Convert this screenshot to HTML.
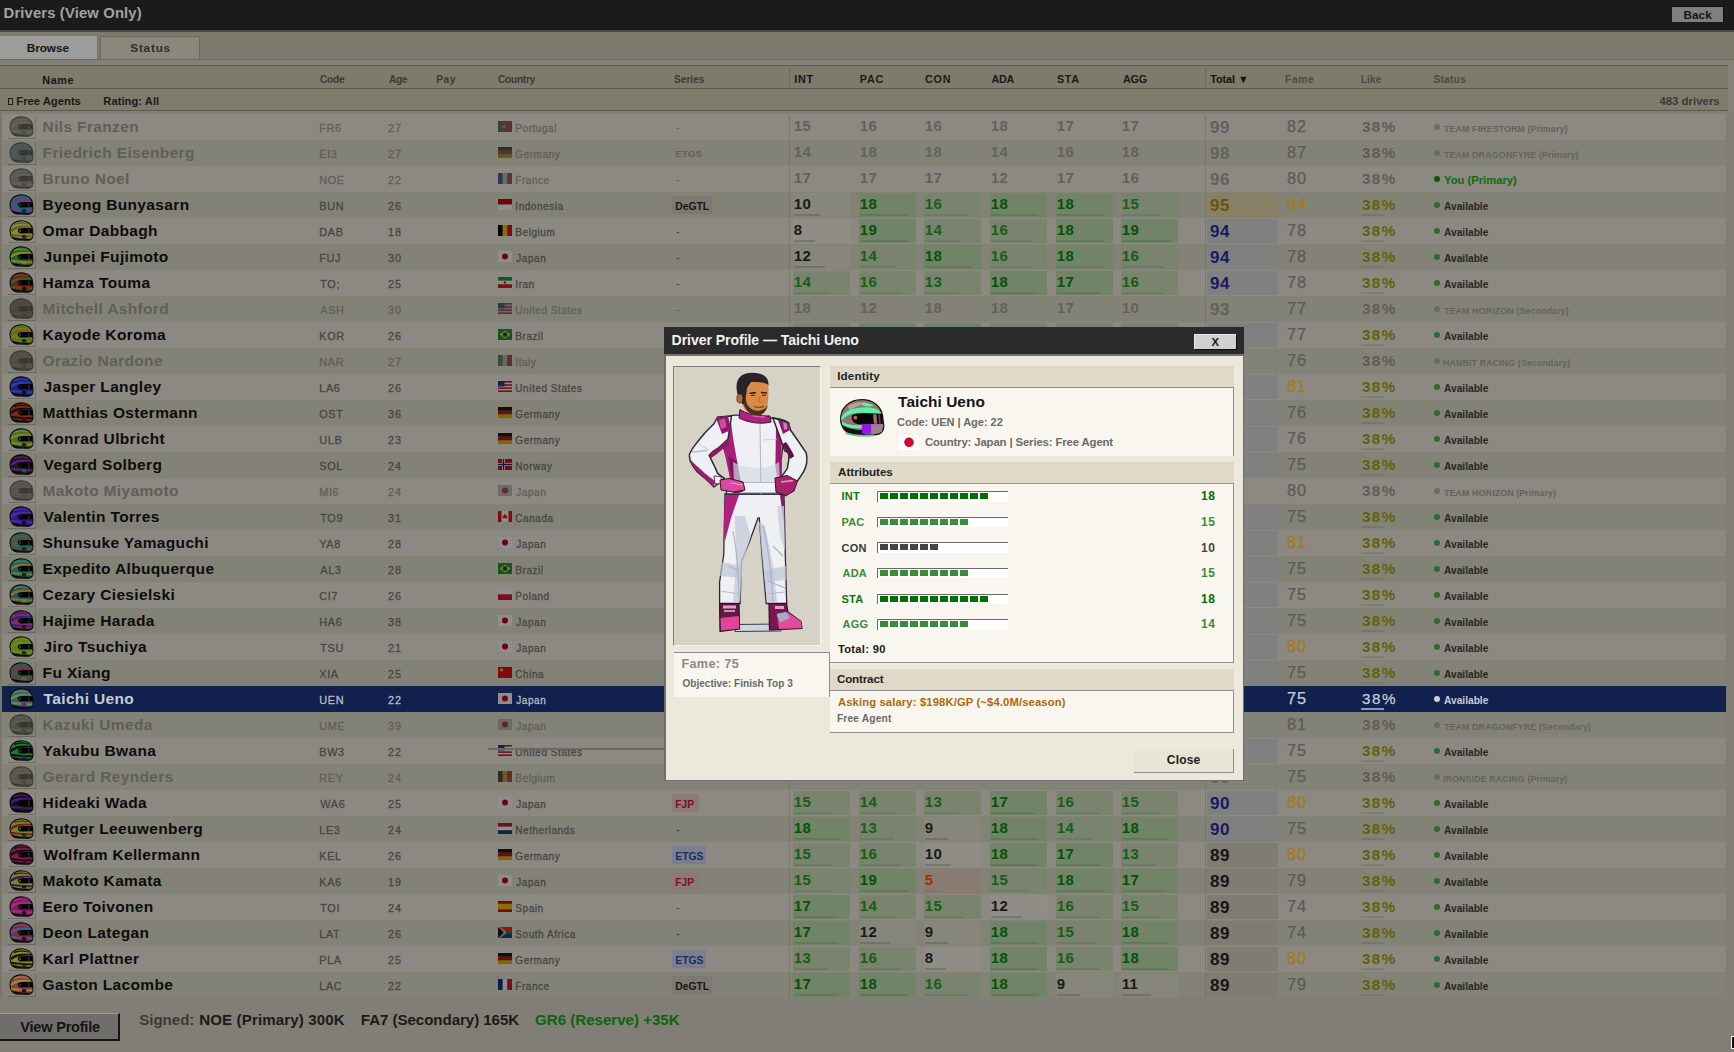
<!DOCTYPE html><html><head><meta charset="utf-8"><style>
html,body{margin:0;padding:0;}
body{width:1734px;height:1052px;overflow:hidden;position:relative;background:#817e75;font-family:"DejaVu Sans","Liberation Sans",sans-serif;}
.t{position:absolute;white-space:nowrap;}
.r{position:absolute;}

</style></head><body>
<div class="r" style="left:0px;top:0px;width:1734px;height:30px;background:#1b1b1b;"></div>
<div class="r" style="left:0px;top:30px;width:1734px;height:1.6px;background:#4b4b4a;"></div>
<div class="t" style="left:3.6px;top:4.22px;font-size:14.83px;line-height:19.28px;color:#a2a2a2;font-family:'Liberation Sans', 'DejaVu Sans', sans-serif;font-weight:bold;letter-spacing:0.13px;-webkit-text-stroke:0;">Drivers (View Only)</div>
<div class="r" style="left:1671.5px;top:6px;width:52px;height:16px;background:#7f7f7f;box-sizing:border-box;border-top:1px solid #0c0c0c;border-right:1px solid #0c0c0c;"></div>
<div class="t" style="left:1683.6px;top:6.70px;font-size:11.64px;line-height:15.13px;color:#141414;font-family:'Liberation Sans', 'DejaVu Sans', sans-serif;font-weight:bold;letter-spacing:0.07px;-webkit-text-stroke:0;">Back</div>
<div class="r" style="left:0px;top:31.6px;width:1734px;height:28px;background:#7e7b6e;"></div>
<div class="r" style="left:0px;top:35.8px;width:97px;height:23.4px;background:#9c9c9a;border-right:1px solid #77746a;"></div>
<div class="r" style="left:99.5px;top:35.8px;width:100px;height:23.4px;background:#8b877b;box-sizing:border-box;border:1px solid #6a675d;border-bottom:none;border-radius:2px 2px 0 0;"></div>
<div class="t" style="left:26.7px;top:40.27px;font-size:11.77px;line-height:15.3px;color:#161616;font-family:'Liberation Sans', 'DejaVu Sans', sans-serif;font-weight:bold;letter-spacing:-0.04px;-webkit-text-stroke:0;">Browse</div>
<div class="t" style="left:130.3px;top:40.27px;font-size:11.77px;line-height:15.3px;color:#2e2e2b;font-family:'Liberation Sans', 'DejaVu Sans', sans-serif;font-weight:bold;letter-spacing:0.78px;-webkit-text-stroke:0;">Status</div>
<div class="r" style="left:0px;top:59px;width:1734px;height:1px;background:#6c6a62;"></div>
<div class="r" style="left:0px;top:60px;width:1734px;height:5px;background:#84817a;"></div>
<div class="r" style="left:0px;top:65px;width:1728px;height:1px;background:#5f5d55;"></div>
<div class="r" style="left:0px;top:66px;width:1728px;height:22px;background:#7e7a6c;"></div>
<div class="r" style="left:0px;top:88px;width:1728px;height:1px;background:#5a584c;"></div>
<div class="t" style="left:42.3px;top:72.77px;font-size:10.87px;line-height:14.13px;color:#161616;font-family:'Liberation Sans', 'DejaVu Sans', sans-serif;font-weight:bold;letter-spacing:0.53px;-webkit-text-stroke:0;">Name</div>
<div class="t" style="left:319.9px;top:73.47px;font-size:10.17px;line-height:13.22px;color:#3a3a37;font-family:'Liberation Sans', 'DejaVu Sans', sans-serif;font-weight:bold;letter-spacing:-0.2px;-webkit-text-stroke:0;">Code</div>
<div class="t" style="left:389.1px;top:73.47px;font-size:10.17px;line-height:13.22px;color:#3a3a37;font-family:'Liberation Sans', 'DejaVu Sans', sans-serif;font-weight:bold;letter-spacing:-0.4px;-webkit-text-stroke:0;">Age</div>
<div class="t" style="left:436.3px;top:73.47px;font-size:10.17px;line-height:13.22px;color:#3a3a37;font-family:'Liberation Sans', 'DejaVu Sans', sans-serif;font-weight:bold;letter-spacing:0.55px;-webkit-text-stroke:0;">Pay</div>
<div class="t" style="left:498.0px;top:73.47px;font-size:10.17px;line-height:13.22px;color:#3a3a37;font-family:'Liberation Sans', 'DejaVu Sans', sans-serif;font-weight:bold;letter-spacing:-0.28px;-webkit-text-stroke:0;">Country</div>
<div class="t" style="left:674.1px;top:73.47px;font-size:10.17px;line-height:13.22px;color:#3a3a37;font-family:'Liberation Sans', 'DejaVu Sans', sans-serif;font-weight:bold;letter-spacing:-0.04px;-webkit-text-stroke:0;">Series</div>
<div class="t" style="left:794.3px;top:72.88px;font-size:10.76px;line-height:13.99px;color:#161616;font-family:'Liberation Sans', 'DejaVu Sans', sans-serif;font-weight:bold;letter-spacing:0.7px;-webkit-text-stroke:0;">INT</div>
<div class="t" style="left:859.8px;top:72.88px;font-size:10.76px;line-height:13.99px;color:#1a1a1a;font-family:'Liberation Sans', 'DejaVu Sans', sans-serif;font-weight:bold;letter-spacing:0.8px;-webkit-text-stroke:0;">PAC</div>
<div class="t" style="left:925.0px;top:72.88px;font-size:10.76px;line-height:13.99px;color:#1a1a1a;font-family:'Liberation Sans', 'DejaVu Sans', sans-serif;font-weight:bold;letter-spacing:0.8px;-webkit-text-stroke:0;">CON</div>
<div class="t" style="left:991.5px;top:72.88px;font-size:10.76px;line-height:13.99px;color:#1a1a1a;font-family:'Liberation Sans', 'DejaVu Sans', sans-serif;font-weight:bold;letter-spacing:-0.25px;-webkit-text-stroke:0;">ADA</div>
<div class="t" style="left:1056.9px;top:72.88px;font-size:10.76px;line-height:13.99px;color:#1a1a1a;font-family:'Liberation Sans', 'DejaVu Sans', sans-serif;font-weight:bold;letter-spacing:0.7px;-webkit-text-stroke:0;">STA</div>
<div class="t" style="left:1123.0px;top:72.88px;font-size:10.76px;line-height:13.99px;color:#1a1a1a;font-family:'Liberation Sans', 'DejaVu Sans', sans-serif;font-weight:bold;letter-spacing:-0.15px;-webkit-text-stroke:0;">AGG</div>
<div class="t" style="left:1210.2px;top:72.88px;font-size:10.76px;line-height:13.99px;color:#121212;font-family:'Liberation Sans', 'DejaVu Sans', sans-serif;font-weight:bold;letter-spacing:0.0px;-webkit-text-stroke:0;">Total ▼</div>
<div class="t" style="left:1285.1px;top:73.47px;font-size:10.17px;line-height:13.22px;color:#4a4a46;font-family:'Liberation Sans', 'DejaVu Sans', sans-serif;font-weight:bold;letter-spacing:0.67px;-webkit-text-stroke:0;">Fame</div>
<div class="t" style="left:1360.7px;top:73.47px;font-size:10.17px;line-height:13.22px;color:#4a4a46;font-family:'Liberation Sans', 'DejaVu Sans', sans-serif;font-weight:bold;letter-spacing:0.17px;-webkit-text-stroke:0;">Like</div>
<div class="t" style="left:1433.4px;top:73.47px;font-size:10.17px;line-height:13.22px;color:#4a4a46;font-family:'Liberation Sans', 'DejaVu Sans', sans-serif;font-weight:bold;letter-spacing:0.28px;-webkit-text-stroke:0;">Status</div>
<div class="r" style="left:789px;top:68px;width:1px;height:20px;background:#6c695e;"></div>
<div class="r" style="left:1205px;top:68px;width:1px;height:20px;background:#6c695e;"></div>
<div class="r" style="left:0px;top:89px;width:1728px;height:21px;background:#7f7b6d;"></div>
<div class="r" style="left:0px;top:110px;width:1728px;height:1.3px;background:#5f5a48;"></div>
<div class="r" style="left:8px;top:97.5px;width:4.5px;height:7.5px;border:1px solid #1e1e1e;box-sizing:border-box;"></div>
<div class="t" style="left:16.3px;top:93.58px;font-size:11.36px;line-height:14.77px;color:#1a1a1a;font-family:'Liberation Sans', 'DejaVu Sans', sans-serif;font-weight:bold;letter-spacing:-0.06px;-webkit-text-stroke:0;">Free Agents</div>
<div class="t" style="left:103.3px;top:93.83px;font-size:11.11px;line-height:14.44px;color:#1a1a1a;font-family:'Liberation Sans', 'DejaVu Sans', sans-serif;font-weight:bold;letter-spacing:0.07px;-webkit-text-stroke:0;">Rating: All</div>
<div class="t" style="left:1659.4px;top:93.51px;font-size:11.43px;line-height:14.86px;color:#3a3a37;font-family:'Liberation Sans', 'DejaVu Sans', sans-serif;font-weight:bold;letter-spacing:0.0px;-webkit-text-stroke:0;">483 drivers</div>
<div class="r" style="left:0px;top:111.3px;width:1734px;height:890px;background:#817e75;"></div>
<div class="r" style="left:1726px;top:111.3px;width:8px;height:887px;background:#807e76;"></div>
<div class="r" style="left:1728px;top:60px;width:6px;height:51.3px;background:#85827a;"></div>
<div class="r" style="left:0px;top:112px;width:2px;height:886px;background:#7b776a;"></div>
<div class="r" style="left:2px;top:114px;width:1724px;height:26px;background:#8b8981;"></div>
<div class="r" style="left:8px;top:138px;width:28px;height:1px;background:rgba(60,58,50,0.35);"></div>
<div class="r" style="left:35px;top:116px;width:1px;height:23px;background:rgba(60,58,50,0.25);"></div>
<svg class="r" style="left:8.5px;top:115.8px;filter:brightness(0.5) saturate(0.7)" width="25.0" height="21.0" viewBox="0 0 26 22"><g opacity="0.6">
<path d="M1,12 C0.5,5 6,0.8 13,0.8 C19.5,0.8 24,4.5 24.6,10 L25,16 C25,19.5 22.5,21.2 19,21.2 L8,20.8 C4,20.3 1.5,17 1,12 Z" fill="#6e7a3c" stroke="#0a0a0a" stroke-width="1.1"/>
<path d="M5,4.2 C9,2.4 15,2.2 20,3.6 L20.8,4.8 C15,3.6 9.5,3.8 5.6,5.6 Z" fill="#8a9a48"/>
<path d="M1.6,10.5 C5,6.5 12,5.4 22.5,6.4 L23.6,8 C15,7.2 8,8 2.2,12.6 Z" fill="#8a9a48"/>
<path d="M1.8,14.4 C7,14.8 13,16 24.6,16.2 L24.5,18 C14,18 7,17.4 2.8,17 Z" fill="#8a9a48"/>
<path d="M2.6,17.2 C7,18.6 13,19.6 23.5,19.6 C22.5,20.8 21,21.2 19,21.2 L8,20.8 C5,20.4 3.4,19 2.6,17.2 Z" fill="#141414"/>
<path d="M9.6,9.4 C11.5,8.4 16,8.2 24.6,8.6 L24.8,13.8 L12.6,14.2 C10.4,14 9.2,12.6 9.2,11.2 C9.2,10.4 9.3,9.8 9.6,9.4 Z" fill="#050508"/>
<circle cx="11.3" cy="11.2" r="1.3" fill="#6e7a3c" opacity="0.55"/>
<path d="M19.6,8.8 L21.2,8.8 L21.6,13.8 L20,13.9 Z" fill="#fff" opacity="0.22"/>
<path d="M13.5,15.6 L18,16 L18,19.4 L13.5,19.2 Z" fill="#5a4aa0"/>
</g></svg>
<div class="t" style="left:42.6px;top:116.55px;font-size:15.5px;line-height:20.15px;color:#5f5e5a;font-family:'Liberation Sans', 'DejaVu Sans', sans-serif;font-weight:bold;letter-spacing:0.35px;-webkit-text-stroke:0;">Nils Franzen</div>
<div class="t" style="left:319.3px;top:121.14px;font-size:10.9px;line-height:14.17px;color:#5f5e5a;font-family:'Liberation Sans', 'DejaVu Sans', sans-serif;font-weight:normal;letter-spacing:0.6px;-webkit-text-stroke:0.3px #5f5e5a;">FR6</div>
<div class="t" style="left:387.9px;top:121.24px;font-size:10.8px;line-height:14.04px;color:#5f5e5a;font-family:'Liberation Sans', 'DejaVu Sans', sans-serif;font-weight:normal;letter-spacing:1px;-webkit-text-stroke:0.3px #5f5e5a;">27</div>
<svg class="r" style="left:498px;top:121px" width="14" height="11" viewBox="0 0 14 11"><g opacity="0.45"><rect width="6" height="11" fill="#1f6a2a"/><rect x="6" width="8" height="11" fill="#b02020"/><circle cx="6" cy="5.5" r="2" fill="#d0b020"/></g><rect width="14" height="11" fill="rgba(0,0,0,0.42)"/></svg>
<div class="t" style="left:515.3px;top:122.03px;font-size:10px;line-height:13.0px;color:#5f5e5a;font-family:'Liberation Sans', 'DejaVu Sans', sans-serif;font-weight:normal;letter-spacing:0.55px;-webkit-text-stroke:0.3px #5f5e5a;">Portugal</div>
<div class="t" style="left:676.3px;top:122.43px;font-size:9.6px;line-height:12.48px;color:#5f5e5a;font-family:'Liberation Sans', 'DejaVu Sans', sans-serif;font-weight:bold;letter-spacing:0.2px;-webkit-text-stroke:0;">-</div>
<div class="r" style="left:789px;top:115px;width:1px;height:24px;background:rgba(90,88,78,0.35);"></div>
<div class="t" style="left:793.8px;top:116.45px;font-size:15px;line-height:19.5px;color:#62615d;font-family:'Liberation Sans', 'DejaVu Sans', sans-serif;font-weight:bold;-webkit-text-stroke:0px #62615d;letter-spacing:0.3px;">15</div>
<div class="t" style="left:859.8px;top:116.45px;font-size:15px;line-height:19.5px;color:#62615d;font-family:'Liberation Sans', 'DejaVu Sans', sans-serif;font-weight:bold;-webkit-text-stroke:0px #62615d;letter-spacing:0.3px;">16</div>
<div class="t" style="left:924.8px;top:116.45px;font-size:15px;line-height:19.5px;color:#62615d;font-family:'Liberation Sans', 'DejaVu Sans', sans-serif;font-weight:bold;-webkit-text-stroke:0px #62615d;letter-spacing:0.3px;">16</div>
<div class="t" style="left:990.8px;top:116.45px;font-size:15px;line-height:19.5px;color:#62615d;font-family:'Liberation Sans', 'DejaVu Sans', sans-serif;font-weight:bold;-webkit-text-stroke:0px #62615d;letter-spacing:0.3px;">18</div>
<div class="t" style="left:1056.8px;top:116.45px;font-size:15px;line-height:19.5px;color:#62615d;font-family:'Liberation Sans', 'DejaVu Sans', sans-serif;font-weight:bold;-webkit-text-stroke:0px #62615d;letter-spacing:0.3px;">17</div>
<div class="t" style="left:1121.8px;top:116.45px;font-size:15px;line-height:19.5px;color:#62615d;font-family:'Liberation Sans', 'DejaVu Sans', sans-serif;font-weight:bold;-webkit-text-stroke:0px #62615d;letter-spacing:0.3px;">17</div>
<div class="r" style="left:1205px;top:115px;width:1px;height:24px;background:rgba(90,88,78,0.35);"></div>
<div class="t" style="left:1210px;top:116.66px;font-size:17px;line-height:22.1px;color:#62615d;font-family:'Liberation Sans', 'DejaVu Sans', sans-serif;font-weight:bold;-webkit-text-stroke:0px #62615d;letter-spacing:0.5px;">99</div>
<div class="t" style="left:1287px;top:116.16px;font-size:16.3px;line-height:21.19px;color:#5c5b57;font-family:'Liberation Sans', 'DejaVu Sans', sans-serif;font-weight:normal;-webkit-text-stroke:0.25px #5c5b57;letter-spacing:1px;">82</div>
<div class="t" style="left:1362px;top:117.15px;font-size:15.2px;line-height:19.76px;color:#5e5d59;font-family:'Liberation Sans', 'DejaVu Sans', sans-serif;font-weight:bold;-webkit-text-stroke:0px #5e5d59;letter-spacing:1.4px;">38%</div>
<div class="r" style="left:1434px;top:124px;width:6px;height:6px;border-radius:50%;background:#6a6a66"></div>
<div class="t" style="left:1444.0px;top:123.83px;font-size:8.9px;line-height:11.57px;color:#63625e;font-family:'Liberation Sans', 'DejaVu Sans', sans-serif;font-weight:bold;letter-spacing:0.1px;-webkit-text-stroke:0;">TEAM FIRESTORM (Primary)</div>
<div class="r" style="left:2px;top:140px;width:1724px;height:26px;background:#838276;"></div>
<div class="r" style="left:8px;top:164px;width:28px;height:1px;background:rgba(60,58,50,0.35);"></div>
<div class="r" style="left:35px;top:142px;width:1px;height:23px;background:rgba(60,58,50,0.25);"></div>
<svg class="r" style="left:8.5px;top:141.8px;filter:brightness(0.5) saturate(0.7)" width="25.0" height="21.0" viewBox="0 0 26 22"><g opacity="0.6">
<path d="M1,12 C0.5,5 6,0.8 13,0.8 C19.5,0.8 24,4.5 24.6,10 L25,16 C25,19.5 22.5,21.2 19,21.2 L8,20.8 C4,20.3 1.5,17 1,12 Z" fill="#4d7a86" stroke="#0a0a0a" stroke-width="1.1"/>
<path d="M5,4.2 C9,2.4 15,2.2 20,3.6 L20.8,4.8 C15,3.6 9.5,3.8 5.6,5.6 Z" fill="#5c6aa0"/>
<path d="M1.6,10.5 C5,6.5 12,5.4 22.5,6.4 L23.6,8 C15,7.2 8,8 2.2,12.6 Z" fill="#5c6aa0"/>
<path d="M1.8,14.4 C7,14.8 13,16 24.6,16.2 L24.5,18 C14,18 7,17.4 2.8,17 Z" fill="#5c6aa0"/>
<path d="M2.6,17.2 C7,18.6 13,19.6 23.5,19.6 C22.5,20.8 21,21.2 19,21.2 L8,20.8 C5,20.4 3.4,19 2.6,17.2 Z" fill="#141414"/>
<path d="M9.6,9.4 C11.5,8.4 16,8.2 24.6,8.6 L24.8,13.8 L12.6,14.2 C10.4,14 9.2,12.6 9.2,11.2 C9.2,10.4 9.3,9.8 9.6,9.4 Z" fill="#050508"/>
<circle cx="11.3" cy="11.2" r="1.3" fill="#4d7a86" opacity="0.55"/>
<path d="M19.6,8.8 L21.2,8.8 L21.6,13.8 L20,13.9 Z" fill="#fff" opacity="0.22"/>
<path d="M13.5,15.6 L18,16 L18,19.4 L13.5,19.2 Z" fill="#3a3a5a"/>
</g></svg>
<div class="t" style="left:42.6px;top:142.55px;font-size:15.5px;line-height:20.15px;color:#5f5e5a;font-family:'Liberation Sans', 'DejaVu Sans', sans-serif;font-weight:bold;letter-spacing:0.35px;-webkit-text-stroke:0;">Friedrich Eisenberg</div>
<div class="t" style="left:319.3px;top:147.14px;font-size:10.9px;line-height:14.17px;color:#5f5e5a;font-family:'Liberation Sans', 'DejaVu Sans', sans-serif;font-weight:normal;letter-spacing:0.6px;-webkit-text-stroke:0.3px #5f5e5a;">EI3</div>
<div class="t" style="left:387.9px;top:147.24px;font-size:10.8px;line-height:14.04px;color:#5f5e5a;font-family:'Liberation Sans', 'DejaVu Sans', sans-serif;font-weight:normal;letter-spacing:1px;-webkit-text-stroke:0.3px #5f5e5a;">27</div>
<svg class="r" style="left:498px;top:147px" width="14" height="11" viewBox="0 0 14 11"><g opacity="0.45"><rect width="14" height="3.7" fill="#1a1a1a"/><rect y="3.7" width="14" height="3.7" fill="#c01818"/><rect y="7.4" width="14" height="3.6" fill="#e0b000"/></g><rect width="14" height="11" fill="rgba(0,0,0,0.42)"/></svg>
<div class="t" style="left:515.3px;top:148.03px;font-size:10px;line-height:13.0px;color:#5f5e5a;font-family:'Liberation Sans', 'DejaVu Sans', sans-serif;font-weight:normal;letter-spacing:0.55px;-webkit-text-stroke:0.3px #5f5e5a;">Germany</div>
<div class="t" style="left:675.3px;top:148.43px;font-size:9.6px;line-height:12.48px;color:#5f5e5a;font-family:'Liberation Sans', 'DejaVu Sans', sans-serif;font-weight:bold;letter-spacing:0.2px;-webkit-text-stroke:0;">ETGS</div>
<div class="r" style="left:789px;top:141px;width:1px;height:24px;background:rgba(90,88,78,0.35);"></div>
<div class="t" style="left:793.8px;top:142.45px;font-size:15px;line-height:19.5px;color:#62615d;font-family:'Liberation Sans', 'DejaVu Sans', sans-serif;font-weight:bold;-webkit-text-stroke:0px #62615d;letter-spacing:0.3px;">14</div>
<div class="t" style="left:859.8px;top:142.45px;font-size:15px;line-height:19.5px;color:#62615d;font-family:'Liberation Sans', 'DejaVu Sans', sans-serif;font-weight:bold;-webkit-text-stroke:0px #62615d;letter-spacing:0.3px;">18</div>
<div class="t" style="left:924.8px;top:142.45px;font-size:15px;line-height:19.5px;color:#62615d;font-family:'Liberation Sans', 'DejaVu Sans', sans-serif;font-weight:bold;-webkit-text-stroke:0px #62615d;letter-spacing:0.3px;">18</div>
<div class="t" style="left:990.8px;top:142.45px;font-size:15px;line-height:19.5px;color:#62615d;font-family:'Liberation Sans', 'DejaVu Sans', sans-serif;font-weight:bold;-webkit-text-stroke:0px #62615d;letter-spacing:0.3px;">14</div>
<div class="t" style="left:1056.8px;top:142.45px;font-size:15px;line-height:19.5px;color:#62615d;font-family:'Liberation Sans', 'DejaVu Sans', sans-serif;font-weight:bold;-webkit-text-stroke:0px #62615d;letter-spacing:0.3px;">16</div>
<div class="t" style="left:1121.8px;top:142.45px;font-size:15px;line-height:19.5px;color:#62615d;font-family:'Liberation Sans', 'DejaVu Sans', sans-serif;font-weight:bold;-webkit-text-stroke:0px #62615d;letter-spacing:0.3px;">18</div>
<div class="r" style="left:1205px;top:141px;width:1px;height:24px;background:rgba(90,88,78,0.35);"></div>
<div class="t" style="left:1210px;top:142.66px;font-size:17px;line-height:22.1px;color:#62615d;font-family:'Liberation Sans', 'DejaVu Sans', sans-serif;font-weight:bold;-webkit-text-stroke:0px #62615d;letter-spacing:0.5px;">98</div>
<div class="t" style="left:1287px;top:142.16px;font-size:16.3px;line-height:21.19px;color:#5c5b57;font-family:'Liberation Sans', 'DejaVu Sans', sans-serif;font-weight:normal;-webkit-text-stroke:0.25px #5c5b57;letter-spacing:1px;">87</div>
<div class="t" style="left:1362px;top:143.15px;font-size:15.2px;line-height:19.76px;color:#5e5d59;font-family:'Liberation Sans', 'DejaVu Sans', sans-serif;font-weight:bold;-webkit-text-stroke:0px #5e5d59;letter-spacing:1.4px;">38%</div>
<div class="r" style="left:1434px;top:150px;width:6px;height:6px;border-radius:50%;background:#6a6a66"></div>
<div class="t" style="left:1444.0px;top:149.83px;font-size:8.9px;line-height:11.57px;color:#63625e;font-family:'Liberation Sans', 'DejaVu Sans', sans-serif;font-weight:bold;letter-spacing:0.1px;-webkit-text-stroke:0;">TEAM DRAGONFYRE (Primary)</div>
<div class="r" style="left:2px;top:166px;width:1724px;height:26px;background:#8b8981;"></div>
<div class="r" style="left:8px;top:190px;width:28px;height:1px;background:rgba(60,58,50,0.35);"></div>
<div class="r" style="left:35px;top:168px;width:1px;height:23px;background:rgba(60,58,50,0.25);"></div>
<svg class="r" style="left:8.5px;top:167.8px;filter:brightness(0.5) saturate(0.7)" width="25.0" height="21.0" viewBox="0 0 26 22"><g opacity="0.6">
<path d="M1,12 C0.5,5 6,0.8 13,0.8 C19.5,0.8 24,4.5 24.6,10 L25,16 C25,19.5 22.5,21.2 19,21.2 L8,20.8 C4,20.3 1.5,17 1,12 Z" fill="#8a5a8a" stroke="#0a0a0a" stroke-width="1.1"/>
<path d="M5,4.2 C9,2.4 15,2.2 20,3.6 L20.8,4.8 C15,3.6 9.5,3.8 5.6,5.6 Z" fill="#6a9a5a"/>
<path d="M1.6,10.5 C5,6.5 12,5.4 22.5,6.4 L23.6,8 C15,7.2 8,8 2.2,12.6 Z" fill="#6a9a5a"/>
<path d="M1.8,14.4 C7,14.8 13,16 24.6,16.2 L24.5,18 C14,18 7,17.4 2.8,17 Z" fill="#6a9a5a"/>
<path d="M2.6,17.2 C7,18.6 13,19.6 23.5,19.6 C22.5,20.8 21,21.2 19,21.2 L8,20.8 C5,20.4 3.4,19 2.6,17.2 Z" fill="#141414"/>
<path d="M9.6,9.4 C11.5,8.4 16,8.2 24.6,8.6 L24.8,13.8 L12.6,14.2 C10.4,14 9.2,12.6 9.2,11.2 C9.2,10.4 9.3,9.8 9.6,9.4 Z" fill="#050508"/>
<circle cx="11.3" cy="11.2" r="1.3" fill="#8a5a8a" opacity="0.55"/>
<path d="M19.6,8.8 L21.2,8.8 L21.6,13.8 L20,13.9 Z" fill="#fff" opacity="0.22"/>
<path d="M13.5,15.6 L18,16 L18,19.4 L13.5,19.2 Z" fill="#5a3a5a"/>
</g></svg>
<div class="t" style="left:42.6px;top:168.55px;font-size:15.5px;line-height:20.15px;color:#5f5e5a;font-family:'Liberation Sans', 'DejaVu Sans', sans-serif;font-weight:bold;letter-spacing:0.35px;-webkit-text-stroke:0;">Bruno Noel</div>
<div class="t" style="left:319.3px;top:173.14px;font-size:10.9px;line-height:14.17px;color:#5f5e5a;font-family:'Liberation Sans', 'DejaVu Sans', sans-serif;font-weight:normal;letter-spacing:0.6px;-webkit-text-stroke:0.3px #5f5e5a;">NOE</div>
<div class="t" style="left:387.9px;top:173.24px;font-size:10.8px;line-height:14.04px;color:#5f5e5a;font-family:'Liberation Sans', 'DejaVu Sans', sans-serif;font-weight:normal;letter-spacing:1px;-webkit-text-stroke:0.3px #5f5e5a;">22</div>
<svg class="r" style="left:498px;top:173px" width="14" height="11" viewBox="0 0 14 11"><g opacity="0.45"><rect width="4.7" height="11" fill="#1a2a8a"/><rect x="4.7" width="4.6" height="11" fill="#f0f0f0"/><rect x="9.3" width="4.7" height="11" fill="#d01a2a"/></g><rect width="14" height="11" fill="rgba(0,0,0,0.42)"/></svg>
<div class="t" style="left:515.3px;top:174.03px;font-size:10px;line-height:13.0px;color:#5f5e5a;font-family:'Liberation Sans', 'DejaVu Sans', sans-serif;font-weight:normal;letter-spacing:0.55px;-webkit-text-stroke:0.3px #5f5e5a;">France</div>
<div class="t" style="left:676.3px;top:174.43px;font-size:9.6px;line-height:12.48px;color:#5f5e5a;font-family:'Liberation Sans', 'DejaVu Sans', sans-serif;font-weight:bold;letter-spacing:0.2px;-webkit-text-stroke:0;">-</div>
<div class="r" style="left:789px;top:167px;width:1px;height:24px;background:rgba(90,88,78,0.35);"></div>
<div class="t" style="left:793.8px;top:168.45px;font-size:15px;line-height:19.5px;color:#62615d;font-family:'Liberation Sans', 'DejaVu Sans', sans-serif;font-weight:bold;-webkit-text-stroke:0px #62615d;letter-spacing:0.3px;">17</div>
<div class="t" style="left:859.8px;top:168.45px;font-size:15px;line-height:19.5px;color:#62615d;font-family:'Liberation Sans', 'DejaVu Sans', sans-serif;font-weight:bold;-webkit-text-stroke:0px #62615d;letter-spacing:0.3px;">17</div>
<div class="t" style="left:924.8px;top:168.45px;font-size:15px;line-height:19.5px;color:#62615d;font-family:'Liberation Sans', 'DejaVu Sans', sans-serif;font-weight:bold;-webkit-text-stroke:0px #62615d;letter-spacing:0.3px;">17</div>
<div class="t" style="left:990.8px;top:168.45px;font-size:15px;line-height:19.5px;color:#62615d;font-family:'Liberation Sans', 'DejaVu Sans', sans-serif;font-weight:bold;-webkit-text-stroke:0px #62615d;letter-spacing:0.3px;">12</div>
<div class="t" style="left:1056.8px;top:168.45px;font-size:15px;line-height:19.5px;color:#62615d;font-family:'Liberation Sans', 'DejaVu Sans', sans-serif;font-weight:bold;-webkit-text-stroke:0px #62615d;letter-spacing:0.3px;">17</div>
<div class="t" style="left:1121.8px;top:168.45px;font-size:15px;line-height:19.5px;color:#62615d;font-family:'Liberation Sans', 'DejaVu Sans', sans-serif;font-weight:bold;-webkit-text-stroke:0px #62615d;letter-spacing:0.3px;">16</div>
<div class="r" style="left:1205px;top:167px;width:1px;height:24px;background:rgba(90,88,78,0.35);"></div>
<div class="t" style="left:1210px;top:168.66px;font-size:17px;line-height:22.1px;color:#62615d;font-family:'Liberation Sans', 'DejaVu Sans', sans-serif;font-weight:bold;-webkit-text-stroke:0px #62615d;letter-spacing:0.5px;">96</div>
<div class="t" style="left:1287px;top:168.16px;font-size:16.3px;line-height:21.19px;color:#5c5b57;font-family:'Liberation Sans', 'DejaVu Sans', sans-serif;font-weight:normal;-webkit-text-stroke:0.25px #5c5b57;letter-spacing:1px;">80</div>
<div class="t" style="left:1362px;top:169.15px;font-size:15.2px;line-height:19.76px;color:#5e5d59;font-family:'Liberation Sans', 'DejaVu Sans', sans-serif;font-weight:bold;-webkit-text-stroke:0px #5e5d59;letter-spacing:1.4px;">38%</div>
<div class="r" style="left:1434px;top:176px;width:6px;height:6px;border-radius:50%;background:#0a5a0a"></div>
<div class="t" style="left:1444.0px;top:172.82px;font-size:11.22px;line-height:14.59px;color:#0f6a0f;font-family:'Liberation Sans', 'DejaVu Sans', sans-serif;font-weight:bold;letter-spacing:0.0px;-webkit-text-stroke:0;">You (Primary)</div>
<div class="r" style="left:2px;top:192px;width:1724px;height:26px;background:#838276;"></div>
<div class="r" style="left:8px;top:216px;width:28px;height:1px;background:rgba(60,58,50,0.35);"></div>
<div class="r" style="left:35px;top:194px;width:1px;height:23px;background:rgba(60,58,50,0.25);"></div>
<svg class="r" style="left:8.5px;top:193.8px;filter:brightness(0.66)" width="25.0" height="21.0" viewBox="0 0 26 22"><g opacity="1.0">
<path d="M1,12 C0.5,5 6,0.8 13,0.8 C19.5,0.8 24,4.5 24.6,10 L25,16 C25,19.5 22.5,21.2 19,21.2 L8,20.8 C4,20.3 1.5,17 1,12 Z" fill="#1aa0b0" stroke="#0a0a0a" stroke-width="1.1"/>
<path d="M5,4.2 C9,2.4 15,2.2 20,3.6 L20.8,4.8 C15,3.6 9.5,3.8 5.6,5.6 Z" fill="#e040c0"/>
<path d="M1.6,10.5 C5,6.5 12,5.4 22.5,6.4 L23.6,8 C15,7.2 8,8 2.2,12.6 Z" fill="#e040c0"/>
<path d="M1.8,14.4 C7,14.8 13,16 24.6,16.2 L24.5,18 C14,18 7,17.4 2.8,17 Z" fill="#e040c0"/>
<path d="M2.6,17.2 C7,18.6 13,19.6 23.5,19.6 C22.5,20.8 21,21.2 19,21.2 L8,20.8 C5,20.4 3.4,19 2.6,17.2 Z" fill="#141414"/>
<path d="M9.6,9.4 C11.5,8.4 16,8.2 24.6,8.6 L24.8,13.8 L12.6,14.2 C10.4,14 9.2,12.6 9.2,11.2 C9.2,10.4 9.3,9.8 9.6,9.4 Z" fill="#050508"/>
<circle cx="11.3" cy="11.2" r="1.3" fill="#1aa0b0" opacity="0.55"/>
<path d="M19.6,8.8 L21.2,8.8 L21.6,13.8 L20,13.9 Z" fill="#fff" opacity="0.22"/>
<path d="M13.5,15.6 L18,16 L18,19.4 L13.5,19.2 Z" fill="#1a3a6a"/>
</g></svg>
<div class="t" style="left:42.6px;top:194.55px;font-size:15.5px;line-height:20.15px;color:#0c0c0c;font-family:'Liberation Sans', 'DejaVu Sans', sans-serif;font-weight:bold;letter-spacing:0.35px;-webkit-text-stroke:0;">Byeong Bunyasarn</div>
<div class="t" style="left:319.3px;top:199.14px;font-size:10.9px;line-height:14.17px;color:#464643;font-family:'Liberation Sans', 'DejaVu Sans', sans-serif;font-weight:normal;letter-spacing:0.6px;-webkit-text-stroke:0.3px #464643;">BUN</div>
<div class="t" style="left:387.9px;top:199.24px;font-size:10.8px;line-height:14.04px;color:#464643;font-family:'Liberation Sans', 'DejaVu Sans', sans-serif;font-weight:normal;letter-spacing:1px;-webkit-text-stroke:0.3px #464643;">26</div>
<svg class="r" style="left:498px;top:199px" width="14" height="11" viewBox="0 0 14 11"><g><rect width="14" height="5.5" fill="#d00000"/><rect y="5.5" width="14" height="5.5" fill="#f4f4f4"/></g><rect width="14" height="11" fill="rgba(0,0,0,0.42)"/></svg>
<div class="t" style="left:515.3px;top:200.03px;font-size:10px;line-height:13.0px;color:#464643;font-family:'Liberation Sans', 'DejaVu Sans', sans-serif;font-weight:normal;letter-spacing:0.55px;-webkit-text-stroke:0.3px #464643;">Indonesia</div>
<div class="r" style="left:672px;top:196px;width:40px;height:18px;background:#7d796e;"></div>
<div class="t" style="left:675.3px;top:199.74px;font-size:10.3px;line-height:13.39px;color:#161616;font-family:'Liberation Sans', 'DejaVu Sans', sans-serif;font-weight:bold;letter-spacing:0px;-webkit-text-stroke:0;">DeGTL</div>
<div class="r" style="left:789px;top:193px;width:1px;height:24px;background:rgba(90,88,78,0.35);"></div>
<div class="r" style="left:793px;top:193px;width:57px;height:24px;background:rgba(255,255,250,0.035);"></div>
<div class="r" style="left:794px;top:214px;width:26px;height:2px;background:rgba(70,68,58,0.3);"></div>
<div class="t" style="left:793.8px;top:194.45px;font-size:15px;line-height:19.5px;color:#1a1a18;font-family:'Liberation Sans', 'DejaVu Sans', sans-serif;font-weight:bold;-webkit-text-stroke:0px #1a1a18;letter-spacing:0.3px;">10</div>
<div class="r" style="left:859px;top:193px;width:57px;height:24px;background:#728467;"></div>
<div class="r" style="left:860px;top:214px;width:47px;height:2px;background:#62795a;"></div>
<div class="t" style="left:859.8px;top:194.45px;font-size:15px;line-height:19.5px;color:#065206;font-family:'Liberation Sans', 'DejaVu Sans', sans-serif;font-weight:bold;-webkit-text-stroke:0px #065206;letter-spacing:0.3px;">18</div>
<div class="r" style="left:924px;top:193px;width:57px;height:24px;background:#7a836e;"></div>
<div class="r" style="left:925px;top:214px;width:42px;height:2px;background:#6c7c64;"></div>
<div class="t" style="left:924.8px;top:194.45px;font-size:15px;line-height:19.5px;color:#175e17;font-family:'Liberation Sans', 'DejaVu Sans', sans-serif;font-weight:bold;-webkit-text-stroke:0px #175e17;letter-spacing:0.3px;">16</div>
<div class="r" style="left:990px;top:193px;width:57px;height:24px;background:#728467;"></div>
<div class="r" style="left:991px;top:214px;width:47px;height:2px;background:#62795a;"></div>
<div class="t" style="left:990.8px;top:194.45px;font-size:15px;line-height:19.5px;color:#065206;font-family:'Liberation Sans', 'DejaVu Sans', sans-serif;font-weight:bold;-webkit-text-stroke:0px #065206;letter-spacing:0.3px;">18</div>
<div class="r" style="left:1056px;top:193px;width:57px;height:24px;background:#728467;"></div>
<div class="r" style="left:1057px;top:214px;width:47px;height:2px;background:#62795a;"></div>
<div class="t" style="left:1056.8px;top:194.45px;font-size:15px;line-height:19.5px;color:#065206;font-family:'Liberation Sans', 'DejaVu Sans', sans-serif;font-weight:bold;-webkit-text-stroke:0px #065206;letter-spacing:0.3px;">18</div>
<div class="r" style="left:1121px;top:193px;width:57px;height:24px;background:#7a836e;"></div>
<div class="r" style="left:1122px;top:214px;width:39px;height:2px;background:#6c7c64;"></div>
<div class="t" style="left:1121.8px;top:194.45px;font-size:15px;line-height:19.5px;color:#175e17;font-family:'Liberation Sans', 'DejaVu Sans', sans-serif;font-weight:bold;-webkit-text-stroke:0px #175e17;letter-spacing:0.3px;">15</div>
<div class="r" style="left:1205px;top:193px;width:1px;height:24px;background:rgba(90,88,78,0.35);"></div>
<div class="r" style="left:1207px;top:193px;width:71px;height:24px;background:#878065;"></div>
<div class="t" style="left:1210px;top:194.66px;font-size:17px;line-height:22.1px;color:#6a5210;font-family:'Liberation Sans', 'DejaVu Sans', sans-serif;font-weight:bold;-webkit-text-stroke:0px #6a5210;letter-spacing:0.5px;">95</div>
<div class="t" style="left:1287px;top:194.16px;font-size:16.3px;line-height:21.19px;color:#a47a18;font-family:'Liberation Sans', 'DejaVu Sans', sans-serif;font-weight:normal;-webkit-text-stroke:0.25px #a47a18;letter-spacing:1px;">84</div>
<div class="t" style="left:1362px;top:195.15px;font-size:15.2px;line-height:19.76px;color:#626208;font-family:'Liberation Sans', 'DejaVu Sans', sans-serif;font-weight:bold;-webkit-text-stroke:0px #626208;letter-spacing:1.4px;">38%</div>
<div class="r" style="left:1361px;top:214px;width:23px;height:2px;background:rgba(100,96,70,0.32);"></div>
<div class="r" style="left:1434px;top:202px;width:6px;height:6px;border-radius:50%;background:#2e6a2e"></div>
<div class="t" style="left:1444.0px;top:199.84px;font-size:10.2px;line-height:13.26px;color:#262624;font-family:'Liberation Sans', 'DejaVu Sans', sans-serif;font-weight:bold;letter-spacing:0px;-webkit-text-stroke:0;">Available</div>
<div class="r" style="left:2px;top:218px;width:1724px;height:26px;background:#8b8981;"></div>
<div class="r" style="left:8px;top:242px;width:28px;height:1px;background:rgba(60,58,50,0.35);"></div>
<div class="r" style="left:35px;top:220px;width:1px;height:23px;background:rgba(60,58,50,0.25);"></div>
<svg class="r" style="left:8.5px;top:219.8px;filter:brightness(0.66)" width="25.0" height="21.0" viewBox="0 0 26 22"><g opacity="1.0">
<path d="M1,12 C0.5,5 6,0.8 13,0.8 C19.5,0.8 24,4.5 24.6,10 L25,16 C25,19.5 22.5,21.2 19,21.2 L8,20.8 C4,20.3 1.5,17 1,12 Z" fill="#c8d060" stroke="#0a0a0a" stroke-width="1.1"/>
<path d="M5,4.2 C9,2.4 15,2.2 20,3.6 L20.8,4.8 C15,3.6 9.5,3.8 5.6,5.6 Z" fill="#a08a30"/>
<path d="M1.6,10.5 C5,6.5 12,5.4 22.5,6.4 L23.6,8 C15,7.2 8,8 2.2,12.6 Z" fill="#a08a30"/>
<path d="M1.8,14.4 C7,14.8 13,16 24.6,16.2 L24.5,18 C14,18 7,17.4 2.8,17 Z" fill="#a08a30"/>
<path d="M2.6,17.2 C7,18.6 13,19.6 23.5,19.6 C22.5,20.8 21,21.2 19,21.2 L8,20.8 C5,20.4 3.4,19 2.6,17.2 Z" fill="#141414"/>
<path d="M9.6,9.4 C11.5,8.4 16,8.2 24.6,8.6 L24.8,13.8 L12.6,14.2 C10.4,14 9.2,12.6 9.2,11.2 C9.2,10.4 9.3,9.8 9.6,9.4 Z" fill="#050508"/>
<circle cx="11.3" cy="11.2" r="1.3" fill="#c8d060" opacity="0.55"/>
<path d="M19.6,8.8 L21.2,8.8 L21.6,13.8 L20,13.9 Z" fill="#fff" opacity="0.22"/>
<path d="M13.5,15.6 L18,16 L18,19.4 L13.5,19.2 Z" fill="#3a3a20"/>
</g></svg>
<div class="t" style="left:42.6px;top:220.55px;font-size:15.5px;line-height:20.15px;color:#0c0c0c;font-family:'Liberation Sans', 'DejaVu Sans', sans-serif;font-weight:bold;letter-spacing:0.35px;-webkit-text-stroke:0;">Omar Dabbagh</div>
<div class="t" style="left:319.3px;top:225.14px;font-size:10.9px;line-height:14.17px;color:#464643;font-family:'Liberation Sans', 'DejaVu Sans', sans-serif;font-weight:normal;letter-spacing:0.6px;-webkit-text-stroke:0.3px #464643;">DAB</div>
<div class="t" style="left:387.9px;top:225.24px;font-size:10.8px;line-height:14.04px;color:#464643;font-family:'Liberation Sans', 'DejaVu Sans', sans-serif;font-weight:normal;letter-spacing:1px;-webkit-text-stroke:0.3px #464643;">18</div>
<svg class="r" style="left:498px;top:225px" width="14" height="11" viewBox="0 0 14 11"><g><rect width="4.7" height="11" fill="#0a0a0a"/><rect x="4.7" width="4.6" height="11" fill="#f0c000"/><rect x="9.3" width="4.7" height="11" fill="#e01020"/></g><rect width="14" height="11" fill="rgba(0,0,0,0.42)"/></svg>
<div class="t" style="left:515.3px;top:226.03px;font-size:10px;line-height:13.0px;color:#464643;font-family:'Liberation Sans', 'DejaVu Sans', sans-serif;font-weight:normal;letter-spacing:0.55px;-webkit-text-stroke:0.3px #464643;">Belgium</div>
<div class="t" style="left:676.3px;top:226.43px;font-size:9.6px;line-height:12.48px;color:#464643;font-family:'Liberation Sans', 'DejaVu Sans', sans-serif;font-weight:bold;letter-spacing:0.2px;-webkit-text-stroke:0;">-</div>
<div class="r" style="left:789px;top:219px;width:1px;height:24px;background:rgba(90,88,78,0.35);"></div>
<div class="r" style="left:793px;top:219px;width:57px;height:24px;background:rgba(255,255,250,0.035);"></div>
<div class="r" style="left:794px;top:240px;width:21px;height:2px;background:rgba(70,68,58,0.3);"></div>
<div class="t" style="left:793.8px;top:220.45px;font-size:15px;line-height:19.5px;color:#1a1a18;font-family:'Liberation Sans', 'DejaVu Sans', sans-serif;font-weight:bold;-webkit-text-stroke:0px #1a1a18;letter-spacing:0.3px;">8</div>
<div class="r" style="left:859px;top:219px;width:57px;height:24px;background:#728467;"></div>
<div class="r" style="left:860px;top:240px;width:49px;height:2px;background:#62795a;"></div>
<div class="t" style="left:859.8px;top:220.45px;font-size:15px;line-height:19.5px;color:#065206;font-family:'Liberation Sans', 'DejaVu Sans', sans-serif;font-weight:bold;-webkit-text-stroke:0px #065206;letter-spacing:0.3px;">19</div>
<div class="r" style="left:924px;top:219px;width:57px;height:24px;background:#7a836e;"></div>
<div class="r" style="left:925px;top:240px;width:36px;height:2px;background:#6c7c64;"></div>
<div class="t" style="left:924.8px;top:220.45px;font-size:15px;line-height:19.5px;color:#175e17;font-family:'Liberation Sans', 'DejaVu Sans', sans-serif;font-weight:bold;-webkit-text-stroke:0px #175e17;letter-spacing:0.3px;">14</div>
<div class="r" style="left:990px;top:219px;width:57px;height:24px;background:#7a836e;"></div>
<div class="r" style="left:991px;top:240px;width:42px;height:2px;background:#6c7c64;"></div>
<div class="t" style="left:990.8px;top:220.45px;font-size:15px;line-height:19.5px;color:#175e17;font-family:'Liberation Sans', 'DejaVu Sans', sans-serif;font-weight:bold;-webkit-text-stroke:0px #175e17;letter-spacing:0.3px;">16</div>
<div class="r" style="left:1056px;top:219px;width:57px;height:24px;background:#728467;"></div>
<div class="r" style="left:1057px;top:240px;width:47px;height:2px;background:#62795a;"></div>
<div class="t" style="left:1056.8px;top:220.45px;font-size:15px;line-height:19.5px;color:#065206;font-family:'Liberation Sans', 'DejaVu Sans', sans-serif;font-weight:bold;-webkit-text-stroke:0px #065206;letter-spacing:0.3px;">18</div>
<div class="r" style="left:1121px;top:219px;width:57px;height:24px;background:#728467;"></div>
<div class="r" style="left:1122px;top:240px;width:49px;height:2px;background:#62795a;"></div>
<div class="t" style="left:1121.8px;top:220.45px;font-size:15px;line-height:19.5px;color:#065206;font-family:'Liberation Sans', 'DejaVu Sans', sans-serif;font-weight:bold;-webkit-text-stroke:0px #065206;letter-spacing:0.3px;">19</div>
<div class="r" style="left:1205px;top:219px;width:1px;height:24px;background:rgba(90,88,78,0.35);"></div>
<div class="r" style="left:1207px;top:219px;width:71px;height:24px;background:#808080;"></div>
<div class="t" style="left:1210px;top:220.66px;font-size:17px;line-height:22.1px;color:#1a1a60;font-family:'Liberation Sans', 'DejaVu Sans', sans-serif;font-weight:bold;-webkit-text-stroke:0px #1a1a60;letter-spacing:0.5px;">94</div>
<div class="t" style="left:1287px;top:220.16px;font-size:16.3px;line-height:21.19px;color:#5a5a58;font-family:'Liberation Sans', 'DejaVu Sans', sans-serif;font-weight:normal;-webkit-text-stroke:0.25px #5a5a58;letter-spacing:1px;">78</div>
<div class="t" style="left:1362px;top:221.15px;font-size:15.2px;line-height:19.76px;color:#626208;font-family:'Liberation Sans', 'DejaVu Sans', sans-serif;font-weight:bold;-webkit-text-stroke:0px #626208;letter-spacing:1.4px;">38%</div>
<div class="r" style="left:1361px;top:240px;width:23px;height:2px;background:rgba(100,96,70,0.32);"></div>
<div class="r" style="left:1434px;top:228px;width:6px;height:6px;border-radius:50%;background:#2e6a2e"></div>
<div class="t" style="left:1444.0px;top:225.84px;font-size:10.2px;line-height:13.26px;color:#262624;font-family:'Liberation Sans', 'DejaVu Sans', sans-serif;font-weight:bold;letter-spacing:0px;-webkit-text-stroke:0;">Available</div>
<div class="r" style="left:2px;top:244px;width:1724px;height:26px;background:#838276;"></div>
<div class="r" style="left:8px;top:268px;width:28px;height:1px;background:rgba(60,58,50,0.35);"></div>
<div class="r" style="left:35px;top:246px;width:1px;height:23px;background:rgba(60,58,50,0.25);"></div>
<svg class="r" style="left:8.5px;top:245.8px;filter:brightness(0.66)" width="25.0" height="21.0" viewBox="0 0 26 22"><g opacity="1.0">
<path d="M1,12 C0.5,5 6,0.8 13,0.8 C19.5,0.8 24,4.5 24.6,10 L25,16 C25,19.5 22.5,21.2 19,21.2 L8,20.8 C4,20.3 1.5,17 1,12 Z" fill="#2a9a3a" stroke="#0a0a0a" stroke-width="1.1"/>
<path d="M5,4.2 C9,2.4 15,2.2 20,3.6 L20.8,4.8 C15,3.6 9.5,3.8 5.6,5.6 Z" fill="#e0c040"/>
<path d="M1.6,10.5 C5,6.5 12,5.4 22.5,6.4 L23.6,8 C15,7.2 8,8 2.2,12.6 Z" fill="#e0c040"/>
<path d="M1.8,14.4 C7,14.8 13,16 24.6,16.2 L24.5,18 C14,18 7,17.4 2.8,17 Z" fill="#e0c040"/>
<path d="M2.6,17.2 C7,18.6 13,19.6 23.5,19.6 C22.5,20.8 21,21.2 19,21.2 L8,20.8 C5,20.4 3.4,19 2.6,17.2 Z" fill="#141414"/>
<path d="M9.6,9.4 C11.5,8.4 16,8.2 24.6,8.6 L24.8,13.8 L12.6,14.2 C10.4,14 9.2,12.6 9.2,11.2 C9.2,10.4 9.3,9.8 9.6,9.4 Z" fill="#050508"/>
<circle cx="11.3" cy="11.2" r="1.3" fill="#2a9a3a" opacity="0.55"/>
<path d="M19.6,8.8 L21.2,8.8 L21.6,13.8 L20,13.9 Z" fill="#fff" opacity="0.22"/>
<path d="M13.5,15.6 L18,16 L18,19.4 L13.5,19.2 Z" fill="#d0b090"/>
</g></svg>
<div class="t" style="left:43.6px;top:246.55px;font-size:15.5px;line-height:20.15px;color:#0c0c0c;font-family:'Liberation Sans', 'DejaVu Sans', sans-serif;font-weight:bold;letter-spacing:0.35px;-webkit-text-stroke:0;">Junpei Fujimoto</div>
<div class="t" style="left:319.3px;top:251.14px;font-size:10.9px;line-height:14.17px;color:#464643;font-family:'Liberation Sans', 'DejaVu Sans', sans-serif;font-weight:normal;letter-spacing:0.6px;-webkit-text-stroke:0.3px #464643;">FUJ</div>
<div class="t" style="left:387.9px;top:251.24px;font-size:10.8px;line-height:14.04px;color:#464643;font-family:'Liberation Sans', 'DejaVu Sans', sans-serif;font-weight:normal;letter-spacing:1px;-webkit-text-stroke:0.3px #464643;">30</div>
<svg class="r" style="left:498px;top:251px" width="14" height="11" viewBox="0 0 14 11"><g><rect width="14" height="11" fill="#f4f4f4"/><circle cx="7" cy="5.5" r="3" fill="#c00020"/></g><rect width="14" height="11" fill="rgba(0,0,0,0.42)"/></svg>
<div class="t" style="left:516.3px;top:252.03px;font-size:10px;line-height:13.0px;color:#464643;font-family:'Liberation Sans', 'DejaVu Sans', sans-serif;font-weight:normal;letter-spacing:0.55px;-webkit-text-stroke:0.3px #464643;">Japan</div>
<div class="t" style="left:676.3px;top:252.43px;font-size:9.6px;line-height:12.48px;color:#464643;font-family:'Liberation Sans', 'DejaVu Sans', sans-serif;font-weight:bold;letter-spacing:0.2px;-webkit-text-stroke:0;">-</div>
<div class="r" style="left:789px;top:245px;width:1px;height:24px;background:rgba(90,88,78,0.35);"></div>
<div class="r" style="left:793px;top:245px;width:57px;height:24px;background:rgba(255,255,250,0.035);"></div>
<div class="r" style="left:794px;top:266px;width:31px;height:2px;background:rgba(70,68,58,0.3);"></div>
<div class="t" style="left:793.8px;top:246.45px;font-size:15px;line-height:19.5px;color:#1a1a18;font-family:'Liberation Sans', 'DejaVu Sans', sans-serif;font-weight:bold;-webkit-text-stroke:0px #1a1a18;letter-spacing:0.3px;">12</div>
<div class="r" style="left:859px;top:245px;width:57px;height:24px;background:#7a836e;"></div>
<div class="r" style="left:860px;top:266px;width:36px;height:2px;background:#6c7c64;"></div>
<div class="t" style="left:859.8px;top:246.45px;font-size:15px;line-height:19.5px;color:#175e17;font-family:'Liberation Sans', 'DejaVu Sans', sans-serif;font-weight:bold;-webkit-text-stroke:0px #175e17;letter-spacing:0.3px;">14</div>
<div class="r" style="left:924px;top:245px;width:57px;height:24px;background:#728467;"></div>
<div class="r" style="left:925px;top:266px;width:47px;height:2px;background:#62795a;"></div>
<div class="t" style="left:924.8px;top:246.45px;font-size:15px;line-height:19.5px;color:#065206;font-family:'Liberation Sans', 'DejaVu Sans', sans-serif;font-weight:bold;-webkit-text-stroke:0px #065206;letter-spacing:0.3px;">18</div>
<div class="r" style="left:990px;top:245px;width:57px;height:24px;background:#7a836e;"></div>
<div class="r" style="left:991px;top:266px;width:42px;height:2px;background:#6c7c64;"></div>
<div class="t" style="left:990.8px;top:246.45px;font-size:15px;line-height:19.5px;color:#175e17;font-family:'Liberation Sans', 'DejaVu Sans', sans-serif;font-weight:bold;-webkit-text-stroke:0px #175e17;letter-spacing:0.3px;">16</div>
<div class="r" style="left:1056px;top:245px;width:57px;height:24px;background:#728467;"></div>
<div class="r" style="left:1057px;top:266px;width:47px;height:2px;background:#62795a;"></div>
<div class="t" style="left:1056.8px;top:246.45px;font-size:15px;line-height:19.5px;color:#065206;font-family:'Liberation Sans', 'DejaVu Sans', sans-serif;font-weight:bold;-webkit-text-stroke:0px #065206;letter-spacing:0.3px;">18</div>
<div class="r" style="left:1121px;top:245px;width:57px;height:24px;background:#7a836e;"></div>
<div class="r" style="left:1122px;top:266px;width:42px;height:2px;background:#6c7c64;"></div>
<div class="t" style="left:1121.8px;top:246.45px;font-size:15px;line-height:19.5px;color:#175e17;font-family:'Liberation Sans', 'DejaVu Sans', sans-serif;font-weight:bold;-webkit-text-stroke:0px #175e17;letter-spacing:0.3px;">16</div>
<div class="r" style="left:1205px;top:245px;width:1px;height:24px;background:rgba(90,88,78,0.35);"></div>
<div class="r" style="left:1207px;top:245px;width:71px;height:24px;background:#808080;"></div>
<div class="t" style="left:1210px;top:246.66px;font-size:17px;line-height:22.1px;color:#1a1a60;font-family:'Liberation Sans', 'DejaVu Sans', sans-serif;font-weight:bold;-webkit-text-stroke:0px #1a1a60;letter-spacing:0.5px;">94</div>
<div class="t" style="left:1287px;top:246.16px;font-size:16.3px;line-height:21.19px;color:#5a5a58;font-family:'Liberation Sans', 'DejaVu Sans', sans-serif;font-weight:normal;-webkit-text-stroke:0.25px #5a5a58;letter-spacing:1px;">78</div>
<div class="t" style="left:1362px;top:247.15px;font-size:15.2px;line-height:19.76px;color:#626208;font-family:'Liberation Sans', 'DejaVu Sans', sans-serif;font-weight:bold;-webkit-text-stroke:0px #626208;letter-spacing:1.4px;">38%</div>
<div class="r" style="left:1361px;top:266px;width:23px;height:2px;background:rgba(100,96,70,0.32);"></div>
<div class="r" style="left:1434px;top:254px;width:6px;height:6px;border-radius:50%;background:#2e6a2e"></div>
<div class="t" style="left:1444.0px;top:251.84px;font-size:10.2px;line-height:13.26px;color:#262624;font-family:'Liberation Sans', 'DejaVu Sans', sans-serif;font-weight:bold;letter-spacing:0px;-webkit-text-stroke:0;">Available</div>
<div class="r" style="left:2px;top:270px;width:1724px;height:26px;background:#8b8981;"></div>
<div class="r" style="left:8px;top:294px;width:28px;height:1px;background:rgba(60,58,50,0.35);"></div>
<div class="r" style="left:35px;top:272px;width:1px;height:23px;background:rgba(60,58,50,0.25);"></div>
<svg class="r" style="left:8.5px;top:271.8px;filter:brightness(0.66)" width="25.0" height="21.0" viewBox="0 0 26 22"><g opacity="1.0">
<path d="M1,12 C0.5,5 6,0.8 13,0.8 C19.5,0.8 24,4.5 24.6,10 L25,16 C25,19.5 22.5,21.2 19,21.2 L8,20.8 C4,20.3 1.5,17 1,12 Z" fill="#d02020" stroke="#0a0a0a" stroke-width="1.1"/>
<path d="M5,4.2 C9,2.4 15,2.2 20,3.6 L20.8,4.8 C15,3.6 9.5,3.8 5.6,5.6 Z" fill="#30a040"/>
<path d="M1.6,10.5 C5,6.5 12,5.4 22.5,6.4 L23.6,8 C15,7.2 8,8 2.2,12.6 Z" fill="#30a040"/>
<path d="M1.8,14.4 C7,14.8 13,16 24.6,16.2 L24.5,18 C14,18 7,17.4 2.8,17 Z" fill="#30a040"/>
<path d="M2.6,17.2 C7,18.6 13,19.6 23.5,19.6 C22.5,20.8 21,21.2 19,21.2 L8,20.8 C5,20.4 3.4,19 2.6,17.2 Z" fill="#141414"/>
<path d="M9.6,9.4 C11.5,8.4 16,8.2 24.6,8.6 L24.8,13.8 L12.6,14.2 C10.4,14 9.2,12.6 9.2,11.2 C9.2,10.4 9.3,9.8 9.6,9.4 Z" fill="#050508"/>
<circle cx="11.3" cy="11.2" r="1.3" fill="#d02020" opacity="0.55"/>
<path d="M19.6,8.8 L21.2,8.8 L21.6,13.8 L20,13.9 Z" fill="#fff" opacity="0.22"/>
<path d="M13.5,15.6 L18,16 L18,19.4 L13.5,19.2 Z" fill="#400a0a"/>
</g></svg>
<div class="t" style="left:42.6px;top:272.55px;font-size:15.5px;line-height:20.15px;color:#0c0c0c;font-family:'Liberation Sans', 'DejaVu Sans', sans-serif;font-weight:bold;letter-spacing:0.35px;-webkit-text-stroke:0;">Hamza Touma</div>
<div class="t" style="left:320.3px;top:277.14px;font-size:10.9px;line-height:14.17px;color:#464643;font-family:'Liberation Sans', 'DejaVu Sans', sans-serif;font-weight:normal;letter-spacing:0.6px;-webkit-text-stroke:0.3px #464643;">TO;</div>
<div class="t" style="left:387.9px;top:277.24px;font-size:10.8px;line-height:14.04px;color:#464643;font-family:'Liberation Sans', 'DejaVu Sans', sans-serif;font-weight:normal;letter-spacing:1px;-webkit-text-stroke:0.3px #464643;">25</div>
<svg class="r" style="left:498px;top:277px" width="14" height="11" viewBox="0 0 14 11"><g><rect width="14" height="3.7" fill="#1a9a3a"/><rect y="3.7" width="14" height="3.7" fill="#f4f4f4"/><rect y="7.4" width="14" height="3.6" fill="#e01a1a"/><circle cx="7" cy="5.5" r="1.2" fill="#d02020"/></g><rect width="14" height="11" fill="rgba(0,0,0,0.42)"/></svg>
<div class="t" style="left:515.3px;top:278.03px;font-size:10px;line-height:13.0px;color:#464643;font-family:'Liberation Sans', 'DejaVu Sans', sans-serif;font-weight:normal;letter-spacing:0.55px;-webkit-text-stroke:0.3px #464643;">Iran</div>
<div class="t" style="left:676.3px;top:278.43px;font-size:9.6px;line-height:12.48px;color:#464643;font-family:'Liberation Sans', 'DejaVu Sans', sans-serif;font-weight:bold;letter-spacing:0.2px;-webkit-text-stroke:0;">-</div>
<div class="r" style="left:789px;top:271px;width:1px;height:24px;background:rgba(90,88,78,0.35);"></div>
<div class="r" style="left:793px;top:271px;width:57px;height:24px;background:#7a836e;"></div>
<div class="r" style="left:794px;top:292px;width:36px;height:2px;background:#6c7c64;"></div>
<div class="t" style="left:793.8px;top:272.45px;font-size:15px;line-height:19.5px;color:#175e17;font-family:'Liberation Sans', 'DejaVu Sans', sans-serif;font-weight:bold;-webkit-text-stroke:0px #175e17;letter-spacing:0.3px;">14</div>
<div class="r" style="left:859px;top:271px;width:57px;height:24px;background:#7a836e;"></div>
<div class="r" style="left:860px;top:292px;width:42px;height:2px;background:#6c7c64;"></div>
<div class="t" style="left:859.8px;top:272.45px;font-size:15px;line-height:19.5px;color:#175e17;font-family:'Liberation Sans', 'DejaVu Sans', sans-serif;font-weight:bold;-webkit-text-stroke:0px #175e17;letter-spacing:0.3px;">16</div>
<div class="r" style="left:924px;top:271px;width:57px;height:24px;background:#7a836e;"></div>
<div class="r" style="left:925px;top:292px;width:34px;height:2px;background:#6c7c64;"></div>
<div class="t" style="left:924.8px;top:272.45px;font-size:15px;line-height:19.5px;color:#175e17;font-family:'Liberation Sans', 'DejaVu Sans', sans-serif;font-weight:bold;-webkit-text-stroke:0px #175e17;letter-spacing:0.3px;">13</div>
<div class="r" style="left:990px;top:271px;width:57px;height:24px;background:#728467;"></div>
<div class="r" style="left:991px;top:292px;width:47px;height:2px;background:#62795a;"></div>
<div class="t" style="left:990.8px;top:272.45px;font-size:15px;line-height:19.5px;color:#065206;font-family:'Liberation Sans', 'DejaVu Sans', sans-serif;font-weight:bold;-webkit-text-stroke:0px #065206;letter-spacing:0.3px;">18</div>
<div class="r" style="left:1056px;top:271px;width:57px;height:24px;background:#728467;"></div>
<div class="r" style="left:1057px;top:292px;width:44px;height:2px;background:#62795a;"></div>
<div class="t" style="left:1056.8px;top:272.45px;font-size:15px;line-height:19.5px;color:#065206;font-family:'Liberation Sans', 'DejaVu Sans', sans-serif;font-weight:bold;-webkit-text-stroke:0px #065206;letter-spacing:0.3px;">17</div>
<div class="r" style="left:1121px;top:271px;width:57px;height:24px;background:#7a836e;"></div>
<div class="r" style="left:1122px;top:292px;width:42px;height:2px;background:#6c7c64;"></div>
<div class="t" style="left:1121.8px;top:272.45px;font-size:15px;line-height:19.5px;color:#175e17;font-family:'Liberation Sans', 'DejaVu Sans', sans-serif;font-weight:bold;-webkit-text-stroke:0px #175e17;letter-spacing:0.3px;">16</div>
<div class="r" style="left:1205px;top:271px;width:1px;height:24px;background:rgba(90,88,78,0.35);"></div>
<div class="r" style="left:1207px;top:271px;width:71px;height:24px;background:#808080;"></div>
<div class="t" style="left:1210px;top:272.66px;font-size:17px;line-height:22.1px;color:#1a1a60;font-family:'Liberation Sans', 'DejaVu Sans', sans-serif;font-weight:bold;-webkit-text-stroke:0px #1a1a60;letter-spacing:0.5px;">94</div>
<div class="t" style="left:1287px;top:272.16px;font-size:16.3px;line-height:21.19px;color:#5a5a58;font-family:'Liberation Sans', 'DejaVu Sans', sans-serif;font-weight:normal;-webkit-text-stroke:0.25px #5a5a58;letter-spacing:1px;">78</div>
<div class="t" style="left:1362px;top:273.15px;font-size:15.2px;line-height:19.76px;color:#626208;font-family:'Liberation Sans', 'DejaVu Sans', sans-serif;font-weight:bold;-webkit-text-stroke:0px #626208;letter-spacing:1.4px;">38%</div>
<div class="r" style="left:1361px;top:292px;width:23px;height:2px;background:rgba(100,96,70,0.32);"></div>
<div class="r" style="left:1434px;top:280px;width:6px;height:6px;border-radius:50%;background:#2e6a2e"></div>
<div class="t" style="left:1444.0px;top:277.84px;font-size:10.2px;line-height:13.26px;color:#262624;font-family:'Liberation Sans', 'DejaVu Sans', sans-serif;font-weight:bold;letter-spacing:0px;-webkit-text-stroke:0;">Available</div>
<div class="r" style="left:2px;top:296px;width:1724px;height:26px;background:#838276;"></div>
<div class="r" style="left:8px;top:320px;width:28px;height:1px;background:rgba(60,58,50,0.35);"></div>
<div class="r" style="left:35px;top:298px;width:1px;height:23px;background:rgba(60,58,50,0.25);"></div>
<svg class="r" style="left:8.5px;top:297.8px;filter:brightness(0.5) saturate(0.7)" width="25.0" height="21.0" viewBox="0 0 26 22"><g opacity="0.6">
<path d="M1,12 C0.5,5 6,0.8 13,0.8 C19.5,0.8 24,4.5 24.6,10 L25,16 C25,19.5 22.5,21.2 19,21.2 L8,20.8 C4,20.3 1.5,17 1,12 Z" fill="#6a3a3a" stroke="#0a0a0a" stroke-width="1.1"/>
<path d="M5,4.2 C9,2.4 15,2.2 20,3.6 L20.8,4.8 C15,3.6 9.5,3.8 5.6,5.6 Z" fill="#8a3a4a"/>
<path d="M1.6,10.5 C5,6.5 12,5.4 22.5,6.4 L23.6,8 C15,7.2 8,8 2.2,12.6 Z" fill="#8a3a4a"/>
<path d="M1.8,14.4 C7,14.8 13,16 24.6,16.2 L24.5,18 C14,18 7,17.4 2.8,17 Z" fill="#8a3a4a"/>
<path d="M2.6,17.2 C7,18.6 13,19.6 23.5,19.6 C22.5,20.8 21,21.2 19,21.2 L8,20.8 C5,20.4 3.4,19 2.6,17.2 Z" fill="#141414"/>
<path d="M9.6,9.4 C11.5,8.4 16,8.2 24.6,8.6 L24.8,13.8 L12.6,14.2 C10.4,14 9.2,12.6 9.2,11.2 C9.2,10.4 9.3,9.8 9.6,9.4 Z" fill="#050508"/>
<circle cx="11.3" cy="11.2" r="1.3" fill="#6a3a3a" opacity="0.55"/>
<path d="M19.6,8.8 L21.2,8.8 L21.6,13.8 L20,13.9 Z" fill="#fff" opacity="0.22"/>
<path d="M13.5,15.6 L18,16 L18,19.4 L13.5,19.2 Z" fill="#3a2a2a"/>
</g></svg>
<div class="t" style="left:42.6px;top:298.55px;font-size:15.5px;line-height:20.15px;color:#5f5e5a;font-family:'Liberation Sans', 'DejaVu Sans', sans-serif;font-weight:bold;letter-spacing:0.35px;-webkit-text-stroke:0;">Mitchell Ashford</div>
<div class="t" style="left:320.3px;top:303.14px;font-size:10.9px;line-height:14.17px;color:#5f5e5a;font-family:'Liberation Sans', 'DejaVu Sans', sans-serif;font-weight:normal;letter-spacing:0.6px;-webkit-text-stroke:0.3px #5f5e5a;">ASH</div>
<div class="t" style="left:387.9px;top:303.24px;font-size:10.8px;line-height:14.04px;color:#5f5e5a;font-family:'Liberation Sans', 'DejaVu Sans', sans-serif;font-weight:normal;letter-spacing:1px;-webkit-text-stroke:0.3px #5f5e5a;">30</div>
<svg class="r" style="left:498px;top:303px" width="14" height="11" viewBox="0 0 14 11"><g opacity="0.45"><rect width="14" height="11" fill="#f0f0f0"/><rect y="0" width="14" height="1.6" fill="#c02030"/><rect y="3.2" width="14" height="1.6" fill="#c02030"/><rect y="6.3" width="14" height="1.6" fill="#c02030"/><rect y="9.4" width="14" height="1.6" fill="#c02030"/><rect width="6.5" height="5.5" fill="#2a3a7a"/></g><rect width="14" height="11" fill="rgba(0,0,0,0.42)"/></svg>
<div class="t" style="left:515.3px;top:304.03px;font-size:10px;line-height:13.0px;color:#5f5e5a;font-family:'Liberation Sans', 'DejaVu Sans', sans-serif;font-weight:normal;letter-spacing:0.55px;-webkit-text-stroke:0.3px #5f5e5a;">United States</div>
<div class="t" style="left:676.3px;top:304.43px;font-size:9.6px;line-height:12.48px;color:#5f5e5a;font-family:'Liberation Sans', 'DejaVu Sans', sans-serif;font-weight:bold;letter-spacing:0.2px;-webkit-text-stroke:0;">-</div>
<div class="r" style="left:789px;top:297px;width:1px;height:24px;background:rgba(90,88,78,0.35);"></div>
<div class="t" style="left:793.8px;top:298.45px;font-size:15px;line-height:19.5px;color:#62615d;font-family:'Liberation Sans', 'DejaVu Sans', sans-serif;font-weight:bold;-webkit-text-stroke:0px #62615d;letter-spacing:0.3px;">18</div>
<div class="t" style="left:859.8px;top:298.45px;font-size:15px;line-height:19.5px;color:#62615d;font-family:'Liberation Sans', 'DejaVu Sans', sans-serif;font-weight:bold;-webkit-text-stroke:0px #62615d;letter-spacing:0.3px;">12</div>
<div class="t" style="left:924.8px;top:298.45px;font-size:15px;line-height:19.5px;color:#62615d;font-family:'Liberation Sans', 'DejaVu Sans', sans-serif;font-weight:bold;-webkit-text-stroke:0px #62615d;letter-spacing:0.3px;">18</div>
<div class="t" style="left:990.8px;top:298.45px;font-size:15px;line-height:19.5px;color:#62615d;font-family:'Liberation Sans', 'DejaVu Sans', sans-serif;font-weight:bold;-webkit-text-stroke:0px #62615d;letter-spacing:0.3px;">18</div>
<div class="t" style="left:1056.8px;top:298.45px;font-size:15px;line-height:19.5px;color:#62615d;font-family:'Liberation Sans', 'DejaVu Sans', sans-serif;font-weight:bold;-webkit-text-stroke:0px #62615d;letter-spacing:0.3px;">17</div>
<div class="t" style="left:1121.8px;top:298.45px;font-size:15px;line-height:19.5px;color:#62615d;font-family:'Liberation Sans', 'DejaVu Sans', sans-serif;font-weight:bold;-webkit-text-stroke:0px #62615d;letter-spacing:0.3px;">10</div>
<div class="r" style="left:1205px;top:297px;width:1px;height:24px;background:rgba(90,88,78,0.35);"></div>
<div class="t" style="left:1210px;top:298.66px;font-size:17px;line-height:22.1px;color:#62615d;font-family:'Liberation Sans', 'DejaVu Sans', sans-serif;font-weight:bold;-webkit-text-stroke:0px #62615d;letter-spacing:0.5px;">93</div>
<div class="t" style="left:1287px;top:298.16px;font-size:16.3px;line-height:21.19px;color:#5c5b57;font-family:'Liberation Sans', 'DejaVu Sans', sans-serif;font-weight:normal;-webkit-text-stroke:0.25px #5c5b57;letter-spacing:1px;">77</div>
<div class="t" style="left:1362px;top:299.15px;font-size:15.2px;line-height:19.76px;color:#5e5d59;font-family:'Liberation Sans', 'DejaVu Sans', sans-serif;font-weight:bold;-webkit-text-stroke:0px #5e5d59;letter-spacing:1.4px;">38%</div>
<div class="r" style="left:1434px;top:306px;width:6px;height:6px;border-radius:50%;background:#6a6a66"></div>
<div class="t" style="left:1444.0px;top:305.83px;font-size:8.9px;line-height:11.57px;color:#63625e;font-family:'Liberation Sans', 'DejaVu Sans', sans-serif;font-weight:bold;letter-spacing:0.1px;-webkit-text-stroke:0;">TEAM HORIZON (Secondary)</div>
<div class="r" style="left:2px;top:322px;width:1724px;height:26px;background:#8b8981;"></div>
<div class="r" style="left:8px;top:346px;width:28px;height:1px;background:rgba(60,58,50,0.35);"></div>
<div class="r" style="left:35px;top:324px;width:1px;height:23px;background:rgba(60,58,50,0.25);"></div>
<svg class="r" style="left:8.5px;top:323.8px;filter:brightness(0.66)" width="25.0" height="21.0" viewBox="0 0 26 22"><g opacity="1.0">
<path d="M1,12 C0.5,5 6,0.8 13,0.8 C19.5,0.8 24,4.5 24.6,10 L25,16 C25,19.5 22.5,21.2 19,21.2 L8,20.8 C4,20.3 1.5,17 1,12 Z" fill="#80d040" stroke="#0a0a0a" stroke-width="1.1"/>
<path d="M5,4.2 C9,2.4 15,2.2 20,3.6 L20.8,4.8 C15,3.6 9.5,3.8 5.6,5.6 Z" fill="#e07a20"/>
<path d="M1.6,10.5 C5,6.5 12,5.4 22.5,6.4 L23.6,8 C15,7.2 8,8 2.2,12.6 Z" fill="#e07a20"/>
<path d="M1.8,14.4 C7,14.8 13,16 24.6,16.2 L24.5,18 C14,18 7,17.4 2.8,17 Z" fill="#e07a20"/>
<path d="M2.6,17.2 C7,18.6 13,19.6 23.5,19.6 C22.5,20.8 21,21.2 19,21.2 L8,20.8 C5,20.4 3.4,19 2.6,17.2 Z" fill="#141414"/>
<path d="M9.6,9.4 C11.5,8.4 16,8.2 24.6,8.6 L24.8,13.8 L12.6,14.2 C10.4,14 9.2,12.6 9.2,11.2 C9.2,10.4 9.3,9.8 9.6,9.4 Z" fill="#050508"/>
<circle cx="11.3" cy="11.2" r="1.3" fill="#80d040" opacity="0.55"/>
<path d="M19.6,8.8 L21.2,8.8 L21.6,13.8 L20,13.9 Z" fill="#fff" opacity="0.22"/>
<path d="M13.5,15.6 L18,16 L18,19.4 L13.5,19.2 Z" fill="#2a4a1a"/>
</g></svg>
<div class="t" style="left:42.6px;top:324.55px;font-size:15.5px;line-height:20.15px;color:#0c0c0c;font-family:'Liberation Sans', 'DejaVu Sans', sans-serif;font-weight:bold;letter-spacing:0.35px;-webkit-text-stroke:0;">Kayode Koroma</div>
<div class="t" style="left:319.3px;top:329.14px;font-size:10.9px;line-height:14.17px;color:#464643;font-family:'Liberation Sans', 'DejaVu Sans', sans-serif;font-weight:normal;letter-spacing:0.6px;-webkit-text-stroke:0.3px #464643;">KOR</div>
<div class="t" style="left:387.9px;top:329.24px;font-size:10.8px;line-height:14.04px;color:#464643;font-family:'Liberation Sans', 'DejaVu Sans', sans-serif;font-weight:normal;letter-spacing:1px;-webkit-text-stroke:0.3px #464643;">26</div>
<svg class="r" style="left:498px;top:329px" width="14" height="11" viewBox="0 0 14 11"><g><rect width="14" height="11" fill="#1a9a3a"/><polygon points="7,1.5 12.5,5.5 7,9.5 1.5,5.5" fill="#f0d000"/><circle cx="7" cy="5.5" r="2.2" fill="#1a3a8a"/></g><rect width="14" height="11" fill="rgba(0,0,0,0.42)"/></svg>
<div class="t" style="left:515.3px;top:330.03px;font-size:10px;line-height:13.0px;color:#464643;font-family:'Liberation Sans', 'DejaVu Sans', sans-serif;font-weight:normal;letter-spacing:0.55px;-webkit-text-stroke:0.3px #464643;">Brazil</div>
<div class="t" style="left:676.3px;top:330.43px;font-size:9.6px;line-height:12.48px;color:#464643;font-family:'Liberation Sans', 'DejaVu Sans', sans-serif;font-weight:bold;letter-spacing:0.2px;-webkit-text-stroke:0;">-</div>
<div class="r" style="left:789px;top:323px;width:1px;height:24px;background:rgba(90,88,78,0.35);"></div>
<div class="r" style="left:793px;top:323px;width:57px;height:24px;background:#7a836e;"></div>
<div class="r" style="left:794px;top:344px;width:36px;height:2px;background:#6c7c64;"></div>
<div class="t" style="left:793.8px;top:324.45px;font-size:15px;line-height:19.5px;color:#175e17;font-family:'Liberation Sans', 'DejaVu Sans', sans-serif;font-weight:bold;-webkit-text-stroke:0px #175e17;letter-spacing:0.3px;">14</div>
<div class="r" style="left:859px;top:323px;width:57px;height:24px;background:#728467;"></div>
<div class="r" style="left:860px;top:344px;width:44px;height:2px;background:#62795a;"></div>
<div class="t" style="left:859.8px;top:324.45px;font-size:15px;line-height:19.5px;color:#065206;font-family:'Liberation Sans', 'DejaVu Sans', sans-serif;font-weight:bold;-webkit-text-stroke:0px #065206;letter-spacing:0.3px;">17</div>
<div class="r" style="left:924px;top:323px;width:57px;height:24px;background:#728467;"></div>
<div class="r" style="left:925px;top:344px;width:47px;height:2px;background:#62795a;"></div>
<div class="t" style="left:924.8px;top:324.45px;font-size:15px;line-height:19.5px;color:#065206;font-family:'Liberation Sans', 'DejaVu Sans', sans-serif;font-weight:bold;-webkit-text-stroke:0px #065206;letter-spacing:0.3px;">18</div>
<div class="r" style="left:990px;top:323px;width:57px;height:24px;background:#7a836e;"></div>
<div class="r" style="left:991px;top:344px;width:39px;height:2px;background:#6c7c64;"></div>
<div class="t" style="left:990.8px;top:324.45px;font-size:15px;line-height:19.5px;color:#175e17;font-family:'Liberation Sans', 'DejaVu Sans', sans-serif;font-weight:bold;-webkit-text-stroke:0px #175e17;letter-spacing:0.3px;">15</div>
<div class="r" style="left:1056px;top:323px;width:57px;height:24px;background:#7a836e;"></div>
<div class="r" style="left:1057px;top:344px;width:39px;height:2px;background:#6c7c64;"></div>
<div class="t" style="left:1056.8px;top:324.45px;font-size:15px;line-height:19.5px;color:#175e17;font-family:'Liberation Sans', 'DejaVu Sans', sans-serif;font-weight:bold;-webkit-text-stroke:0px #175e17;letter-spacing:0.3px;">15</div>
<div class="r" style="left:1121px;top:323px;width:57px;height:24px;background:#7a836e;"></div>
<div class="r" style="left:1122px;top:344px;width:36px;height:2px;background:#6c7c64;"></div>
<div class="t" style="left:1121.8px;top:324.45px;font-size:15px;line-height:19.5px;color:#175e17;font-family:'Liberation Sans', 'DejaVu Sans', sans-serif;font-weight:bold;-webkit-text-stroke:0px #175e17;letter-spacing:0.3px;">14</div>
<div class="r" style="left:1205px;top:323px;width:1px;height:24px;background:rgba(90,88,78,0.35);"></div>
<div class="r" style="left:1207px;top:323px;width:71px;height:24px;background:#808080;"></div>
<div class="t" style="left:1210px;top:324.66px;font-size:17px;line-height:22.1px;color:#1a1a60;font-family:'Liberation Sans', 'DejaVu Sans', sans-serif;font-weight:bold;-webkit-text-stroke:0px #1a1a60;letter-spacing:0.5px;">93</div>
<div class="t" style="left:1287px;top:324.16px;font-size:16.3px;line-height:21.19px;color:#5a5a58;font-family:'Liberation Sans', 'DejaVu Sans', sans-serif;font-weight:normal;-webkit-text-stroke:0.25px #5a5a58;letter-spacing:1px;">77</div>
<div class="t" style="left:1362px;top:325.15px;font-size:15.2px;line-height:19.76px;color:#626208;font-family:'Liberation Sans', 'DejaVu Sans', sans-serif;font-weight:bold;-webkit-text-stroke:0px #626208;letter-spacing:1.4px;">38%</div>
<div class="r" style="left:1361px;top:344px;width:23px;height:2px;background:rgba(100,96,70,0.32);"></div>
<div class="r" style="left:1434px;top:332px;width:6px;height:6px;border-radius:50%;background:#2e6a2e"></div>
<div class="t" style="left:1444.0px;top:329.84px;font-size:10.2px;line-height:13.26px;color:#262624;font-family:'Liberation Sans', 'DejaVu Sans', sans-serif;font-weight:bold;letter-spacing:0px;-webkit-text-stroke:0;">Available</div>
<div class="r" style="left:2px;top:348px;width:1724px;height:26px;background:#838276;"></div>
<div class="r" style="left:8px;top:372px;width:28px;height:1px;background:rgba(60,58,50,0.35);"></div>
<div class="r" style="left:35px;top:350px;width:1px;height:23px;background:rgba(60,58,50,0.25);"></div>
<svg class="r" style="left:8.5px;top:349.8px;filter:brightness(0.5) saturate(0.7)" width="25.0" height="21.0" viewBox="0 0 26 22"><g opacity="0.6">
<path d="M1,12 C0.5,5 6,0.8 13,0.8 C19.5,0.8 24,4.5 24.6,10 L25,16 C25,19.5 22.5,21.2 19,21.2 L8,20.8 C4,20.3 1.5,17 1,12 Z" fill="#7a4a3a" stroke="#0a0a0a" stroke-width="1.1"/>
<path d="M5,4.2 C9,2.4 15,2.2 20,3.6 L20.8,4.8 C15,3.6 9.5,3.8 5.6,5.6 Z" fill="#8a5a4a"/>
<path d="M1.6,10.5 C5,6.5 12,5.4 22.5,6.4 L23.6,8 C15,7.2 8,8 2.2,12.6 Z" fill="#8a5a4a"/>
<path d="M1.8,14.4 C7,14.8 13,16 24.6,16.2 L24.5,18 C14,18 7,17.4 2.8,17 Z" fill="#8a5a4a"/>
<path d="M2.6,17.2 C7,18.6 13,19.6 23.5,19.6 C22.5,20.8 21,21.2 19,21.2 L8,20.8 C5,20.4 3.4,19 2.6,17.2 Z" fill="#141414"/>
<path d="M9.6,9.4 C11.5,8.4 16,8.2 24.6,8.6 L24.8,13.8 L12.6,14.2 C10.4,14 9.2,12.6 9.2,11.2 C9.2,10.4 9.3,9.8 9.6,9.4 Z" fill="#050508"/>
<circle cx="11.3" cy="11.2" r="1.3" fill="#7a4a3a" opacity="0.55"/>
<path d="M19.6,8.8 L21.2,8.8 L21.6,13.8 L20,13.9 Z" fill="#fff" opacity="0.22"/>
<path d="M13.5,15.6 L18,16 L18,19.4 L13.5,19.2 Z" fill="#3a2a2a"/>
</g></svg>
<div class="t" style="left:42.6px;top:350.55px;font-size:15.5px;line-height:20.15px;color:#5f5e5a;font-family:'Liberation Sans', 'DejaVu Sans', sans-serif;font-weight:bold;letter-spacing:0.35px;-webkit-text-stroke:0;">Orazio Nardone</div>
<div class="t" style="left:319.3px;top:355.14px;font-size:10.9px;line-height:14.17px;color:#5f5e5a;font-family:'Liberation Sans', 'DejaVu Sans', sans-serif;font-weight:normal;letter-spacing:0.6px;-webkit-text-stroke:0.3px #5f5e5a;">NAR</div>
<div class="t" style="left:387.9px;top:355.24px;font-size:10.8px;line-height:14.04px;color:#5f5e5a;font-family:'Liberation Sans', 'DejaVu Sans', sans-serif;font-weight:normal;letter-spacing:1px;-webkit-text-stroke:0.3px #5f5e5a;">27</div>
<svg class="r" style="left:498px;top:355px" width="14" height="11" viewBox="0 0 14 11"><g opacity="0.45"><rect width="4.7" height="11" fill="#1a9a3a"/><rect x="4.7" width="4.6" height="11" fill="#f0f0f0"/><rect x="9.3" width="4.7" height="11" fill="#d01a2a"/></g><rect width="14" height="11" fill="rgba(0,0,0,0.42)"/></svg>
<div class="t" style="left:515.3px;top:356.03px;font-size:10px;line-height:13.0px;color:#5f5e5a;font-family:'Liberation Sans', 'DejaVu Sans', sans-serif;font-weight:normal;letter-spacing:0.55px;-webkit-text-stroke:0.3px #5f5e5a;">Italy</div>
<div class="t" style="left:676.3px;top:356.43px;font-size:9.6px;line-height:12.48px;color:#5f5e5a;font-family:'Liberation Sans', 'DejaVu Sans', sans-serif;font-weight:bold;letter-spacing:0.2px;-webkit-text-stroke:0;">-</div>
<div class="r" style="left:789px;top:349px;width:1px;height:24px;background:rgba(90,88,78,0.35);"></div>
<div class="r" style="left:1205px;top:349px;width:1px;height:24px;background:rgba(90,88,78,0.35);"></div>
<div class="t" style="left:1210px;top:350.66px;font-size:17px;line-height:22.1px;color:#62615d;font-family:'Liberation Sans', 'DejaVu Sans', sans-serif;font-weight:bold;-webkit-text-stroke:0px #62615d;letter-spacing:0.5px;">92</div>
<div class="t" style="left:1287px;top:350.16px;font-size:16.3px;line-height:21.19px;color:#5c5b57;font-family:'Liberation Sans', 'DejaVu Sans', sans-serif;font-weight:normal;-webkit-text-stroke:0.25px #5c5b57;letter-spacing:1px;">76</div>
<div class="t" style="left:1362px;top:351.15px;font-size:15.2px;line-height:19.76px;color:#5e5d59;font-family:'Liberation Sans', 'DejaVu Sans', sans-serif;font-weight:bold;-webkit-text-stroke:0px #5e5d59;letter-spacing:1.4px;">38%</div>
<div class="r" style="left:1434px;top:358px;width:6px;height:6px;border-radius:50%;background:#6a6a66"></div>
<div class="t" style="left:1443.0px;top:357.83px;font-size:8.9px;line-height:11.57px;color:#63625e;font-family:'Liberation Sans', 'DejaVu Sans', sans-serif;font-weight:bold;letter-spacing:0.1px;-webkit-text-stroke:0;">HANBIT RACING (Secondary)</div>
<div class="r" style="left:2px;top:374px;width:1724px;height:26px;background:#8b8981;"></div>
<div class="r" style="left:8px;top:398px;width:28px;height:1px;background:rgba(60,58,50,0.35);"></div>
<div class="r" style="left:35px;top:376px;width:1px;height:23px;background:rgba(60,58,50,0.25);"></div>
<svg class="r" style="left:8.5px;top:375.8px;filter:brightness(0.66)" width="25.0" height="21.0" viewBox="0 0 26 22"><g opacity="1.0">
<path d="M1,12 C0.5,5 6,0.8 13,0.8 C19.5,0.8 24,4.5 24.6,10 L25,16 C25,19.5 22.5,21.2 19,21.2 L8,20.8 C4,20.3 1.5,17 1,12 Z" fill="#2a30c0" stroke="#0a0a0a" stroke-width="1.1"/>
<path d="M5,4.2 C9,2.4 15,2.2 20,3.6 L20.8,4.8 C15,3.6 9.5,3.8 5.6,5.6 Z" fill="#4a60e0"/>
<path d="M1.6,10.5 C5,6.5 12,5.4 22.5,6.4 L23.6,8 C15,7.2 8,8 2.2,12.6 Z" fill="#4a60e0"/>
<path d="M1.8,14.4 C7,14.8 13,16 24.6,16.2 L24.5,18 C14,18 7,17.4 2.8,17 Z" fill="#4a60e0"/>
<path d="M2.6,17.2 C7,18.6 13,19.6 23.5,19.6 C22.5,20.8 21,21.2 19,21.2 L8,20.8 C5,20.4 3.4,19 2.6,17.2 Z" fill="#141414"/>
<path d="M9.6,9.4 C11.5,8.4 16,8.2 24.6,8.6 L24.8,13.8 L12.6,14.2 C10.4,14 9.2,12.6 9.2,11.2 C9.2,10.4 9.3,9.8 9.6,9.4 Z" fill="#050508"/>
<circle cx="11.3" cy="11.2" r="1.3" fill="#2a30c0" opacity="0.55"/>
<path d="M19.6,8.8 L21.2,8.8 L21.6,13.8 L20,13.9 Z" fill="#fff" opacity="0.22"/>
<path d="M13.5,15.6 L18,16 L18,19.4 L13.5,19.2 Z" fill="#101040"/>
</g></svg>
<div class="t" style="left:43.6px;top:376.55px;font-size:15.5px;line-height:20.15px;color:#0c0c0c;font-family:'Liberation Sans', 'DejaVu Sans', sans-serif;font-weight:bold;letter-spacing:0.35px;-webkit-text-stroke:0;">Jasper Langley</div>
<div class="t" style="left:319.3px;top:381.14px;font-size:10.9px;line-height:14.17px;color:#464643;font-family:'Liberation Sans', 'DejaVu Sans', sans-serif;font-weight:normal;letter-spacing:0.6px;-webkit-text-stroke:0.3px #464643;">LA6</div>
<div class="t" style="left:387.9px;top:381.24px;font-size:10.8px;line-height:14.04px;color:#464643;font-family:'Liberation Sans', 'DejaVu Sans', sans-serif;font-weight:normal;letter-spacing:1px;-webkit-text-stroke:0.3px #464643;">26</div>
<svg class="r" style="left:498px;top:381px" width="14" height="11" viewBox="0 0 14 11"><g><rect width="14" height="11" fill="#f0f0f0"/><rect y="0" width="14" height="1.6" fill="#c02030"/><rect y="3.2" width="14" height="1.6" fill="#c02030"/><rect y="6.3" width="14" height="1.6" fill="#c02030"/><rect y="9.4" width="14" height="1.6" fill="#c02030"/><rect width="6.5" height="5.5" fill="#2a3a7a"/></g><rect width="14" height="11" fill="rgba(0,0,0,0.42)"/></svg>
<div class="t" style="left:515.3px;top:382.03px;font-size:10px;line-height:13.0px;color:#464643;font-family:'Liberation Sans', 'DejaVu Sans', sans-serif;font-weight:normal;letter-spacing:0.55px;-webkit-text-stroke:0.3px #464643;">United States</div>
<div class="t" style="left:676.3px;top:382.43px;font-size:9.6px;line-height:12.48px;color:#464643;font-family:'Liberation Sans', 'DejaVu Sans', sans-serif;font-weight:bold;letter-spacing:0.2px;-webkit-text-stroke:0;">-</div>
<div class="r" style="left:789px;top:375px;width:1px;height:24px;background:rgba(90,88,78,0.35);"></div>
<div class="r" style="left:1205px;top:375px;width:1px;height:24px;background:rgba(90,88,78,0.35);"></div>
<div class="r" style="left:1207px;top:375px;width:71px;height:24px;background:#808080;"></div>
<div class="t" style="left:1210px;top:376.66px;font-size:17px;line-height:22.1px;color:#1a1a60;font-family:'Liberation Sans', 'DejaVu Sans', sans-serif;font-weight:bold;-webkit-text-stroke:0px #1a1a60;letter-spacing:0.5px;">92</div>
<div class="t" style="left:1287px;top:376.16px;font-size:16.3px;line-height:21.19px;color:#a47a18;font-family:'Liberation Sans', 'DejaVu Sans', sans-serif;font-weight:normal;-webkit-text-stroke:0.25px #a47a18;letter-spacing:1px;">81</div>
<div class="t" style="left:1362px;top:377.15px;font-size:15.2px;line-height:19.76px;color:#626208;font-family:'Liberation Sans', 'DejaVu Sans', sans-serif;font-weight:bold;-webkit-text-stroke:0px #626208;letter-spacing:1.4px;">38%</div>
<div class="r" style="left:1361px;top:396px;width:23px;height:2px;background:rgba(100,96,70,0.32);"></div>
<div class="r" style="left:1434px;top:384px;width:6px;height:6px;border-radius:50%;background:#2e6a2e"></div>
<div class="t" style="left:1444.0px;top:381.84px;font-size:10.2px;line-height:13.26px;color:#262624;font-family:'Liberation Sans', 'DejaVu Sans', sans-serif;font-weight:bold;letter-spacing:0px;-webkit-text-stroke:0;">Available</div>
<div class="r" style="left:2px;top:400px;width:1724px;height:26px;background:#838276;"></div>
<div class="r" style="left:8px;top:424px;width:28px;height:1px;background:rgba(60,58,50,0.35);"></div>
<div class="r" style="left:35px;top:402px;width:1px;height:23px;background:rgba(60,58,50,0.25);"></div>
<svg class="r" style="left:8.5px;top:401.8px;filter:brightness(0.66)" width="25.0" height="21.0" viewBox="0 0 26 22"><g opacity="1.0">
<path d="M1,12 C0.5,5 6,0.8 13,0.8 C19.5,0.8 24,4.5 24.6,10 L25,16 C25,19.5 22.5,21.2 19,21.2 L8,20.8 C4,20.3 1.5,17 1,12 Z" fill="#d03a1a" stroke="#0a0a0a" stroke-width="1.1"/>
<path d="M5,4.2 C9,2.4 15,2.2 20,3.6 L20.8,4.8 C15,3.6 9.5,3.8 5.6,5.6 Z" fill="#1a1a1a"/>
<path d="M1.6,10.5 C5,6.5 12,5.4 22.5,6.4 L23.6,8 C15,7.2 8,8 2.2,12.6 Z" fill="#1a1a1a"/>
<path d="M1.8,14.4 C7,14.8 13,16 24.6,16.2 L24.5,18 C14,18 7,17.4 2.8,17 Z" fill="#1a1a1a"/>
<path d="M2.6,17.2 C7,18.6 13,19.6 23.5,19.6 C22.5,20.8 21,21.2 19,21.2 L8,20.8 C5,20.4 3.4,19 2.6,17.2 Z" fill="#141414"/>
<path d="M9.6,9.4 C11.5,8.4 16,8.2 24.6,8.6 L24.8,13.8 L12.6,14.2 C10.4,14 9.2,12.6 9.2,11.2 C9.2,10.4 9.3,9.8 9.6,9.4 Z" fill="#050508"/>
<circle cx="11.3" cy="11.2" r="1.3" fill="#d03a1a" opacity="0.55"/>
<path d="M19.6,8.8 L21.2,8.8 L21.6,13.8 L20,13.9 Z" fill="#fff" opacity="0.22"/>
<path d="M13.5,15.6 L18,16 L18,19.4 L13.5,19.2 Z" fill="#601010"/>
</g></svg>
<div class="t" style="left:42.6px;top:402.55px;font-size:15.5px;line-height:20.15px;color:#0c0c0c;font-family:'Liberation Sans', 'DejaVu Sans', sans-serif;font-weight:bold;letter-spacing:0.35px;-webkit-text-stroke:0;">Matthias Ostermann</div>
<div class="t" style="left:319.3px;top:407.14px;font-size:10.9px;line-height:14.17px;color:#464643;font-family:'Liberation Sans', 'DejaVu Sans', sans-serif;font-weight:normal;letter-spacing:0.6px;-webkit-text-stroke:0.3px #464643;">OST</div>
<div class="t" style="left:387.9px;top:407.24px;font-size:10.8px;line-height:14.04px;color:#464643;font-family:'Liberation Sans', 'DejaVu Sans', sans-serif;font-weight:normal;letter-spacing:1px;-webkit-text-stroke:0.3px #464643;">36</div>
<svg class="r" style="left:498px;top:407px" width="14" height="11" viewBox="0 0 14 11"><g><rect width="14" height="3.7" fill="#1a1a1a"/><rect y="3.7" width="14" height="3.7" fill="#c01818"/><rect y="7.4" width="14" height="3.6" fill="#e0b000"/></g><rect width="14" height="11" fill="rgba(0,0,0,0.42)"/></svg>
<div class="t" style="left:515.3px;top:408.03px;font-size:10px;line-height:13.0px;color:#464643;font-family:'Liberation Sans', 'DejaVu Sans', sans-serif;font-weight:normal;letter-spacing:0.55px;-webkit-text-stroke:0.3px #464643;">Germany</div>
<div class="t" style="left:676.3px;top:408.43px;font-size:9.6px;line-height:12.48px;color:#464643;font-family:'Liberation Sans', 'DejaVu Sans', sans-serif;font-weight:bold;letter-spacing:0.2px;-webkit-text-stroke:0;">-</div>
<div class="r" style="left:789px;top:401px;width:1px;height:24px;background:rgba(90,88,78,0.35);"></div>
<div class="r" style="left:1205px;top:401px;width:1px;height:24px;background:rgba(90,88,78,0.35);"></div>
<div class="r" style="left:1207px;top:401px;width:71px;height:24px;background:#808080;"></div>
<div class="t" style="left:1210px;top:402.66px;font-size:17px;line-height:22.1px;color:#1a1a60;font-family:'Liberation Sans', 'DejaVu Sans', sans-serif;font-weight:bold;-webkit-text-stroke:0px #1a1a60;letter-spacing:0.5px;">92</div>
<div class="t" style="left:1287px;top:402.16px;font-size:16.3px;line-height:21.19px;color:#5a5a58;font-family:'Liberation Sans', 'DejaVu Sans', sans-serif;font-weight:normal;-webkit-text-stroke:0.25px #5a5a58;letter-spacing:1px;">76</div>
<div class="t" style="left:1362px;top:403.15px;font-size:15.2px;line-height:19.76px;color:#626208;font-family:'Liberation Sans', 'DejaVu Sans', sans-serif;font-weight:bold;-webkit-text-stroke:0px #626208;letter-spacing:1.4px;">38%</div>
<div class="r" style="left:1361px;top:422px;width:23px;height:2px;background:rgba(100,96,70,0.32);"></div>
<div class="r" style="left:1434px;top:410px;width:6px;height:6px;border-radius:50%;background:#2e6a2e"></div>
<div class="t" style="left:1444.0px;top:407.84px;font-size:10.2px;line-height:13.26px;color:#262624;font-family:'Liberation Sans', 'DejaVu Sans', sans-serif;font-weight:bold;letter-spacing:0px;-webkit-text-stroke:0;">Available</div>
<div class="r" style="left:2px;top:426px;width:1724px;height:26px;background:#8b8981;"></div>
<div class="r" style="left:8px;top:450px;width:28px;height:1px;background:rgba(60,58,50,0.35);"></div>
<div class="r" style="left:35px;top:428px;width:1px;height:23px;background:rgba(60,58,50,0.25);"></div>
<svg class="r" style="left:8.5px;top:427.8px;filter:brightness(0.66)" width="25.0" height="21.0" viewBox="0 0 26 22"><g opacity="1.0">
<path d="M1,12 C0.5,5 6,0.8 13,0.8 C19.5,0.8 24,4.5 24.6,10 L25,16 C25,19.5 22.5,21.2 19,21.2 L8,20.8 C4,20.3 1.5,17 1,12 Z" fill="#60b040" stroke="#0a0a0a" stroke-width="1.1"/>
<path d="M5,4.2 C9,2.4 15,2.2 20,3.6 L20.8,4.8 C15,3.6 9.5,3.8 5.6,5.6 Z" fill="#d0c040"/>
<path d="M1.6,10.5 C5,6.5 12,5.4 22.5,6.4 L23.6,8 C15,7.2 8,8 2.2,12.6 Z" fill="#d0c040"/>
<path d="M1.8,14.4 C7,14.8 13,16 24.6,16.2 L24.5,18 C14,18 7,17.4 2.8,17 Z" fill="#d0c040"/>
<path d="M2.6,17.2 C7,18.6 13,19.6 23.5,19.6 C22.5,20.8 21,21.2 19,21.2 L8,20.8 C5,20.4 3.4,19 2.6,17.2 Z" fill="#141414"/>
<path d="M9.6,9.4 C11.5,8.4 16,8.2 24.6,8.6 L24.8,13.8 L12.6,14.2 C10.4,14 9.2,12.6 9.2,11.2 C9.2,10.4 9.3,9.8 9.6,9.4 Z" fill="#050508"/>
<circle cx="11.3" cy="11.2" r="1.3" fill="#60b040" opacity="0.55"/>
<path d="M19.6,8.8 L21.2,8.8 L21.6,13.8 L20,13.9 Z" fill="#fff" opacity="0.22"/>
<path d="M13.5,15.6 L18,16 L18,19.4 L13.5,19.2 Z" fill="#1a3a1a"/>
</g></svg>
<div class="t" style="left:42.6px;top:428.55px;font-size:15.5px;line-height:20.15px;color:#0c0c0c;font-family:'Liberation Sans', 'DejaVu Sans', sans-serif;font-weight:bold;letter-spacing:0.35px;-webkit-text-stroke:0;">Konrad Ulbricht</div>
<div class="t" style="left:319.3px;top:433.14px;font-size:10.9px;line-height:14.17px;color:#464643;font-family:'Liberation Sans', 'DejaVu Sans', sans-serif;font-weight:normal;letter-spacing:0.6px;-webkit-text-stroke:0.3px #464643;">ULB</div>
<div class="t" style="left:387.9px;top:433.24px;font-size:10.8px;line-height:14.04px;color:#464643;font-family:'Liberation Sans', 'DejaVu Sans', sans-serif;font-weight:normal;letter-spacing:1px;-webkit-text-stroke:0.3px #464643;">23</div>
<svg class="r" style="left:498px;top:433px" width="14" height="11" viewBox="0 0 14 11"><g><rect width="14" height="3.7" fill="#1a1a1a"/><rect y="3.7" width="14" height="3.7" fill="#c01818"/><rect y="7.4" width="14" height="3.6" fill="#e0b000"/></g><rect width="14" height="11" fill="rgba(0,0,0,0.42)"/></svg>
<div class="t" style="left:515.3px;top:434.03px;font-size:10px;line-height:13.0px;color:#464643;font-family:'Liberation Sans', 'DejaVu Sans', sans-serif;font-weight:normal;letter-spacing:0.55px;-webkit-text-stroke:0.3px #464643;">Germany</div>
<div class="t" style="left:676.3px;top:434.43px;font-size:9.6px;line-height:12.48px;color:#464643;font-family:'Liberation Sans', 'DejaVu Sans', sans-serif;font-weight:bold;letter-spacing:0.2px;-webkit-text-stroke:0;">-</div>
<div class="r" style="left:789px;top:427px;width:1px;height:24px;background:rgba(90,88,78,0.35);"></div>
<div class="r" style="left:1205px;top:427px;width:1px;height:24px;background:rgba(90,88,78,0.35);"></div>
<div class="r" style="left:1207px;top:427px;width:71px;height:24px;background:#808080;"></div>
<div class="t" style="left:1210px;top:428.66px;font-size:17px;line-height:22.1px;color:#1a1a60;font-family:'Liberation Sans', 'DejaVu Sans', sans-serif;font-weight:bold;-webkit-text-stroke:0px #1a1a60;letter-spacing:0.5px;">91</div>
<div class="t" style="left:1287px;top:428.16px;font-size:16.3px;line-height:21.19px;color:#5a5a58;font-family:'Liberation Sans', 'DejaVu Sans', sans-serif;font-weight:normal;-webkit-text-stroke:0.25px #5a5a58;letter-spacing:1px;">76</div>
<div class="t" style="left:1362px;top:429.15px;font-size:15.2px;line-height:19.76px;color:#626208;font-family:'Liberation Sans', 'DejaVu Sans', sans-serif;font-weight:bold;-webkit-text-stroke:0px #626208;letter-spacing:1.4px;">38%</div>
<div class="r" style="left:1361px;top:448px;width:23px;height:2px;background:rgba(100,96,70,0.32);"></div>
<div class="r" style="left:1434px;top:436px;width:6px;height:6px;border-radius:50%;background:#2e6a2e"></div>
<div class="t" style="left:1444.0px;top:433.84px;font-size:10.2px;line-height:13.26px;color:#262624;font-family:'Liberation Sans', 'DejaVu Sans', sans-serif;font-weight:bold;letter-spacing:0px;-webkit-text-stroke:0;">Available</div>
<div class="r" style="left:2px;top:452px;width:1724px;height:26px;background:#838276;"></div>
<div class="r" style="left:8px;top:476px;width:28px;height:1px;background:rgba(60,58,50,0.35);"></div>
<div class="r" style="left:35px;top:454px;width:1px;height:23px;background:rgba(60,58,50,0.25);"></div>
<svg class="r" style="left:8.5px;top:453.8px;filter:brightness(0.66)" width="25.0" height="21.0" viewBox="0 0 26 22"><g opacity="1.0">
<path d="M1,12 C0.5,5 6,0.8 13,0.8 C19.5,0.8 24,4.5 24.6,10 L25,16 C25,19.5 22.5,21.2 19,21.2 L8,20.8 C4,20.3 1.5,17 1,12 Z" fill="#1e2a2a" stroke="#0a0a0a" stroke-width="1.1"/>
<path d="M5,4.2 C9,2.4 15,2.2 20,3.6 L20.8,4.8 C15,3.6 9.5,3.8 5.6,5.6 Z" fill="#a020d0"/>
<path d="M1.6,10.5 C5,6.5 12,5.4 22.5,6.4 L23.6,8 C15,7.2 8,8 2.2,12.6 Z" fill="#a020d0"/>
<path d="M1.8,14.4 C7,14.8 13,16 24.6,16.2 L24.5,18 C14,18 7,17.4 2.8,17 Z" fill="#a020d0"/>
<path d="M2.6,17.2 C7,18.6 13,19.6 23.5,19.6 C22.5,20.8 21,21.2 19,21.2 L8,20.8 C5,20.4 3.4,19 2.6,17.2 Z" fill="#141414"/>
<path d="M9.6,9.4 C11.5,8.4 16,8.2 24.6,8.6 L24.8,13.8 L12.6,14.2 C10.4,14 9.2,12.6 9.2,11.2 C9.2,10.4 9.3,9.8 9.6,9.4 Z" fill="#050508"/>
<circle cx="11.3" cy="11.2" r="1.3" fill="#1e2a2a" opacity="0.55"/>
<path d="M19.6,8.8 L21.2,8.8 L21.6,13.8 L20,13.9 Z" fill="#fff" opacity="0.22"/>
<path d="M13.5,15.6 L18,16 L18,19.4 L13.5,19.2 Z" fill="#2a8a7a"/>
</g></svg>
<div class="t" style="left:43.6px;top:454.55px;font-size:15.5px;line-height:20.15px;color:#0c0c0c;font-family:'Liberation Sans', 'DejaVu Sans', sans-serif;font-weight:bold;letter-spacing:0.35px;-webkit-text-stroke:0;">Vegard Solberg</div>
<div class="t" style="left:319.3px;top:459.14px;font-size:10.9px;line-height:14.17px;color:#464643;font-family:'Liberation Sans', 'DejaVu Sans', sans-serif;font-weight:normal;letter-spacing:0.6px;-webkit-text-stroke:0.3px #464643;">SOL</div>
<div class="t" style="left:387.9px;top:459.24px;font-size:10.8px;line-height:14.04px;color:#464643;font-family:'Liberation Sans', 'DejaVu Sans', sans-serif;font-weight:normal;letter-spacing:1px;-webkit-text-stroke:0.3px #464643;">24</div>
<svg class="r" style="left:498px;top:459px" width="14" height="11" viewBox="0 0 14 11"><g><rect width="14" height="11" fill="#c8102e"/><rect x="4" width="3" height="11" fill="#fff"/><rect y="4" width="14" height="3" fill="#fff"/><rect x="4.75" width="1.5" height="11" fill="#1a2a6a"/><rect y="4.75" width="14" height="1.5" fill="#1a2a6a"/></g><rect width="14" height="11" fill="rgba(0,0,0,0.42)"/></svg>
<div class="t" style="left:515.3px;top:460.03px;font-size:10px;line-height:13.0px;color:#464643;font-family:'Liberation Sans', 'DejaVu Sans', sans-serif;font-weight:normal;letter-spacing:0.55px;-webkit-text-stroke:0.3px #464643;">Norway</div>
<div class="t" style="left:676.3px;top:460.43px;font-size:9.6px;line-height:12.48px;color:#464643;font-family:'Liberation Sans', 'DejaVu Sans', sans-serif;font-weight:bold;letter-spacing:0.2px;-webkit-text-stroke:0;">-</div>
<div class="r" style="left:789px;top:453px;width:1px;height:24px;background:rgba(90,88,78,0.35);"></div>
<div class="r" style="left:1205px;top:453px;width:1px;height:24px;background:rgba(90,88,78,0.35);"></div>
<div class="r" style="left:1207px;top:453px;width:71px;height:24px;background:#808080;"></div>
<div class="t" style="left:1210px;top:454.66px;font-size:17px;line-height:22.1px;color:#1a1a60;font-family:'Liberation Sans', 'DejaVu Sans', sans-serif;font-weight:bold;-webkit-text-stroke:0px #1a1a60;letter-spacing:0.5px;">91</div>
<div class="t" style="left:1287px;top:454.16px;font-size:16.3px;line-height:21.19px;color:#5a5a58;font-family:'Liberation Sans', 'DejaVu Sans', sans-serif;font-weight:normal;-webkit-text-stroke:0.25px #5a5a58;letter-spacing:1px;">75</div>
<div class="t" style="left:1362px;top:455.15px;font-size:15.2px;line-height:19.76px;color:#626208;font-family:'Liberation Sans', 'DejaVu Sans', sans-serif;font-weight:bold;-webkit-text-stroke:0px #626208;letter-spacing:1.4px;">38%</div>
<div class="r" style="left:1361px;top:474px;width:23px;height:2px;background:rgba(100,96,70,0.32);"></div>
<div class="r" style="left:1434px;top:462px;width:6px;height:6px;border-radius:50%;background:#2e6a2e"></div>
<div class="t" style="left:1444.0px;top:459.84px;font-size:10.2px;line-height:13.26px;color:#262624;font-family:'Liberation Sans', 'DejaVu Sans', sans-serif;font-weight:bold;letter-spacing:0px;-webkit-text-stroke:0;">Available</div>
<div class="r" style="left:2px;top:478px;width:1724px;height:26px;background:#8b8981;"></div>
<div class="r" style="left:8px;top:502px;width:28px;height:1px;background:rgba(60,58,50,0.35);"></div>
<div class="r" style="left:35px;top:480px;width:1px;height:23px;background:rgba(60,58,50,0.25);"></div>
<svg class="r" style="left:8.5px;top:479.8px;filter:brightness(0.5) saturate(0.7)" width="25.0" height="21.0" viewBox="0 0 26 22"><g opacity="0.6">
<path d="M1,12 C0.5,5 6,0.8 13,0.8 C19.5,0.8 24,4.5 24.6,10 L25,16 C25,19.5 22.5,21.2 19,21.2 L8,20.8 C4,20.3 1.5,17 1,12 Z" fill="#6a6a7a" stroke="#0a0a0a" stroke-width="1.1"/>
<path d="M5,4.2 C9,2.4 15,2.2 20,3.6 L20.8,4.8 C15,3.6 9.5,3.8 5.6,5.6 Z" fill="#7a5a4a"/>
<path d="M1.6,10.5 C5,6.5 12,5.4 22.5,6.4 L23.6,8 C15,7.2 8,8 2.2,12.6 Z" fill="#7a5a4a"/>
<path d="M1.8,14.4 C7,14.8 13,16 24.6,16.2 L24.5,18 C14,18 7,17.4 2.8,17 Z" fill="#7a5a4a"/>
<path d="M2.6,17.2 C7,18.6 13,19.6 23.5,19.6 C22.5,20.8 21,21.2 19,21.2 L8,20.8 C5,20.4 3.4,19 2.6,17.2 Z" fill="#141414"/>
<path d="M9.6,9.4 C11.5,8.4 16,8.2 24.6,8.6 L24.8,13.8 L12.6,14.2 C10.4,14 9.2,12.6 9.2,11.2 C9.2,10.4 9.3,9.8 9.6,9.4 Z" fill="#050508"/>
<circle cx="11.3" cy="11.2" r="1.3" fill="#6a6a7a" opacity="0.55"/>
<path d="M19.6,8.8 L21.2,8.8 L21.6,13.8 L20,13.9 Z" fill="#fff" opacity="0.22"/>
<path d="M13.5,15.6 L18,16 L18,19.4 L13.5,19.2 Z" fill="#4a4a5a"/>
</g></svg>
<div class="t" style="left:42.6px;top:480.55px;font-size:15.5px;line-height:20.15px;color:#5f5e5a;font-family:'Liberation Sans', 'DejaVu Sans', sans-serif;font-weight:bold;letter-spacing:0.35px;-webkit-text-stroke:0;">Makoto Miyamoto</div>
<div class="t" style="left:319.3px;top:485.14px;font-size:10.9px;line-height:14.17px;color:#5f5e5a;font-family:'Liberation Sans', 'DejaVu Sans', sans-serif;font-weight:normal;letter-spacing:0.6px;-webkit-text-stroke:0.3px #5f5e5a;">MI6</div>
<div class="t" style="left:387.9px;top:485.24px;font-size:10.8px;line-height:14.04px;color:#5f5e5a;font-family:'Liberation Sans', 'DejaVu Sans', sans-serif;font-weight:normal;letter-spacing:1px;-webkit-text-stroke:0.3px #5f5e5a;">24</div>
<svg class="r" style="left:498px;top:485px" width="14" height="11" viewBox="0 0 14 11"><g opacity="0.45"><rect width="14" height="11" fill="#f4f4f4"/><circle cx="7" cy="5.5" r="3" fill="#c00020"/></g><rect width="14" height="11" fill="rgba(0,0,0,0.42)"/></svg>
<div class="t" style="left:516.3px;top:486.03px;font-size:10px;line-height:13.0px;color:#5f5e5a;font-family:'Liberation Sans', 'DejaVu Sans', sans-serif;font-weight:normal;letter-spacing:0.55px;-webkit-text-stroke:0.3px #5f5e5a;">Japan</div>
<div class="t" style="left:676.3px;top:486.43px;font-size:9.6px;line-height:12.48px;color:#5f5e5a;font-family:'Liberation Sans', 'DejaVu Sans', sans-serif;font-weight:bold;letter-spacing:0.2px;-webkit-text-stroke:0;">-</div>
<div class="r" style="left:789px;top:479px;width:1px;height:24px;background:rgba(90,88,78,0.35);"></div>
<div class="r" style="left:1205px;top:479px;width:1px;height:24px;background:rgba(90,88,78,0.35);"></div>
<div class="t" style="left:1210px;top:480.66px;font-size:17px;line-height:22.1px;color:#62615d;font-family:'Liberation Sans', 'DejaVu Sans', sans-serif;font-weight:bold;-webkit-text-stroke:0px #62615d;letter-spacing:0.5px;">91</div>
<div class="t" style="left:1287px;top:480.16px;font-size:16.3px;line-height:21.19px;color:#5c5b57;font-family:'Liberation Sans', 'DejaVu Sans', sans-serif;font-weight:normal;-webkit-text-stroke:0.25px #5c5b57;letter-spacing:1px;">80</div>
<div class="t" style="left:1362px;top:481.15px;font-size:15.2px;line-height:19.76px;color:#5e5d59;font-family:'Liberation Sans', 'DejaVu Sans', sans-serif;font-weight:bold;-webkit-text-stroke:0px #5e5d59;letter-spacing:1.4px;">38%</div>
<div class="r" style="left:1434px;top:488px;width:6px;height:6px;border-radius:50%;background:#6a6a66"></div>
<div class="t" style="left:1444.0px;top:487.83px;font-size:8.9px;line-height:11.57px;color:#63625e;font-family:'Liberation Sans', 'DejaVu Sans', sans-serif;font-weight:bold;letter-spacing:0.1px;-webkit-text-stroke:0;">TEAM HORIZON (Primary)</div>
<div class="r" style="left:2px;top:504px;width:1724px;height:26px;background:#838276;"></div>
<div class="r" style="left:8px;top:528px;width:28px;height:1px;background:rgba(60,58,50,0.35);"></div>
<div class="r" style="left:35px;top:506px;width:1px;height:23px;background:rgba(60,58,50,0.25);"></div>
<svg class="r" style="left:8.5px;top:505.8px;filter:brightness(0.66)" width="25.0" height="21.0" viewBox="0 0 26 22"><g opacity="1.0">
<path d="M1,12 C0.5,5 6,0.8 13,0.8 C19.5,0.8 24,4.5 24.6,10 L25,16 C25,19.5 22.5,21.2 19,21.2 L8,20.8 C4,20.3 1.5,17 1,12 Z" fill="#5020d0" stroke="#0a0a0a" stroke-width="1.1"/>
<path d="M5,4.2 C9,2.4 15,2.2 20,3.6 L20.8,4.8 C15,3.6 9.5,3.8 5.6,5.6 Z" fill="#7040f0"/>
<path d="M1.6,10.5 C5,6.5 12,5.4 22.5,6.4 L23.6,8 C15,7.2 8,8 2.2,12.6 Z" fill="#7040f0"/>
<path d="M1.8,14.4 C7,14.8 13,16 24.6,16.2 L24.5,18 C14,18 7,17.4 2.8,17 Z" fill="#7040f0"/>
<path d="M2.6,17.2 C7,18.6 13,19.6 23.5,19.6 C22.5,20.8 21,21.2 19,21.2 L8,20.8 C5,20.4 3.4,19 2.6,17.2 Z" fill="#141414"/>
<path d="M9.6,9.4 C11.5,8.4 16,8.2 24.6,8.6 L24.8,13.8 L12.6,14.2 C10.4,14 9.2,12.6 9.2,11.2 C9.2,10.4 9.3,9.8 9.6,9.4 Z" fill="#050508"/>
<circle cx="11.3" cy="11.2" r="1.3" fill="#5020d0" opacity="0.55"/>
<path d="M19.6,8.8 L21.2,8.8 L21.6,13.8 L20,13.9 Z" fill="#fff" opacity="0.22"/>
<path d="M13.5,15.6 L18,16 L18,19.4 L13.5,19.2 Z" fill="#1a0a4a"/>
</g></svg>
<div class="t" style="left:43.6px;top:506.55px;font-size:15.5px;line-height:20.15px;color:#0c0c0c;font-family:'Liberation Sans', 'DejaVu Sans', sans-serif;font-weight:bold;letter-spacing:0.35px;-webkit-text-stroke:0;">Valentin Torres</div>
<div class="t" style="left:320.3px;top:511.14px;font-size:10.9px;line-height:14.17px;color:#464643;font-family:'Liberation Sans', 'DejaVu Sans', sans-serif;font-weight:normal;letter-spacing:0.6px;-webkit-text-stroke:0.3px #464643;">TO9</div>
<div class="t" style="left:387.9px;top:511.24px;font-size:10.8px;line-height:14.04px;color:#464643;font-family:'Liberation Sans', 'DejaVu Sans', sans-serif;font-weight:normal;letter-spacing:1px;-webkit-text-stroke:0.3px #464643;">31</div>
<svg class="r" style="left:498px;top:511px" width="14" height="11" viewBox="0 0 14 11"><g><rect width="14" height="11" fill="#f4f4f4"/><rect width="3.5" height="11" fill="#e01020"/><rect x="10.5" width="3.5" height="11" fill="#e01020"/><polygon points="7,2.5 8.3,5 9.5,4.5 8.8,7.5 7,7 5.2,7.5 4.5,4.5 5.7,5" fill="#e01020"/></g><rect width="14" height="11" fill="rgba(0,0,0,0.42)"/></svg>
<div class="t" style="left:515.3px;top:512.04px;font-size:10px;line-height:13.0px;color:#464643;font-family:'Liberation Sans', 'DejaVu Sans', sans-serif;font-weight:normal;letter-spacing:0.55px;-webkit-text-stroke:0.3px #464643;">Canada</div>
<div class="t" style="left:676.3px;top:512.43px;font-size:9.6px;line-height:12.48px;color:#464643;font-family:'Liberation Sans', 'DejaVu Sans', sans-serif;font-weight:bold;letter-spacing:0.2px;-webkit-text-stroke:0;">-</div>
<div class="r" style="left:789px;top:505px;width:1px;height:24px;background:rgba(90,88,78,0.35);"></div>
<div class="r" style="left:1205px;top:505px;width:1px;height:24px;background:rgba(90,88,78,0.35);"></div>
<div class="r" style="left:1207px;top:505px;width:71px;height:24px;background:#808080;"></div>
<div class="t" style="left:1210px;top:506.66px;font-size:17px;line-height:22.1px;color:#1a1a60;font-family:'Liberation Sans', 'DejaVu Sans', sans-serif;font-weight:bold;-webkit-text-stroke:0px #1a1a60;letter-spacing:0.5px;">91</div>
<div class="t" style="left:1287px;top:506.16px;font-size:16.3px;line-height:21.19px;color:#5a5a58;font-family:'Liberation Sans', 'DejaVu Sans', sans-serif;font-weight:normal;-webkit-text-stroke:0.25px #5a5a58;letter-spacing:1px;">75</div>
<div class="t" style="left:1362px;top:507.15px;font-size:15.2px;line-height:19.76px;color:#626208;font-family:'Liberation Sans', 'DejaVu Sans', sans-serif;font-weight:bold;-webkit-text-stroke:0px #626208;letter-spacing:1.4px;">38%</div>
<div class="r" style="left:1361px;top:526px;width:23px;height:2px;background:rgba(100,96,70,0.32);"></div>
<div class="r" style="left:1434px;top:514px;width:6px;height:6px;border-radius:50%;background:#2e6a2e"></div>
<div class="t" style="left:1444.0px;top:511.84px;font-size:10.2px;line-height:13.26px;color:#262624;font-family:'Liberation Sans', 'DejaVu Sans', sans-serif;font-weight:bold;letter-spacing:0px;-webkit-text-stroke:0;">Available</div>
<div class="r" style="left:2px;top:530px;width:1724px;height:26px;background:#8b8981;"></div>
<div class="r" style="left:8px;top:554px;width:28px;height:1px;background:rgba(60,58,50,0.35);"></div>
<div class="r" style="left:35px;top:532px;width:1px;height:23px;background:rgba(60,58,50,0.25);"></div>
<svg class="r" style="left:8.5px;top:531.8px;filter:brightness(0.66)" width="25.0" height="21.0" viewBox="0 0 26 22"><g opacity="1.0">
<path d="M1,12 C0.5,5 6,0.8 13,0.8 C19.5,0.8 24,4.5 24.6,10 L25,16 C25,19.5 22.5,21.2 19,21.2 L8,20.8 C4,20.3 1.5,17 1,12 Z" fill="#20b090" stroke="#0a0a0a" stroke-width="1.1"/>
<path d="M5,4.2 C9,2.4 15,2.2 20,3.6 L20.8,4.8 C15,3.6 9.5,3.8 5.6,5.6 Z" fill="#c05a3a"/>
<path d="M1.6,10.5 C5,6.5 12,5.4 22.5,6.4 L23.6,8 C15,7.2 8,8 2.2,12.6 Z" fill="#c05a3a"/>
<path d="M1.8,14.4 C7,14.8 13,16 24.6,16.2 L24.5,18 C14,18 7,17.4 2.8,17 Z" fill="#c05a3a"/>
<path d="M2.6,17.2 C7,18.6 13,19.6 23.5,19.6 C22.5,20.8 21,21.2 19,21.2 L8,20.8 C5,20.4 3.4,19 2.6,17.2 Z" fill="#141414"/>
<path d="M9.6,9.4 C11.5,8.4 16,8.2 24.6,8.6 L24.8,13.8 L12.6,14.2 C10.4,14 9.2,12.6 9.2,11.2 C9.2,10.4 9.3,9.8 9.6,9.4 Z" fill="#050508"/>
<circle cx="11.3" cy="11.2" r="1.3" fill="#20b090" opacity="0.55"/>
<path d="M19.6,8.8 L21.2,8.8 L21.6,13.8 L20,13.9 Z" fill="#fff" opacity="0.22"/>
<path d="M13.5,15.6 L18,16 L18,19.4 L13.5,19.2 Z" fill="#1a3a3a"/>
</g></svg>
<div class="t" style="left:42.6px;top:532.55px;font-size:15.5px;line-height:20.15px;color:#0c0c0c;font-family:'Liberation Sans', 'DejaVu Sans', sans-serif;font-weight:bold;letter-spacing:0.35px;-webkit-text-stroke:0;">Shunsuke Yamaguchi</div>
<div class="t" style="left:319.3px;top:537.14px;font-size:10.9px;line-height:14.17px;color:#464643;font-family:'Liberation Sans', 'DejaVu Sans', sans-serif;font-weight:normal;letter-spacing:0.6px;-webkit-text-stroke:0.3px #464643;">YA8</div>
<div class="t" style="left:387.9px;top:537.24px;font-size:10.8px;line-height:14.04px;color:#464643;font-family:'Liberation Sans', 'DejaVu Sans', sans-serif;font-weight:normal;letter-spacing:1px;-webkit-text-stroke:0.3px #464643;">28</div>
<svg class="r" style="left:498px;top:537px" width="14" height="11" viewBox="0 0 14 11"><g><rect width="14" height="11" fill="#f4f4f4"/><circle cx="7" cy="5.5" r="3" fill="#c00020"/></g><rect width="14" height="11" fill="rgba(0,0,0,0.42)"/></svg>
<div class="t" style="left:516.3px;top:538.04px;font-size:10px;line-height:13.0px;color:#464643;font-family:'Liberation Sans', 'DejaVu Sans', sans-serif;font-weight:normal;letter-spacing:0.55px;-webkit-text-stroke:0.3px #464643;">Japan</div>
<div class="t" style="left:676.3px;top:538.43px;font-size:9.6px;line-height:12.48px;color:#464643;font-family:'Liberation Sans', 'DejaVu Sans', sans-serif;font-weight:bold;letter-spacing:0.2px;-webkit-text-stroke:0;">-</div>
<div class="r" style="left:789px;top:531px;width:1px;height:24px;background:rgba(90,88,78,0.35);"></div>
<div class="r" style="left:1205px;top:531px;width:1px;height:24px;background:rgba(90,88,78,0.35);"></div>
<div class="r" style="left:1207px;top:531px;width:71px;height:24px;background:#808080;"></div>
<div class="t" style="left:1210px;top:532.66px;font-size:17px;line-height:22.1px;color:#1a1a60;font-family:'Liberation Sans', 'DejaVu Sans', sans-serif;font-weight:bold;-webkit-text-stroke:0px #1a1a60;letter-spacing:0.5px;">91</div>
<div class="t" style="left:1287px;top:532.16px;font-size:16.3px;line-height:21.19px;color:#a47a18;font-family:'Liberation Sans', 'DejaVu Sans', sans-serif;font-weight:normal;-webkit-text-stroke:0.25px #a47a18;letter-spacing:1px;">81</div>
<div class="t" style="left:1362px;top:533.15px;font-size:15.2px;line-height:19.76px;color:#626208;font-family:'Liberation Sans', 'DejaVu Sans', sans-serif;font-weight:bold;-webkit-text-stroke:0px #626208;letter-spacing:1.4px;">38%</div>
<div class="r" style="left:1361px;top:552px;width:23px;height:2px;background:rgba(100,96,70,0.32);"></div>
<div class="r" style="left:1434px;top:540px;width:6px;height:6px;border-radius:50%;background:#2e6a2e"></div>
<div class="t" style="left:1444.0px;top:537.84px;font-size:10.2px;line-height:13.26px;color:#262624;font-family:'Liberation Sans', 'DejaVu Sans', sans-serif;font-weight:bold;letter-spacing:0px;-webkit-text-stroke:0;">Available</div>
<div class="r" style="left:2px;top:556px;width:1724px;height:26px;background:#838276;"></div>
<div class="r" style="left:8px;top:580px;width:28px;height:1px;background:rgba(60,58,50,0.35);"></div>
<div class="r" style="left:35px;top:558px;width:1px;height:23px;background:rgba(60,58,50,0.25);"></div>
<svg class="r" style="left:8.5px;top:557.8px;filter:brightness(0.66)" width="25.0" height="21.0" viewBox="0 0 26 22"><g opacity="1.0">
<path d="M1,12 C0.5,5 6,0.8 13,0.8 C19.5,0.8 24,4.5 24.6,10 L25,16 C25,19.5 22.5,21.2 19,21.2 L8,20.8 C4,20.3 1.5,17 1,12 Z" fill="#20a080" stroke="#0a0a0a" stroke-width="1.1"/>
<path d="M5,4.2 C9,2.4 15,2.2 20,3.6 L20.8,4.8 C15,3.6 9.5,3.8 5.6,5.6 Z" fill="#d0a060"/>
<path d="M1.6,10.5 C5,6.5 12,5.4 22.5,6.4 L23.6,8 C15,7.2 8,8 2.2,12.6 Z" fill="#d0a060"/>
<path d="M1.8,14.4 C7,14.8 13,16 24.6,16.2 L24.5,18 C14,18 7,17.4 2.8,17 Z" fill="#d0a060"/>
<path d="M2.6,17.2 C7,18.6 13,19.6 23.5,19.6 C22.5,20.8 21,21.2 19,21.2 L8,20.8 C5,20.4 3.4,19 2.6,17.2 Z" fill="#141414"/>
<path d="M9.6,9.4 C11.5,8.4 16,8.2 24.6,8.6 L24.8,13.8 L12.6,14.2 C10.4,14 9.2,12.6 9.2,11.2 C9.2,10.4 9.3,9.8 9.6,9.4 Z" fill="#050508"/>
<circle cx="11.3" cy="11.2" r="1.3" fill="#20a080" opacity="0.55"/>
<path d="M19.6,8.8 L21.2,8.8 L21.6,13.8 L20,13.9 Z" fill="#fff" opacity="0.22"/>
<path d="M13.5,15.6 L18,16 L18,19.4 L13.5,19.2 Z" fill="#1a3a2a"/>
</g></svg>
<div class="t" style="left:42.6px;top:558.55px;font-size:15.5px;line-height:20.15px;color:#0c0c0c;font-family:'Liberation Sans', 'DejaVu Sans', sans-serif;font-weight:bold;letter-spacing:0.35px;-webkit-text-stroke:0;">Expedito Albuquerque</div>
<div class="t" style="left:320.3px;top:563.14px;font-size:10.9px;line-height:14.17px;color:#464643;font-family:'Liberation Sans', 'DejaVu Sans', sans-serif;font-weight:normal;letter-spacing:0.6px;-webkit-text-stroke:0.3px #464643;">AL3</div>
<div class="t" style="left:387.9px;top:563.24px;font-size:10.8px;line-height:14.04px;color:#464643;font-family:'Liberation Sans', 'DejaVu Sans', sans-serif;font-weight:normal;letter-spacing:1px;-webkit-text-stroke:0.3px #464643;">28</div>
<svg class="r" style="left:498px;top:563px" width="14" height="11" viewBox="0 0 14 11"><g><rect width="14" height="11" fill="#1a9a3a"/><polygon points="7,1.5 12.5,5.5 7,9.5 1.5,5.5" fill="#f0d000"/><circle cx="7" cy="5.5" r="2.2" fill="#1a3a8a"/></g><rect width="14" height="11" fill="rgba(0,0,0,0.42)"/></svg>
<div class="t" style="left:515.3px;top:564.04px;font-size:10px;line-height:13.0px;color:#464643;font-family:'Liberation Sans', 'DejaVu Sans', sans-serif;font-weight:normal;letter-spacing:0.55px;-webkit-text-stroke:0.3px #464643;">Brazil</div>
<div class="t" style="left:676.3px;top:564.43px;font-size:9.6px;line-height:12.48px;color:#464643;font-family:'Liberation Sans', 'DejaVu Sans', sans-serif;font-weight:bold;letter-spacing:0.2px;-webkit-text-stroke:0;">-</div>
<div class="r" style="left:789px;top:557px;width:1px;height:24px;background:rgba(90,88,78,0.35);"></div>
<div class="r" style="left:1205px;top:557px;width:1px;height:24px;background:rgba(90,88,78,0.35);"></div>
<div class="r" style="left:1207px;top:557px;width:71px;height:24px;background:#808080;"></div>
<div class="t" style="left:1210px;top:558.66px;font-size:17px;line-height:22.1px;color:#1a1a60;font-family:'Liberation Sans', 'DejaVu Sans', sans-serif;font-weight:bold;-webkit-text-stroke:0px #1a1a60;letter-spacing:0.5px;">91</div>
<div class="t" style="left:1287px;top:558.16px;font-size:16.3px;line-height:21.19px;color:#5a5a58;font-family:'Liberation Sans', 'DejaVu Sans', sans-serif;font-weight:normal;-webkit-text-stroke:0.25px #5a5a58;letter-spacing:1px;">75</div>
<div class="t" style="left:1362px;top:559.15px;font-size:15.2px;line-height:19.76px;color:#626208;font-family:'Liberation Sans', 'DejaVu Sans', sans-serif;font-weight:bold;-webkit-text-stroke:0px #626208;letter-spacing:1.4px;">38%</div>
<div class="r" style="left:1361px;top:578px;width:23px;height:2px;background:rgba(100,96,70,0.32);"></div>
<div class="r" style="left:1434px;top:566px;width:6px;height:6px;border-radius:50%;background:#2e6a2e"></div>
<div class="t" style="left:1444.0px;top:563.84px;font-size:10.2px;line-height:13.26px;color:#262624;font-family:'Liberation Sans', 'DejaVu Sans', sans-serif;font-weight:bold;letter-spacing:0px;-webkit-text-stroke:0;">Available</div>
<div class="r" style="left:2px;top:582px;width:1724px;height:26px;background:#8b8981;"></div>
<div class="r" style="left:8px;top:606px;width:28px;height:1px;background:rgba(60,58,50,0.35);"></div>
<div class="r" style="left:35px;top:584px;width:1px;height:23px;background:rgba(60,58,50,0.25);"></div>
<svg class="r" style="left:8.5px;top:583.8px;filter:brightness(0.66)" width="25.0" height="21.0" viewBox="0 0 26 22"><g opacity="1.0">
<path d="M1,12 C0.5,5 6,0.8 13,0.8 C19.5,0.8 24,4.5 24.6,10 L25,16 C25,19.5 22.5,21.2 19,21.2 L8,20.8 C4,20.3 1.5,17 1,12 Z" fill="#2a8a8a" stroke="#0a0a0a" stroke-width="1.1"/>
<path d="M5,4.2 C9,2.4 15,2.2 20,3.6 L20.8,4.8 C15,3.6 9.5,3.8 5.6,5.6 Z" fill="#e0a040"/>
<path d="M1.6,10.5 C5,6.5 12,5.4 22.5,6.4 L23.6,8 C15,7.2 8,8 2.2,12.6 Z" fill="#e0a040"/>
<path d="M1.8,14.4 C7,14.8 13,16 24.6,16.2 L24.5,18 C14,18 7,17.4 2.8,17 Z" fill="#e0a040"/>
<path d="M2.6,17.2 C7,18.6 13,19.6 23.5,19.6 C22.5,20.8 21,21.2 19,21.2 L8,20.8 C5,20.4 3.4,19 2.6,17.2 Z" fill="#141414"/>
<path d="M9.6,9.4 C11.5,8.4 16,8.2 24.6,8.6 L24.8,13.8 L12.6,14.2 C10.4,14 9.2,12.6 9.2,11.2 C9.2,10.4 9.3,9.8 9.6,9.4 Z" fill="#050508"/>
<circle cx="11.3" cy="11.2" r="1.3" fill="#2a8a8a" opacity="0.55"/>
<path d="M19.6,8.8 L21.2,8.8 L21.6,13.8 L20,13.9 Z" fill="#fff" opacity="0.22"/>
<path d="M13.5,15.6 L18,16 L18,19.4 L13.5,19.2 Z" fill="#c0c030"/>
</g></svg>
<div class="t" style="left:42.6px;top:584.55px;font-size:15.5px;line-height:20.15px;color:#0c0c0c;font-family:'Liberation Sans', 'DejaVu Sans', sans-serif;font-weight:bold;letter-spacing:0.35px;-webkit-text-stroke:0;">Cezary Ciesielski</div>
<div class="t" style="left:319.3px;top:589.14px;font-size:10.9px;line-height:14.17px;color:#464643;font-family:'Liberation Sans', 'DejaVu Sans', sans-serif;font-weight:normal;letter-spacing:0.6px;-webkit-text-stroke:0.3px #464643;">CI7</div>
<div class="t" style="left:387.9px;top:589.24px;font-size:10.8px;line-height:14.04px;color:#464643;font-family:'Liberation Sans', 'DejaVu Sans', sans-serif;font-weight:normal;letter-spacing:1px;-webkit-text-stroke:0.3px #464643;">26</div>
<svg class="r" style="left:498px;top:589px" width="14" height="11" viewBox="0 0 14 11"><g><rect width="14" height="5.5" fill="#f4f4f4"/><rect y="5.5" width="14" height="5.5" fill="#e01030"/></g><rect width="14" height="11" fill="rgba(0,0,0,0.42)"/></svg>
<div class="t" style="left:515.3px;top:590.04px;font-size:10px;line-height:13.0px;color:#464643;font-family:'Liberation Sans', 'DejaVu Sans', sans-serif;font-weight:normal;letter-spacing:0.55px;-webkit-text-stroke:0.3px #464643;">Poland</div>
<div class="t" style="left:676.3px;top:590.43px;font-size:9.6px;line-height:12.48px;color:#464643;font-family:'Liberation Sans', 'DejaVu Sans', sans-serif;font-weight:bold;letter-spacing:0.2px;-webkit-text-stroke:0;">-</div>
<div class="r" style="left:789px;top:583px;width:1px;height:24px;background:rgba(90,88,78,0.35);"></div>
<div class="r" style="left:1205px;top:583px;width:1px;height:24px;background:rgba(90,88,78,0.35);"></div>
<div class="r" style="left:1207px;top:583px;width:71px;height:24px;background:#808080;"></div>
<div class="t" style="left:1210px;top:584.66px;font-size:17px;line-height:22.1px;color:#1a1a60;font-family:'Liberation Sans', 'DejaVu Sans', sans-serif;font-weight:bold;-webkit-text-stroke:0px #1a1a60;letter-spacing:0.5px;">90</div>
<div class="t" style="left:1287px;top:584.16px;font-size:16.3px;line-height:21.19px;color:#5a5a58;font-family:'Liberation Sans', 'DejaVu Sans', sans-serif;font-weight:normal;-webkit-text-stroke:0.25px #5a5a58;letter-spacing:1px;">75</div>
<div class="t" style="left:1362px;top:585.15px;font-size:15.2px;line-height:19.76px;color:#626208;font-family:'Liberation Sans', 'DejaVu Sans', sans-serif;font-weight:bold;-webkit-text-stroke:0px #626208;letter-spacing:1.4px;">38%</div>
<div class="r" style="left:1361px;top:604px;width:23px;height:2px;background:rgba(100,96,70,0.32);"></div>
<div class="r" style="left:1434px;top:592px;width:6px;height:6px;border-radius:50%;background:#2e6a2e"></div>
<div class="t" style="left:1444.0px;top:589.84px;font-size:10.2px;line-height:13.26px;color:#262624;font-family:'Liberation Sans', 'DejaVu Sans', sans-serif;font-weight:bold;letter-spacing:0px;-webkit-text-stroke:0;">Available</div>
<div class="r" style="left:2px;top:608px;width:1724px;height:26px;background:#838276;"></div>
<div class="r" style="left:8px;top:632px;width:28px;height:1px;background:rgba(60,58,50,0.35);"></div>
<div class="r" style="left:35px;top:610px;width:1px;height:23px;background:rgba(60,58,50,0.25);"></div>
<svg class="r" style="left:8.5px;top:609.8px;filter:brightness(0.66)" width="25.0" height="21.0" viewBox="0 0 26 22"><g opacity="1.0">
<path d="M1,12 C0.5,5 6,0.8 13,0.8 C19.5,0.8 24,4.5 24.6,10 L25,16 C25,19.5 22.5,21.2 19,21.2 L8,20.8 C4,20.3 1.5,17 1,12 Z" fill="#d040a0" stroke="#0a0a0a" stroke-width="1.1"/>
<path d="M5,4.2 C9,2.4 15,2.2 20,3.6 L20.8,4.8 C15,3.6 9.5,3.8 5.6,5.6 Z" fill="#3040c0"/>
<path d="M1.6,10.5 C5,6.5 12,5.4 22.5,6.4 L23.6,8 C15,7.2 8,8 2.2,12.6 Z" fill="#3040c0"/>
<path d="M1.8,14.4 C7,14.8 13,16 24.6,16.2 L24.5,18 C14,18 7,17.4 2.8,17 Z" fill="#3040c0"/>
<path d="M2.6,17.2 C7,18.6 13,19.6 23.5,19.6 C22.5,20.8 21,21.2 19,21.2 L8,20.8 C5,20.4 3.4,19 2.6,17.2 Z" fill="#141414"/>
<path d="M9.6,9.4 C11.5,8.4 16,8.2 24.6,8.6 L24.8,13.8 L12.6,14.2 C10.4,14 9.2,12.6 9.2,11.2 C9.2,10.4 9.3,9.8 9.6,9.4 Z" fill="#050508"/>
<circle cx="11.3" cy="11.2" r="1.3" fill="#d040a0" opacity="0.55"/>
<path d="M19.6,8.8 L21.2,8.8 L21.6,13.8 L20,13.9 Z" fill="#fff" opacity="0.22"/>
<path d="M13.5,15.6 L18,16 L18,19.4 L13.5,19.2 Z" fill="#4a1a3a"/>
</g></svg>
<div class="t" style="left:42.6px;top:610.55px;font-size:15.5px;line-height:20.15px;color:#0c0c0c;font-family:'Liberation Sans', 'DejaVu Sans', sans-serif;font-weight:bold;letter-spacing:0.35px;-webkit-text-stroke:0;">Hajime Harada</div>
<div class="t" style="left:319.3px;top:615.14px;font-size:10.9px;line-height:14.17px;color:#464643;font-family:'Liberation Sans', 'DejaVu Sans', sans-serif;font-weight:normal;letter-spacing:0.6px;-webkit-text-stroke:0.3px #464643;">HA6</div>
<div class="t" style="left:387.9px;top:615.24px;font-size:10.8px;line-height:14.04px;color:#464643;font-family:'Liberation Sans', 'DejaVu Sans', sans-serif;font-weight:normal;letter-spacing:1px;-webkit-text-stroke:0.3px #464643;">38</div>
<svg class="r" style="left:498px;top:615px" width="14" height="11" viewBox="0 0 14 11"><g><rect width="14" height="11" fill="#f4f4f4"/><circle cx="7" cy="5.5" r="3" fill="#c00020"/></g><rect width="14" height="11" fill="rgba(0,0,0,0.42)"/></svg>
<div class="t" style="left:516.3px;top:616.04px;font-size:10px;line-height:13.0px;color:#464643;font-family:'Liberation Sans', 'DejaVu Sans', sans-serif;font-weight:normal;letter-spacing:0.55px;-webkit-text-stroke:0.3px #464643;">Japan</div>
<div class="t" style="left:676.3px;top:616.43px;font-size:9.6px;line-height:12.48px;color:#464643;font-family:'Liberation Sans', 'DejaVu Sans', sans-serif;font-weight:bold;letter-spacing:0.2px;-webkit-text-stroke:0;">-</div>
<div class="r" style="left:789px;top:609px;width:1px;height:24px;background:rgba(90,88,78,0.35);"></div>
<div class="r" style="left:1205px;top:609px;width:1px;height:24px;background:rgba(90,88,78,0.35);"></div>
<div class="r" style="left:1207px;top:609px;width:71px;height:24px;background:#808080;"></div>
<div class="t" style="left:1210px;top:610.66px;font-size:17px;line-height:22.1px;color:#1a1a60;font-family:'Liberation Sans', 'DejaVu Sans', sans-serif;font-weight:bold;-webkit-text-stroke:0px #1a1a60;letter-spacing:0.5px;">90</div>
<div class="t" style="left:1287px;top:610.16px;font-size:16.3px;line-height:21.19px;color:#5a5a58;font-family:'Liberation Sans', 'DejaVu Sans', sans-serif;font-weight:normal;-webkit-text-stroke:0.25px #5a5a58;letter-spacing:1px;">75</div>
<div class="t" style="left:1362px;top:611.15px;font-size:15.2px;line-height:19.76px;color:#626208;font-family:'Liberation Sans', 'DejaVu Sans', sans-serif;font-weight:bold;-webkit-text-stroke:0px #626208;letter-spacing:1.4px;">38%</div>
<div class="r" style="left:1361px;top:630px;width:23px;height:2px;background:rgba(100,96,70,0.32);"></div>
<div class="r" style="left:1434px;top:618px;width:6px;height:6px;border-radius:50%;background:#2e6a2e"></div>
<div class="t" style="left:1444.0px;top:615.84px;font-size:10.2px;line-height:13.26px;color:#262624;font-family:'Liberation Sans', 'DejaVu Sans', sans-serif;font-weight:bold;letter-spacing:0px;-webkit-text-stroke:0;">Available</div>
<div class="r" style="left:2px;top:634px;width:1724px;height:26px;background:#8b8981;"></div>
<div class="r" style="left:8px;top:658px;width:28px;height:1px;background:rgba(60,58,50,0.35);"></div>
<div class="r" style="left:35px;top:636px;width:1px;height:23px;background:rgba(60,58,50,0.25);"></div>
<svg class="r" style="left:8.5px;top:635.8px;filter:brightness(0.66)" width="25.0" height="21.0" viewBox="0 0 26 22"><g opacity="1.0">
<path d="M1,12 C0.5,5 6,0.8 13,0.8 C19.5,0.8 24,4.5 24.6,10 L25,16 C25,19.5 22.5,21.2 19,21.2 L8,20.8 C4,20.3 1.5,17 1,12 Z" fill="#90c020" stroke="#0a0a0a" stroke-width="1.1"/>
<path d="M5,4.2 C9,2.4 15,2.2 20,3.6 L20.8,4.8 C15,3.6 9.5,3.8 5.6,5.6 Z" fill="#a0d030"/>
<path d="M1.6,10.5 C5,6.5 12,5.4 22.5,6.4 L23.6,8 C15,7.2 8,8 2.2,12.6 Z" fill="#a0d030"/>
<path d="M1.8,14.4 C7,14.8 13,16 24.6,16.2 L24.5,18 C14,18 7,17.4 2.8,17 Z" fill="#a0d030"/>
<path d="M2.6,17.2 C7,18.6 13,19.6 23.5,19.6 C22.5,20.8 21,21.2 19,21.2 L8,20.8 C5,20.4 3.4,19 2.6,17.2 Z" fill="#141414"/>
<path d="M9.6,9.4 C11.5,8.4 16,8.2 24.6,8.6 L24.8,13.8 L12.6,14.2 C10.4,14 9.2,12.6 9.2,11.2 C9.2,10.4 9.3,9.8 9.6,9.4 Z" fill="#050508"/>
<circle cx="11.3" cy="11.2" r="1.3" fill="#90c020" opacity="0.55"/>
<path d="M19.6,8.8 L21.2,8.8 L21.6,13.8 L20,13.9 Z" fill="#fff" opacity="0.22"/>
<path d="M13.5,15.6 L18,16 L18,19.4 L13.5,19.2 Z" fill="#2a3a0a"/>
</g></svg>
<div class="t" style="left:43.6px;top:636.55px;font-size:15.5px;line-height:20.15px;color:#0c0c0c;font-family:'Liberation Sans', 'DejaVu Sans', sans-serif;font-weight:bold;letter-spacing:0.35px;-webkit-text-stroke:0;">Jiro Tsuchiya</div>
<div class="t" style="left:320.3px;top:641.14px;font-size:10.9px;line-height:14.17px;color:#464643;font-family:'Liberation Sans', 'DejaVu Sans', sans-serif;font-weight:normal;letter-spacing:0.6px;-webkit-text-stroke:0.3px #464643;">TSU</div>
<div class="t" style="left:387.9px;top:641.24px;font-size:10.8px;line-height:14.04px;color:#464643;font-family:'Liberation Sans', 'DejaVu Sans', sans-serif;font-weight:normal;letter-spacing:1px;-webkit-text-stroke:0.3px #464643;">21</div>
<svg class="r" style="left:498px;top:641px" width="14" height="11" viewBox="0 0 14 11"><g><rect width="14" height="11" fill="#f4f4f4"/><circle cx="7" cy="5.5" r="3" fill="#c00020"/></g><rect width="14" height="11" fill="rgba(0,0,0,0.42)"/></svg>
<div class="t" style="left:516.3px;top:642.04px;font-size:10px;line-height:13.0px;color:#464643;font-family:'Liberation Sans', 'DejaVu Sans', sans-serif;font-weight:normal;letter-spacing:0.55px;-webkit-text-stroke:0.3px #464643;">Japan</div>
<div class="t" style="left:676.3px;top:642.43px;font-size:9.6px;line-height:12.48px;color:#464643;font-family:'Liberation Sans', 'DejaVu Sans', sans-serif;font-weight:bold;letter-spacing:0.2px;-webkit-text-stroke:0;">-</div>
<div class="r" style="left:789px;top:635px;width:1px;height:24px;background:rgba(90,88,78,0.35);"></div>
<div class="r" style="left:1205px;top:635px;width:1px;height:24px;background:rgba(90,88,78,0.35);"></div>
<div class="r" style="left:1207px;top:635px;width:71px;height:24px;background:#808080;"></div>
<div class="t" style="left:1210px;top:636.66px;font-size:17px;line-height:22.1px;color:#1a1a60;font-family:'Liberation Sans', 'DejaVu Sans', sans-serif;font-weight:bold;-webkit-text-stroke:0px #1a1a60;letter-spacing:0.5px;">90</div>
<div class="t" style="left:1287px;top:636.16px;font-size:16.3px;line-height:21.19px;color:#a47a18;font-family:'Liberation Sans', 'DejaVu Sans', sans-serif;font-weight:normal;-webkit-text-stroke:0.25px #a47a18;letter-spacing:1px;">80</div>
<div class="t" style="left:1362px;top:637.15px;font-size:15.2px;line-height:19.76px;color:#626208;font-family:'Liberation Sans', 'DejaVu Sans', sans-serif;font-weight:bold;-webkit-text-stroke:0px #626208;letter-spacing:1.4px;">38%</div>
<div class="r" style="left:1361px;top:656px;width:23px;height:2px;background:rgba(100,96,70,0.32);"></div>
<div class="r" style="left:1434px;top:644px;width:6px;height:6px;border-radius:50%;background:#2e6a2e"></div>
<div class="t" style="left:1444.0px;top:641.84px;font-size:10.2px;line-height:13.26px;color:#262624;font-family:'Liberation Sans', 'DejaVu Sans', sans-serif;font-weight:bold;letter-spacing:0px;-webkit-text-stroke:0;">Available</div>
<div class="r" style="left:2px;top:660px;width:1724px;height:26px;background:#838276;"></div>
<div class="r" style="left:8px;top:684px;width:28px;height:1px;background:rgba(60,58,50,0.35);"></div>
<div class="r" style="left:35px;top:662px;width:1px;height:23px;background:rgba(60,58,50,0.25);"></div>
<svg class="r" style="left:8.5px;top:661.8px;filter:brightness(0.66)" width="25.0" height="21.0" viewBox="0 0 26 22"><g opacity="1.0">
<path d="M1,12 C0.5,5 6,0.8 13,0.8 C19.5,0.8 24,4.5 24.6,10 L25,16 C25,19.5 22.5,21.2 19,21.2 L8,20.8 C4,20.3 1.5,17 1,12 Z" fill="#30a060" stroke="#0a0a0a" stroke-width="1.1"/>
<path d="M5,4.2 C9,2.4 15,2.2 20,3.6 L20.8,4.8 C15,3.6 9.5,3.8 5.6,5.6 Z" fill="#e03080"/>
<path d="M1.6,10.5 C5,6.5 12,5.4 22.5,6.4 L23.6,8 C15,7.2 8,8 2.2,12.6 Z" fill="#e03080"/>
<path d="M1.8,14.4 C7,14.8 13,16 24.6,16.2 L24.5,18 C14,18 7,17.4 2.8,17 Z" fill="#e03080"/>
<path d="M2.6,17.2 C7,18.6 13,19.6 23.5,19.6 C22.5,20.8 21,21.2 19,21.2 L8,20.8 C5,20.4 3.4,19 2.6,17.2 Z" fill="#141414"/>
<path d="M9.6,9.4 C11.5,8.4 16,8.2 24.6,8.6 L24.8,13.8 L12.6,14.2 C10.4,14 9.2,12.6 9.2,11.2 C9.2,10.4 9.3,9.8 9.6,9.4 Z" fill="#050508"/>
<circle cx="11.3" cy="11.2" r="1.3" fill="#30a060" opacity="0.55"/>
<path d="M19.6,8.8 L21.2,8.8 L21.6,13.8 L20,13.9 Z" fill="#fff" opacity="0.22"/>
<path d="M13.5,15.6 L18,16 L18,19.4 L13.5,19.2 Z" fill="#d08040"/>
</g></svg>
<div class="t" style="left:42.6px;top:662.55px;font-size:15.5px;line-height:20.15px;color:#0c0c0c;font-family:'Liberation Sans', 'DejaVu Sans', sans-serif;font-weight:bold;letter-spacing:0.35px;-webkit-text-stroke:0;">Fu Xiang</div>
<div class="t" style="left:319.3px;top:667.14px;font-size:10.9px;line-height:14.17px;color:#464643;font-family:'Liberation Sans', 'DejaVu Sans', sans-serif;font-weight:normal;letter-spacing:0.6px;-webkit-text-stroke:0.3px #464643;">XIA</div>
<div class="t" style="left:387.9px;top:667.24px;font-size:10.8px;line-height:14.04px;color:#464643;font-family:'Liberation Sans', 'DejaVu Sans', sans-serif;font-weight:normal;letter-spacing:1px;-webkit-text-stroke:0.3px #464643;">25</div>
<svg class="r" style="left:498px;top:667px" width="14" height="11" viewBox="0 0 14 11"><g><rect width="14" height="11" fill="#e01010"/><circle cx="3.5" cy="3" r="1.4" fill="#f0e000"/></g><rect width="14" height="11" fill="rgba(0,0,0,0.42)"/></svg>
<div class="t" style="left:515.3px;top:668.04px;font-size:10px;line-height:13.0px;color:#464643;font-family:'Liberation Sans', 'DejaVu Sans', sans-serif;font-weight:normal;letter-spacing:0.55px;-webkit-text-stroke:0.3px #464643;">China</div>
<div class="t" style="left:676.3px;top:668.43px;font-size:9.6px;line-height:12.48px;color:#464643;font-family:'Liberation Sans', 'DejaVu Sans', sans-serif;font-weight:bold;letter-spacing:0.2px;-webkit-text-stroke:0;">-</div>
<div class="r" style="left:789px;top:661px;width:1px;height:24px;background:rgba(90,88,78,0.35);"></div>
<div class="r" style="left:1205px;top:661px;width:1px;height:24px;background:rgba(90,88,78,0.35);"></div>
<div class="r" style="left:1207px;top:661px;width:71px;height:24px;background:#808080;"></div>
<div class="t" style="left:1210px;top:662.66px;font-size:17px;line-height:22.1px;color:#1a1a60;font-family:'Liberation Sans', 'DejaVu Sans', sans-serif;font-weight:bold;-webkit-text-stroke:0px #1a1a60;letter-spacing:0.5px;">90</div>
<div class="t" style="left:1287px;top:662.16px;font-size:16.3px;line-height:21.19px;color:#5a5a58;font-family:'Liberation Sans', 'DejaVu Sans', sans-serif;font-weight:normal;-webkit-text-stroke:0.25px #5a5a58;letter-spacing:1px;">75</div>
<div class="t" style="left:1362px;top:663.15px;font-size:15.2px;line-height:19.76px;color:#626208;font-family:'Liberation Sans', 'DejaVu Sans', sans-serif;font-weight:bold;-webkit-text-stroke:0px #626208;letter-spacing:1.4px;">38%</div>
<div class="r" style="left:1361px;top:682px;width:23px;height:2px;background:rgba(100,96,70,0.32);"></div>
<div class="r" style="left:1434px;top:670px;width:6px;height:6px;border-radius:50%;background:#2e6a2e"></div>
<div class="t" style="left:1444.0px;top:667.84px;font-size:10.2px;line-height:13.26px;color:#262624;font-family:'Liberation Sans', 'DejaVu Sans', sans-serif;font-weight:bold;letter-spacing:0px;-webkit-text-stroke:0;">Available</div>
<div class="r" style="left:2px;top:686px;width:1724px;height:26px;background:#11204c;"></div>
<svg class="r" style="left:8.5px;top:687.8px;filter:brightness(0.66)" width="25.0" height="21.0" viewBox="0 0 26 22"><g opacity="1.0">
<path d="M1,12 C0.5,5 6,0.8 13,0.8 C19.5,0.8 24,4.5 24.6,10 L25,16 C25,19.5 22.5,21.2 19,21.2 L8,20.8 C4,20.3 1.5,17 1,12 Z" fill="#8a7a78" stroke="#0a0a0a" stroke-width="1.1"/>
<path d="M5,4.2 C9,2.4 15,2.2 20,3.6 L20.8,4.8 C15,3.6 9.5,3.8 5.6,5.6 Z" fill="#5de8a8"/>
<path d="M1.6,10.5 C5,6.5 12,5.4 22.5,6.4 L23.6,8 C15,7.2 8,8 2.2,12.6 Z" fill="#5de8a8"/>
<path d="M1.8,14.4 C7,14.8 13,16 24.6,16.2 L24.5,18 C14,18 7,17.4 2.8,17 Z" fill="#5de8a8"/>
<path d="M2.6,17.2 C7,18.6 13,19.6 23.5,19.6 C22.5,20.8 21,21.2 19,21.2 L8,20.8 C5,20.4 3.4,19 2.6,17.2 Z" fill="#141414"/>
<path d="M9.6,9.4 C11.5,8.4 16,8.2 24.6,8.6 L24.8,13.8 L12.6,14.2 C10.4,14 9.2,12.6 9.2,11.2 C9.2,10.4 9.3,9.8 9.6,9.4 Z" fill="#050508"/>
<circle cx="11.3" cy="11.2" r="1.3" fill="#8a7a78" opacity="0.55"/>
<path d="M19.6,8.8 L21.2,8.8 L21.6,13.8 L20,13.9 Z" fill="#fff" opacity="0.22"/>
<path d="M13.5,15.6 L18,16 L18,19.4 L13.5,19.2 Z" fill="#a030e0"/>
</g></svg>
<div class="t" style="left:43.6px;top:688.55px;font-size:15.5px;line-height:20.15px;color:#c9ccd4;font-family:'Liberation Sans', 'DejaVu Sans', sans-serif;font-weight:bold;letter-spacing:0.35px;-webkit-text-stroke:0;">Taichi Ueno</div>
<div class="t" style="left:319.3px;top:693.14px;font-size:10.9px;line-height:14.17px;color:#b8bcc8;font-family:'Liberation Sans', 'DejaVu Sans', sans-serif;font-weight:normal;letter-spacing:0.6px;-webkit-text-stroke:0.3px #b8bcc8;">UEN</div>
<div class="t" style="left:387.9px;top:693.24px;font-size:10.8px;line-height:14.04px;color:#b8bcc8;font-family:'Liberation Sans', 'DejaVu Sans', sans-serif;font-weight:normal;letter-spacing:1px;-webkit-text-stroke:0.3px #b8bcc8;">22</div>
<svg class="r" style="left:498px;top:693px" width="14" height="11" viewBox="0 0 14 11"><g><rect width="14" height="11" fill="#f4f4f4"/><circle cx="7" cy="5.5" r="3" fill="#c00020"/></g><rect width="14" height="11" fill="rgba(0,0,0,0.42)"/></svg>
<div class="t" style="left:516.3px;top:694.04px;font-size:10px;line-height:13.0px;color:#b8bcc8;font-family:'Liberation Sans', 'DejaVu Sans', sans-serif;font-weight:normal;letter-spacing:0.55px;-webkit-text-stroke:0.3px #b8bcc8;">Japan</div>
<div class="t" style="left:676.3px;top:694.43px;font-size:9.6px;line-height:12.48px;color:#b8bcc8;font-family:'Liberation Sans', 'DejaVu Sans', sans-serif;font-weight:bold;letter-spacing:0.2px;-webkit-text-stroke:0;">-</div>
<div class="r" style="left:789px;top:687px;width:1px;height:24px;background:rgba(90,88,78,0.35);"></div>
<div class="r" style="left:1205px;top:687px;width:1px;height:24px;background:rgba(90,88,78,0.35);"></div>
<div class="t" style="left:1210px;top:688.66px;font-size:17px;line-height:22.1px;color:#c9ccd4;font-family:'Liberation Sans', 'DejaVu Sans', sans-serif;font-weight:normal;-webkit-text-stroke:0.25px #c9ccd4;letter-spacing:0.5px;">90</div>
<div class="t" style="left:1287px;top:688.16px;font-size:16.3px;line-height:21.19px;color:#c9ccd4;font-family:'Liberation Sans', 'DejaVu Sans', sans-serif;font-weight:normal;-webkit-text-stroke:0.25px #c9ccd4;letter-spacing:1px;">75</div>
<div class="t" style="left:1362px;top:689.15px;font-size:15.2px;line-height:19.76px;color:#c9ccd4;font-family:'Liberation Sans', 'DejaVu Sans', sans-serif;font-weight:normal;-webkit-text-stroke:0.25px #c9ccd4;letter-spacing:1.6px;">38%</div>
<div class="r" style="left:1361px;top:708px;width:23px;height:2px;background:#8a97b4;"></div>
<div class="r" style="left:1434px;top:696px;width:6px;height:6px;border-radius:50%;background:#d0d0d0"></div>
<div class="t" style="left:1444.0px;top:693.84px;font-size:10.2px;line-height:13.26px;color:#c9ccd4;font-family:'Liberation Sans', 'DejaVu Sans', sans-serif;font-weight:bold;letter-spacing:0px;-webkit-text-stroke:0;">Available</div>
<div class="r" style="left:2px;top:712px;width:1724px;height:26px;background:#838276;"></div>
<div class="r" style="left:8px;top:736px;width:28px;height:1px;background:rgba(60,58,50,0.35);"></div>
<div class="r" style="left:35px;top:714px;width:1px;height:23px;background:rgba(60,58,50,0.25);"></div>
<svg class="r" style="left:8.5px;top:713.8px;filter:brightness(0.5) saturate(0.7)" width="25.0" height="21.0" viewBox="0 0 26 22"><g opacity="0.6">
<path d="M1,12 C0.5,5 6,0.8 13,0.8 C19.5,0.8 24,4.5 24.6,10 L25,16 C25,19.5 22.5,21.2 19,21.2 L8,20.8 C4,20.3 1.5,17 1,12 Z" fill="#5a6a5a" stroke="#0a0a0a" stroke-width="1.1"/>
<path d="M5,4.2 C9,2.4 15,2.2 20,3.6 L20.8,4.8 C15,3.6 9.5,3.8 5.6,5.6 Z" fill="#6a8a6a"/>
<path d="M1.6,10.5 C5,6.5 12,5.4 22.5,6.4 L23.6,8 C15,7.2 8,8 2.2,12.6 Z" fill="#6a8a6a"/>
<path d="M1.8,14.4 C7,14.8 13,16 24.6,16.2 L24.5,18 C14,18 7,17.4 2.8,17 Z" fill="#6a8a6a"/>
<path d="M2.6,17.2 C7,18.6 13,19.6 23.5,19.6 C22.5,20.8 21,21.2 19,21.2 L8,20.8 C5,20.4 3.4,19 2.6,17.2 Z" fill="#141414"/>
<path d="M9.6,9.4 C11.5,8.4 16,8.2 24.6,8.6 L24.8,13.8 L12.6,14.2 C10.4,14 9.2,12.6 9.2,11.2 C9.2,10.4 9.3,9.8 9.6,9.4 Z" fill="#050508"/>
<circle cx="11.3" cy="11.2" r="1.3" fill="#5a6a5a" opacity="0.55"/>
<path d="M19.6,8.8 L21.2,8.8 L21.6,13.8 L20,13.9 Z" fill="#fff" opacity="0.22"/>
<path d="M13.5,15.6 L18,16 L18,19.4 L13.5,19.2 Z" fill="#3a3a3a"/>
</g></svg>
<div class="t" style="left:42.6px;top:714.55px;font-size:15.5px;line-height:20.15px;color:#5f5e5a;font-family:'Liberation Sans', 'DejaVu Sans', sans-serif;font-weight:bold;letter-spacing:0.35px;-webkit-text-stroke:0;">Kazuki Umeda</div>
<div class="t" style="left:319.3px;top:719.14px;font-size:10.9px;line-height:14.17px;color:#5f5e5a;font-family:'Liberation Sans', 'DejaVu Sans', sans-serif;font-weight:normal;letter-spacing:0.6px;-webkit-text-stroke:0.3px #5f5e5a;">UME</div>
<div class="t" style="left:387.9px;top:719.24px;font-size:10.8px;line-height:14.04px;color:#5f5e5a;font-family:'Liberation Sans', 'DejaVu Sans', sans-serif;font-weight:normal;letter-spacing:1px;-webkit-text-stroke:0.3px #5f5e5a;">39</div>
<svg class="r" style="left:498px;top:719px" width="14" height="11" viewBox="0 0 14 11"><g opacity="0.45"><rect width="14" height="11" fill="#f4f4f4"/><circle cx="7" cy="5.5" r="3" fill="#c00020"/></g><rect width="14" height="11" fill="rgba(0,0,0,0.42)"/></svg>
<div class="t" style="left:516.3px;top:720.04px;font-size:10px;line-height:13.0px;color:#5f5e5a;font-family:'Liberation Sans', 'DejaVu Sans', sans-serif;font-weight:normal;letter-spacing:0.55px;-webkit-text-stroke:0.3px #5f5e5a;">Japan</div>
<div class="t" style="left:676.3px;top:720.43px;font-size:9.6px;line-height:12.48px;color:#5f5e5a;font-family:'Liberation Sans', 'DejaVu Sans', sans-serif;font-weight:bold;letter-spacing:0.2px;-webkit-text-stroke:0;">-</div>
<div class="r" style="left:789px;top:713px;width:1px;height:24px;background:rgba(90,88,78,0.35);"></div>
<div class="r" style="left:1205px;top:713px;width:1px;height:24px;background:rgba(90,88,78,0.35);"></div>
<div class="t" style="left:1210px;top:714.66px;font-size:17px;line-height:22.1px;color:#62615d;font-family:'Liberation Sans', 'DejaVu Sans', sans-serif;font-weight:bold;-webkit-text-stroke:0px #62615d;letter-spacing:0.5px;">90</div>
<div class="t" style="left:1287px;top:714.16px;font-size:16.3px;line-height:21.19px;color:#5c5b57;font-family:'Liberation Sans', 'DejaVu Sans', sans-serif;font-weight:normal;-webkit-text-stroke:0.25px #5c5b57;letter-spacing:1px;">81</div>
<div class="t" style="left:1362px;top:715.15px;font-size:15.2px;line-height:19.76px;color:#5e5d59;font-family:'Liberation Sans', 'DejaVu Sans', sans-serif;font-weight:bold;-webkit-text-stroke:0px #5e5d59;letter-spacing:1.4px;">38%</div>
<div class="r" style="left:1434px;top:722px;width:6px;height:6px;border-radius:50%;background:#6a6a66"></div>
<div class="t" style="left:1444.0px;top:721.83px;font-size:8.9px;line-height:11.57px;color:#63625e;font-family:'Liberation Sans', 'DejaVu Sans', sans-serif;font-weight:bold;letter-spacing:0.1px;-webkit-text-stroke:0;">TEAM DRAGONFYRE (Secondary)</div>
<div class="r" style="left:2px;top:738px;width:1724px;height:26px;background:#8b8981;"></div>
<div class="r" style="left:8px;top:762px;width:28px;height:1px;background:rgba(60,58,50,0.35);"></div>
<div class="r" style="left:35px;top:740px;width:1px;height:23px;background:rgba(60,58,50,0.25);"></div>
<svg class="r" style="left:8.5px;top:739.8px;filter:brightness(0.66)" width="25.0" height="21.0" viewBox="0 0 26 22"><g opacity="1.0">
<path d="M1,12 C0.5,5 6,0.8 13,0.8 C19.5,0.8 24,4.5 24.6,10 L25,16 C25,19.5 22.5,21.2 19,21.2 L8,20.8 C4,20.3 1.5,17 1,12 Z" fill="#20c040" stroke="#0a0a0a" stroke-width="1.1"/>
<path d="M5,4.2 C9,2.4 15,2.2 20,3.6 L20.8,4.8 C15,3.6 9.5,3.8 5.6,5.6 Z" fill="#101010"/>
<path d="M1.6,10.5 C5,6.5 12,5.4 22.5,6.4 L23.6,8 C15,7.2 8,8 2.2,12.6 Z" fill="#101010"/>
<path d="M1.8,14.4 C7,14.8 13,16 24.6,16.2 L24.5,18 C14,18 7,17.4 2.8,17 Z" fill="#101010"/>
<path d="M2.6,17.2 C7,18.6 13,19.6 23.5,19.6 C22.5,20.8 21,21.2 19,21.2 L8,20.8 C5,20.4 3.4,19 2.6,17.2 Z" fill="#141414"/>
<path d="M9.6,9.4 C11.5,8.4 16,8.2 24.6,8.6 L24.8,13.8 L12.6,14.2 C10.4,14 9.2,12.6 9.2,11.2 C9.2,10.4 9.3,9.8 9.6,9.4 Z" fill="#050508"/>
<circle cx="11.3" cy="11.2" r="1.3" fill="#20c040" opacity="0.55"/>
<path d="M19.6,8.8 L21.2,8.8 L21.6,13.8 L20,13.9 Z" fill="#fff" opacity="0.22"/>
<path d="M13.5,15.6 L18,16 L18,19.4 L13.5,19.2 Z" fill="#4020a0"/>
</g></svg>
<div class="t" style="left:42.6px;top:740.55px;font-size:15.5px;line-height:20.15px;color:#0c0c0c;font-family:'Liberation Sans', 'DejaVu Sans', sans-serif;font-weight:bold;letter-spacing:0.35px;-webkit-text-stroke:0;">Yakubu Bwana</div>
<div class="t" style="left:319.3px;top:745.14px;font-size:10.9px;line-height:14.17px;color:#464643;font-family:'Liberation Sans', 'DejaVu Sans', sans-serif;font-weight:normal;letter-spacing:0.6px;-webkit-text-stroke:0.3px #464643;">BW3</div>
<div class="t" style="left:387.9px;top:745.24px;font-size:10.8px;line-height:14.04px;color:#464643;font-family:'Liberation Sans', 'DejaVu Sans', sans-serif;font-weight:normal;letter-spacing:1px;-webkit-text-stroke:0.3px #464643;">22</div>
<svg class="r" style="left:498px;top:745px" width="14" height="11" viewBox="0 0 14 11"><g><rect width="14" height="11" fill="#f0f0f0"/><rect y="0" width="14" height="1.6" fill="#c02030"/><rect y="3.2" width="14" height="1.6" fill="#c02030"/><rect y="6.3" width="14" height="1.6" fill="#c02030"/><rect y="9.4" width="14" height="1.6" fill="#c02030"/><rect width="6.5" height="5.5" fill="#2a3a7a"/></g><rect width="14" height="11" fill="rgba(0,0,0,0.42)"/></svg>
<div class="t" style="left:515.3px;top:746.04px;font-size:10px;line-height:13.0px;color:#464643;font-family:'Liberation Sans', 'DejaVu Sans', sans-serif;font-weight:normal;letter-spacing:0.55px;-webkit-text-stroke:0.3px #464643;">United States</div>
<div class="t" style="left:676.3px;top:746.43px;font-size:9.6px;line-height:12.48px;color:#464643;font-family:'Liberation Sans', 'DejaVu Sans', sans-serif;font-weight:bold;letter-spacing:0.2px;-webkit-text-stroke:0;">-</div>
<div class="r" style="left:789px;top:739px;width:1px;height:24px;background:rgba(90,88,78,0.35);"></div>
<div class="r" style="left:1205px;top:739px;width:1px;height:24px;background:rgba(90,88,78,0.35);"></div>
<div class="r" style="left:1207px;top:739px;width:71px;height:24px;background:#808080;"></div>
<div class="t" style="left:1210px;top:740.66px;font-size:17px;line-height:22.1px;color:#1a1a60;font-family:'Liberation Sans', 'DejaVu Sans', sans-serif;font-weight:bold;-webkit-text-stroke:0px #1a1a60;letter-spacing:0.5px;">90</div>
<div class="t" style="left:1287px;top:740.16px;font-size:16.3px;line-height:21.19px;color:#5a5a58;font-family:'Liberation Sans', 'DejaVu Sans', sans-serif;font-weight:normal;-webkit-text-stroke:0.25px #5a5a58;letter-spacing:1px;">75</div>
<div class="t" style="left:1362px;top:741.15px;font-size:15.2px;line-height:19.76px;color:#626208;font-family:'Liberation Sans', 'DejaVu Sans', sans-serif;font-weight:bold;-webkit-text-stroke:0px #626208;letter-spacing:1.4px;">38%</div>
<div class="r" style="left:1361px;top:760px;width:23px;height:2px;background:rgba(100,96,70,0.32);"></div>
<div class="r" style="left:1434px;top:748px;width:6px;height:6px;border-radius:50%;background:#2e6a2e"></div>
<div class="t" style="left:1444.0px;top:745.84px;font-size:10.2px;line-height:13.26px;color:#262624;font-family:'Liberation Sans', 'DejaVu Sans', sans-serif;font-weight:bold;letter-spacing:0px;-webkit-text-stroke:0;">Available</div>
<div class="r" style="left:2px;top:764px;width:1724px;height:26px;background:#838276;"></div>
<div class="r" style="left:8px;top:788px;width:28px;height:1px;background:rgba(60,58,50,0.35);"></div>
<div class="r" style="left:35px;top:766px;width:1px;height:23px;background:rgba(60,58,50,0.25);"></div>
<svg class="r" style="left:8.5px;top:765.8px;filter:brightness(0.5) saturate(0.7)" width="25.0" height="21.0" viewBox="0 0 26 22"><g opacity="0.6">
<path d="M1,12 C0.5,5 6,0.8 13,0.8 C19.5,0.8 24,4.5 24.6,10 L25,16 C25,19.5 22.5,21.2 19,21.2 L8,20.8 C4,20.3 1.5,17 1,12 Z" fill="#7a7450" stroke="#0a0a0a" stroke-width="1.1"/>
<path d="M5,4.2 C9,2.4 15,2.2 20,3.6 L20.8,4.8 C15,3.6 9.5,3.8 5.6,5.6 Z" fill="#8a8460"/>
<path d="M1.6,10.5 C5,6.5 12,5.4 22.5,6.4 L23.6,8 C15,7.2 8,8 2.2,12.6 Z" fill="#8a8460"/>
<path d="M1.8,14.4 C7,14.8 13,16 24.6,16.2 L24.5,18 C14,18 7,17.4 2.8,17 Z" fill="#8a8460"/>
<path d="M2.6,17.2 C7,18.6 13,19.6 23.5,19.6 C22.5,20.8 21,21.2 19,21.2 L8,20.8 C5,20.4 3.4,19 2.6,17.2 Z" fill="#141414"/>
<path d="M9.6,9.4 C11.5,8.4 16,8.2 24.6,8.6 L24.8,13.8 L12.6,14.2 C10.4,14 9.2,12.6 9.2,11.2 C9.2,10.4 9.3,9.8 9.6,9.4 Z" fill="#050508"/>
<circle cx="11.3" cy="11.2" r="1.3" fill="#7a7450" opacity="0.55"/>
<path d="M19.6,8.8 L21.2,8.8 L21.6,13.8 L20,13.9 Z" fill="#fff" opacity="0.22"/>
<path d="M13.5,15.6 L18,16 L18,19.4 L13.5,19.2 Z" fill="#4a4a3a"/>
</g></svg>
<div class="t" style="left:42.6px;top:766.55px;font-size:15.5px;line-height:20.15px;color:#5f5e5a;font-family:'Liberation Sans', 'DejaVu Sans', sans-serif;font-weight:bold;letter-spacing:0.35px;-webkit-text-stroke:0;">Gerard Reynders</div>
<div class="t" style="left:319.3px;top:771.14px;font-size:10.9px;line-height:14.17px;color:#5f5e5a;font-family:'Liberation Sans', 'DejaVu Sans', sans-serif;font-weight:normal;letter-spacing:0.6px;-webkit-text-stroke:0.3px #5f5e5a;">REY</div>
<div class="t" style="left:387.9px;top:771.24px;font-size:10.8px;line-height:14.04px;color:#5f5e5a;font-family:'Liberation Sans', 'DejaVu Sans', sans-serif;font-weight:normal;letter-spacing:1px;-webkit-text-stroke:0.3px #5f5e5a;">24</div>
<svg class="r" style="left:498px;top:771px" width="14" height="11" viewBox="0 0 14 11"><g opacity="0.45"><rect width="4.7" height="11" fill="#0a0a0a"/><rect x="4.7" width="4.6" height="11" fill="#f0c000"/><rect x="9.3" width="4.7" height="11" fill="#e01020"/></g><rect width="14" height="11" fill="rgba(0,0,0,0.42)"/></svg>
<div class="t" style="left:515.3px;top:772.04px;font-size:10px;line-height:13.0px;color:#5f5e5a;font-family:'Liberation Sans', 'DejaVu Sans', sans-serif;font-weight:normal;letter-spacing:0.55px;-webkit-text-stroke:0.3px #5f5e5a;">Belgium</div>
<div class="t" style="left:676.3px;top:772.43px;font-size:9.6px;line-height:12.48px;color:#5f5e5a;font-family:'Liberation Sans', 'DejaVu Sans', sans-serif;font-weight:bold;letter-spacing:0.2px;-webkit-text-stroke:0;">-</div>
<div class="r" style="left:789px;top:765px;width:1px;height:24px;background:rgba(90,88,78,0.35);"></div>
<div class="t" style="left:793.8px;top:766.45px;font-size:15px;line-height:19.5px;color:#62615d;font-family:'Liberation Sans', 'DejaVu Sans', sans-serif;font-weight:bold;-webkit-text-stroke:0px #62615d;letter-spacing:0.3px;">17</div>
<div class="t" style="left:859.8px;top:766.45px;font-size:15px;line-height:19.5px;color:#62615d;font-family:'Liberation Sans', 'DejaVu Sans', sans-serif;font-weight:bold;-webkit-text-stroke:0px #62615d;letter-spacing:0.3px;">17</div>
<div class="t" style="left:924.8px;top:766.45px;font-size:15px;line-height:19.5px;color:#62615d;font-family:'Liberation Sans', 'DejaVu Sans', sans-serif;font-weight:bold;-webkit-text-stroke:0px #62615d;letter-spacing:0.3px;">15</div>
<div class="t" style="left:990.8px;top:766.45px;font-size:15px;line-height:19.5px;color:#62615d;font-family:'Liberation Sans', 'DejaVu Sans', sans-serif;font-weight:bold;-webkit-text-stroke:0px #62615d;letter-spacing:0.3px;">15</div>
<div class="t" style="left:1056.8px;top:766.45px;font-size:15px;line-height:19.5px;color:#62615d;font-family:'Liberation Sans', 'DejaVu Sans', sans-serif;font-weight:bold;-webkit-text-stroke:0px #62615d;letter-spacing:0.3px;">15</div>
<div class="t" style="left:1121.8px;top:766.45px;font-size:15px;line-height:19.5px;color:#62615d;font-family:'Liberation Sans', 'DejaVu Sans', sans-serif;font-weight:bold;-webkit-text-stroke:0px #62615d;letter-spacing:0.3px;">15</div>
<div class="r" style="left:1205px;top:765px;width:1px;height:24px;background:rgba(90,88,78,0.35);"></div>
<div class="t" style="left:1210px;top:766.66px;font-size:17px;line-height:22.1px;color:#62615d;font-family:'Liberation Sans', 'DejaVu Sans', sans-serif;font-weight:bold;-webkit-text-stroke:0px #62615d;letter-spacing:0.5px;">90</div>
<div class="t" style="left:1287px;top:766.16px;font-size:16.3px;line-height:21.19px;color:#5c5b57;font-family:'Liberation Sans', 'DejaVu Sans', sans-serif;font-weight:normal;-webkit-text-stroke:0.25px #5c5b57;letter-spacing:1px;">75</div>
<div class="t" style="left:1362px;top:767.15px;font-size:15.2px;line-height:19.76px;color:#5e5d59;font-family:'Liberation Sans', 'DejaVu Sans', sans-serif;font-weight:bold;-webkit-text-stroke:0px #5e5d59;letter-spacing:1.4px;">38%</div>
<div class="r" style="left:1434px;top:774px;width:6px;height:6px;border-radius:50%;background:#6a6a66"></div>
<div class="t" style="left:1443.0px;top:773.83px;font-size:8.9px;line-height:11.57px;color:#63625e;font-family:'Liberation Sans', 'DejaVu Sans', sans-serif;font-weight:bold;letter-spacing:0.1px;-webkit-text-stroke:0;">IRONSIDE RACING (Primary)</div>
<div class="r" style="left:2px;top:790px;width:1724px;height:26px;background:#8b8981;"></div>
<div class="r" style="left:8px;top:814px;width:28px;height:1px;background:rgba(60,58,50,0.35);"></div>
<div class="r" style="left:35px;top:792px;width:1px;height:23px;background:rgba(60,58,50,0.25);"></div>
<svg class="r" style="left:8.5px;top:791.8px;filter:brightness(0.66)" width="25.0" height="21.0" viewBox="0 0 26 22"><g opacity="1.0">
<path d="M1,12 C0.5,5 6,0.8 13,0.8 C19.5,0.8 24,4.5 24.6,10 L25,16 C25,19.5 22.5,21.2 19,21.2 L8,20.8 C4,20.3 1.5,17 1,12 Z" fill="#1a1a1a" stroke="#0a0a0a" stroke-width="1.1"/>
<path d="M5,4.2 C9,2.4 15,2.2 20,3.6 L20.8,4.8 C15,3.6 9.5,3.8 5.6,5.6 Z" fill="#7020d0"/>
<path d="M1.6,10.5 C5,6.5 12,5.4 22.5,6.4 L23.6,8 C15,7.2 8,8 2.2,12.6 Z" fill="#7020d0"/>
<path d="M1.8,14.4 C7,14.8 13,16 24.6,16.2 L24.5,18 C14,18 7,17.4 2.8,17 Z" fill="#7020d0"/>
<path d="M2.6,17.2 C7,18.6 13,19.6 23.5,19.6 C22.5,20.8 21,21.2 19,21.2 L8,20.8 C5,20.4 3.4,19 2.6,17.2 Z" fill="#141414"/>
<path d="M9.6,9.4 C11.5,8.4 16,8.2 24.6,8.6 L24.8,13.8 L12.6,14.2 C10.4,14 9.2,12.6 9.2,11.2 C9.2,10.4 9.3,9.8 9.6,9.4 Z" fill="#050508"/>
<circle cx="11.3" cy="11.2" r="1.3" fill="#1a1a1a" opacity="0.55"/>
<path d="M19.6,8.8 L21.2,8.8 L21.6,13.8 L20,13.9 Z" fill="#fff" opacity="0.22"/>
<path d="M13.5,15.6 L18,16 L18,19.4 L13.5,19.2 Z" fill="#4a1a4a"/>
</g></svg>
<div class="t" style="left:42.6px;top:792.55px;font-size:15.5px;line-height:20.15px;color:#0c0c0c;font-family:'Liberation Sans', 'DejaVu Sans', sans-serif;font-weight:bold;letter-spacing:0.35px;-webkit-text-stroke:0;">Hideaki Wada</div>
<div class="t" style="left:320.3px;top:797.14px;font-size:10.9px;line-height:14.17px;color:#464643;font-family:'Liberation Sans', 'DejaVu Sans', sans-serif;font-weight:normal;letter-spacing:0.6px;-webkit-text-stroke:0.3px #464643;">WA6</div>
<div class="t" style="left:387.9px;top:797.24px;font-size:10.8px;line-height:14.04px;color:#464643;font-family:'Liberation Sans', 'DejaVu Sans', sans-serif;font-weight:normal;letter-spacing:1px;-webkit-text-stroke:0.3px #464643;">25</div>
<svg class="r" style="left:498px;top:797px" width="14" height="11" viewBox="0 0 14 11"><g><rect width="14" height="11" fill="#f4f4f4"/><circle cx="7" cy="5.5" r="3" fill="#c00020"/></g><rect width="14" height="11" fill="rgba(0,0,0,0.42)"/></svg>
<div class="t" style="left:516.3px;top:798.04px;font-size:10px;line-height:13.0px;color:#464643;font-family:'Liberation Sans', 'DejaVu Sans', sans-serif;font-weight:normal;letter-spacing:0.55px;-webkit-text-stroke:0.3px #464643;">Japan</div>
<div class="r" style="left:672px;top:794px;width:27px;height:18px;background:#8c7a77;"></div>
<div class="t" style="left:675.3px;top:797.74px;font-size:10.3px;line-height:13.39px;color:#7a1020;font-family:'Liberation Sans', 'DejaVu Sans', sans-serif;font-weight:bold;letter-spacing:0px;-webkit-text-stroke:0;">FJP</div>
<div class="r" style="left:789px;top:791px;width:1px;height:24px;background:rgba(90,88,78,0.35);"></div>
<div class="r" style="left:793px;top:791px;width:57px;height:24px;background:#7a836e;"></div>
<div class="r" style="left:794px;top:812px;width:39px;height:2px;background:#6c7c64;"></div>
<div class="t" style="left:793.8px;top:792.45px;font-size:15px;line-height:19.5px;color:#175e17;font-family:'Liberation Sans', 'DejaVu Sans', sans-serif;font-weight:bold;-webkit-text-stroke:0px #175e17;letter-spacing:0.3px;">15</div>
<div class="r" style="left:859px;top:791px;width:57px;height:24px;background:#7a836e;"></div>
<div class="r" style="left:860px;top:812px;width:36px;height:2px;background:#6c7c64;"></div>
<div class="t" style="left:859.8px;top:792.45px;font-size:15px;line-height:19.5px;color:#175e17;font-family:'Liberation Sans', 'DejaVu Sans', sans-serif;font-weight:bold;-webkit-text-stroke:0px #175e17;letter-spacing:0.3px;">14</div>
<div class="r" style="left:924px;top:791px;width:57px;height:24px;background:#7a836e;"></div>
<div class="r" style="left:925px;top:812px;width:34px;height:2px;background:#6c7c64;"></div>
<div class="t" style="left:924.8px;top:792.45px;font-size:15px;line-height:19.5px;color:#175e17;font-family:'Liberation Sans', 'DejaVu Sans', sans-serif;font-weight:bold;-webkit-text-stroke:0px #175e17;letter-spacing:0.3px;">13</div>
<div class="r" style="left:990px;top:791px;width:57px;height:24px;background:#728467;"></div>
<div class="r" style="left:991px;top:812px;width:44px;height:2px;background:#62795a;"></div>
<div class="t" style="left:990.8px;top:792.45px;font-size:15px;line-height:19.5px;color:#065206;font-family:'Liberation Sans', 'DejaVu Sans', sans-serif;font-weight:bold;-webkit-text-stroke:0px #065206;letter-spacing:0.3px;">17</div>
<div class="r" style="left:1056px;top:791px;width:57px;height:24px;background:#7a836e;"></div>
<div class="r" style="left:1057px;top:812px;width:42px;height:2px;background:#6c7c64;"></div>
<div class="t" style="left:1056.8px;top:792.45px;font-size:15px;line-height:19.5px;color:#175e17;font-family:'Liberation Sans', 'DejaVu Sans', sans-serif;font-weight:bold;-webkit-text-stroke:0px #175e17;letter-spacing:0.3px;">16</div>
<div class="r" style="left:1121px;top:791px;width:57px;height:24px;background:#7a836e;"></div>
<div class="r" style="left:1122px;top:812px;width:39px;height:2px;background:#6c7c64;"></div>
<div class="t" style="left:1121.8px;top:792.45px;font-size:15px;line-height:19.5px;color:#175e17;font-family:'Liberation Sans', 'DejaVu Sans', sans-serif;font-weight:bold;-webkit-text-stroke:0px #175e17;letter-spacing:0.3px;">15</div>
<div class="r" style="left:1205px;top:791px;width:1px;height:24px;background:rgba(90,88,78,0.35);"></div>
<div class="r" style="left:1207px;top:791px;width:71px;height:24px;background:#808080;"></div>
<div class="t" style="left:1210px;top:792.66px;font-size:17px;line-height:22.1px;color:#1a1a60;font-family:'Liberation Sans', 'DejaVu Sans', sans-serif;font-weight:bold;-webkit-text-stroke:0px #1a1a60;letter-spacing:0.5px;">90</div>
<div class="t" style="left:1287px;top:792.16px;font-size:16.3px;line-height:21.19px;color:#a47a18;font-family:'Liberation Sans', 'DejaVu Sans', sans-serif;font-weight:normal;-webkit-text-stroke:0.25px #a47a18;letter-spacing:1px;">80</div>
<div class="t" style="left:1362px;top:793.15px;font-size:15.2px;line-height:19.76px;color:#626208;font-family:'Liberation Sans', 'DejaVu Sans', sans-serif;font-weight:bold;-webkit-text-stroke:0px #626208;letter-spacing:1.4px;">38%</div>
<div class="r" style="left:1361px;top:812px;width:23px;height:2px;background:rgba(100,96,70,0.32);"></div>
<div class="r" style="left:1434px;top:800px;width:6px;height:6px;border-radius:50%;background:#2e6a2e"></div>
<div class="t" style="left:1444.0px;top:797.84px;font-size:10.2px;line-height:13.26px;color:#262624;font-family:'Liberation Sans', 'DejaVu Sans', sans-serif;font-weight:bold;letter-spacing:0px;-webkit-text-stroke:0;">Available</div>
<div class="r" style="left:2px;top:816px;width:1724px;height:26px;background:#838276;"></div>
<div class="r" style="left:8px;top:840px;width:28px;height:1px;background:rgba(60,58,50,0.35);"></div>
<div class="r" style="left:35px;top:818px;width:1px;height:23px;background:rgba(60,58,50,0.25);"></div>
<svg class="r" style="left:8.5px;top:817.8px;filter:brightness(0.66)" width="25.0" height="21.0" viewBox="0 0 26 22"><g opacity="1.0">
<path d="M1,12 C0.5,5 6,0.8 13,0.8 C19.5,0.8 24,4.5 24.6,10 L25,16 C25,19.5 22.5,21.2 19,21.2 L8,20.8 C4,20.3 1.5,17 1,12 Z" fill="#a0d040" stroke="#0a0a0a" stroke-width="1.1"/>
<path d="M5,4.2 C9,2.4 15,2.2 20,3.6 L20.8,4.8 C15,3.6 9.5,3.8 5.6,5.6 Z" fill="#d02030"/>
<path d="M1.6,10.5 C5,6.5 12,5.4 22.5,6.4 L23.6,8 C15,7.2 8,8 2.2,12.6 Z" fill="#d02030"/>
<path d="M1.8,14.4 C7,14.8 13,16 24.6,16.2 L24.5,18 C14,18 7,17.4 2.8,17 Z" fill="#d02030"/>
<path d="M2.6,17.2 C7,18.6 13,19.6 23.5,19.6 C22.5,20.8 21,21.2 19,21.2 L8,20.8 C5,20.4 3.4,19 2.6,17.2 Z" fill="#141414"/>
<path d="M9.6,9.4 C11.5,8.4 16,8.2 24.6,8.6 L24.8,13.8 L12.6,14.2 C10.4,14 9.2,12.6 9.2,11.2 C9.2,10.4 9.3,9.8 9.6,9.4 Z" fill="#050508"/>
<circle cx="11.3" cy="11.2" r="1.3" fill="#a0d040" opacity="0.55"/>
<path d="M19.6,8.8 L21.2,8.8 L21.6,13.8 L20,13.9 Z" fill="#fff" opacity="0.22"/>
<path d="M13.5,15.6 L18,16 L18,19.4 L13.5,19.2 Z" fill="#3a4a1a"/>
</g></svg>
<div class="t" style="left:42.6px;top:818.55px;font-size:15.5px;line-height:20.15px;color:#0c0c0c;font-family:'Liberation Sans', 'DejaVu Sans', sans-serif;font-weight:bold;letter-spacing:0.35px;-webkit-text-stroke:0;">Rutger Leeuwenberg</div>
<div class="t" style="left:319.3px;top:823.14px;font-size:10.9px;line-height:14.17px;color:#464643;font-family:'Liberation Sans', 'DejaVu Sans', sans-serif;font-weight:normal;letter-spacing:0.6px;-webkit-text-stroke:0.3px #464643;">LE3</div>
<div class="t" style="left:387.9px;top:823.24px;font-size:10.8px;line-height:14.04px;color:#464643;font-family:'Liberation Sans', 'DejaVu Sans', sans-serif;font-weight:normal;letter-spacing:1px;-webkit-text-stroke:0.3px #464643;">24</div>
<svg class="r" style="left:498px;top:823px" width="14" height="11" viewBox="0 0 14 11"><g><rect width="14" height="3.7" fill="#c01a2a"/><rect y="3.7" width="14" height="3.7" fill="#f4f4f4"/><rect y="7.4" width="14" height="3.6" fill="#1a3a8a"/></g><rect width="14" height="11" fill="rgba(0,0,0,0.42)"/></svg>
<div class="t" style="left:515.3px;top:824.04px;font-size:10px;line-height:13.0px;color:#464643;font-family:'Liberation Sans', 'DejaVu Sans', sans-serif;font-weight:normal;letter-spacing:0.55px;-webkit-text-stroke:0.3px #464643;">Netherlands</div>
<div class="t" style="left:676.3px;top:824.43px;font-size:9.6px;line-height:12.48px;color:#464643;font-family:'Liberation Sans', 'DejaVu Sans', sans-serif;font-weight:bold;letter-spacing:0.2px;-webkit-text-stroke:0;">-</div>
<div class="r" style="left:789px;top:817px;width:1px;height:24px;background:rgba(90,88,78,0.35);"></div>
<div class="r" style="left:793px;top:817px;width:57px;height:24px;background:#728467;"></div>
<div class="r" style="left:794px;top:838px;width:47px;height:2px;background:#62795a;"></div>
<div class="t" style="left:793.8px;top:818.45px;font-size:15px;line-height:19.5px;color:#065206;font-family:'Liberation Sans', 'DejaVu Sans', sans-serif;font-weight:bold;-webkit-text-stroke:0px #065206;letter-spacing:0.3px;">18</div>
<div class="r" style="left:859px;top:817px;width:57px;height:24px;background:#7a836e;"></div>
<div class="r" style="left:860px;top:838px;width:34px;height:2px;background:#6c7c64;"></div>
<div class="t" style="left:859.8px;top:818.45px;font-size:15px;line-height:19.5px;color:#175e17;font-family:'Liberation Sans', 'DejaVu Sans', sans-serif;font-weight:bold;-webkit-text-stroke:0px #175e17;letter-spacing:0.3px;">13</div>
<div class="r" style="left:924px;top:817px;width:57px;height:24px;background:rgba(255,255,250,0.035);"></div>
<div class="r" style="left:925px;top:838px;width:23px;height:2px;background:rgba(70,68,58,0.3);"></div>
<div class="t" style="left:924.8px;top:818.45px;font-size:15px;line-height:19.5px;color:#1a1a18;font-family:'Liberation Sans', 'DejaVu Sans', sans-serif;font-weight:bold;-webkit-text-stroke:0px #1a1a18;letter-spacing:0.3px;">9</div>
<div class="r" style="left:990px;top:817px;width:57px;height:24px;background:#728467;"></div>
<div class="r" style="left:991px;top:838px;width:47px;height:2px;background:#62795a;"></div>
<div class="t" style="left:990.8px;top:818.45px;font-size:15px;line-height:19.5px;color:#065206;font-family:'Liberation Sans', 'DejaVu Sans', sans-serif;font-weight:bold;-webkit-text-stroke:0px #065206;letter-spacing:0.3px;">18</div>
<div class="r" style="left:1056px;top:817px;width:57px;height:24px;background:#7a836e;"></div>
<div class="r" style="left:1057px;top:838px;width:36px;height:2px;background:#6c7c64;"></div>
<div class="t" style="left:1056.8px;top:818.45px;font-size:15px;line-height:19.5px;color:#175e17;font-family:'Liberation Sans', 'DejaVu Sans', sans-serif;font-weight:bold;-webkit-text-stroke:0px #175e17;letter-spacing:0.3px;">14</div>
<div class="r" style="left:1121px;top:817px;width:57px;height:24px;background:#728467;"></div>
<div class="r" style="left:1122px;top:838px;width:47px;height:2px;background:#62795a;"></div>
<div class="t" style="left:1121.8px;top:818.45px;font-size:15px;line-height:19.5px;color:#065206;font-family:'Liberation Sans', 'DejaVu Sans', sans-serif;font-weight:bold;-webkit-text-stroke:0px #065206;letter-spacing:0.3px;">18</div>
<div class="r" style="left:1205px;top:817px;width:1px;height:24px;background:rgba(90,88,78,0.35);"></div>
<div class="r" style="left:1207px;top:817px;width:71px;height:24px;background:#808080;"></div>
<div class="t" style="left:1210px;top:818.66px;font-size:17px;line-height:22.1px;color:#1a1a60;font-family:'Liberation Sans', 'DejaVu Sans', sans-serif;font-weight:bold;-webkit-text-stroke:0px #1a1a60;letter-spacing:0.5px;">90</div>
<div class="t" style="left:1287px;top:818.16px;font-size:16.3px;line-height:21.19px;color:#5a5a58;font-family:'Liberation Sans', 'DejaVu Sans', sans-serif;font-weight:normal;-webkit-text-stroke:0.25px #5a5a58;letter-spacing:1px;">75</div>
<div class="t" style="left:1362px;top:819.15px;font-size:15.2px;line-height:19.76px;color:#626208;font-family:'Liberation Sans', 'DejaVu Sans', sans-serif;font-weight:bold;-webkit-text-stroke:0px #626208;letter-spacing:1.4px;">38%</div>
<div class="r" style="left:1361px;top:838px;width:23px;height:2px;background:rgba(100,96,70,0.32);"></div>
<div class="r" style="left:1434px;top:826px;width:6px;height:6px;border-radius:50%;background:#2e6a2e"></div>
<div class="t" style="left:1444.0px;top:823.84px;font-size:10.2px;line-height:13.26px;color:#262624;font-family:'Liberation Sans', 'DejaVu Sans', sans-serif;font-weight:bold;letter-spacing:0px;-webkit-text-stroke:0;">Available</div>
<div class="r" style="left:2px;top:842px;width:1724px;height:26px;background:#8b8981;"></div>
<div class="r" style="left:8px;top:866px;width:28px;height:1px;background:rgba(60,58,50,0.35);"></div>
<div class="r" style="left:35px;top:844px;width:1px;height:23px;background:rgba(60,58,50,0.25);"></div>
<svg class="r" style="left:8.5px;top:843.8px;filter:brightness(0.66)" width="25.0" height="21.0" viewBox="0 0 26 22"><g opacity="1.0">
<path d="M1,12 C0.5,5 6,0.8 13,0.8 C19.5,0.8 24,4.5 24.6,10 L25,16 C25,19.5 22.5,21.2 19,21.2 L8,20.8 C4,20.3 1.5,17 1,12 Z" fill="#d02080" stroke="#0a0a0a" stroke-width="1.1"/>
<path d="M5,4.2 C9,2.4 15,2.2 20,3.6 L20.8,4.8 C15,3.6 9.5,3.8 5.6,5.6 Z" fill="#1a1a1a"/>
<path d="M1.6,10.5 C5,6.5 12,5.4 22.5,6.4 L23.6,8 C15,7.2 8,8 2.2,12.6 Z" fill="#1a1a1a"/>
<path d="M1.8,14.4 C7,14.8 13,16 24.6,16.2 L24.5,18 C14,18 7,17.4 2.8,17 Z" fill="#1a1a1a"/>
<path d="M2.6,17.2 C7,18.6 13,19.6 23.5,19.6 C22.5,20.8 21,21.2 19,21.2 L8,20.8 C5,20.4 3.4,19 2.6,17.2 Z" fill="#141414"/>
<path d="M9.6,9.4 C11.5,8.4 16,8.2 24.6,8.6 L24.8,13.8 L12.6,14.2 C10.4,14 9.2,12.6 9.2,11.2 C9.2,10.4 9.3,9.8 9.6,9.4 Z" fill="#050508"/>
<circle cx="11.3" cy="11.2" r="1.3" fill="#d02080" opacity="0.55"/>
<path d="M19.6,8.8 L21.2,8.8 L21.6,13.8 L20,13.9 Z" fill="#fff" opacity="0.22"/>
<path d="M13.5,15.6 L18,16 L18,19.4 L13.5,19.2 Z" fill="#6a0a3a"/>
</g></svg>
<div class="t" style="left:43.6px;top:844.55px;font-size:15.5px;line-height:20.15px;color:#0c0c0c;font-family:'Liberation Sans', 'DejaVu Sans', sans-serif;font-weight:bold;letter-spacing:0.35px;-webkit-text-stroke:0;">Wolfram Kellermann</div>
<div class="t" style="left:319.3px;top:849.14px;font-size:10.9px;line-height:14.17px;color:#464643;font-family:'Liberation Sans', 'DejaVu Sans', sans-serif;font-weight:normal;letter-spacing:0.6px;-webkit-text-stroke:0.3px #464643;">KEL</div>
<div class="t" style="left:387.9px;top:849.24px;font-size:10.8px;line-height:14.04px;color:#464643;font-family:'Liberation Sans', 'DejaVu Sans', sans-serif;font-weight:normal;letter-spacing:1px;-webkit-text-stroke:0.3px #464643;">26</div>
<svg class="r" style="left:498px;top:849px" width="14" height="11" viewBox="0 0 14 11"><g><rect width="14" height="3.7" fill="#1a1a1a"/><rect y="3.7" width="14" height="3.7" fill="#c01818"/><rect y="7.4" width="14" height="3.6" fill="#e0b000"/></g><rect width="14" height="11" fill="rgba(0,0,0,0.42)"/></svg>
<div class="t" style="left:515.3px;top:850.04px;font-size:10px;line-height:13.0px;color:#464643;font-family:'Liberation Sans', 'DejaVu Sans', sans-serif;font-weight:normal;letter-spacing:0.55px;-webkit-text-stroke:0.3px #464643;">Germany</div>
<div class="r" style="left:672px;top:846px;width:34px;height:18px;background:#7b7e8c;"></div>
<div class="t" style="left:675.3px;top:849.74px;font-size:10.3px;line-height:13.39px;color:#1a2e6a;font-family:'Liberation Sans', 'DejaVu Sans', sans-serif;font-weight:bold;letter-spacing:0px;-webkit-text-stroke:0;">ETGS</div>
<div class="r" style="left:789px;top:843px;width:1px;height:24px;background:rgba(90,88,78,0.35);"></div>
<div class="r" style="left:793px;top:843px;width:57px;height:24px;background:#7a836e;"></div>
<div class="r" style="left:794px;top:864px;width:39px;height:2px;background:#6c7c64;"></div>
<div class="t" style="left:793.8px;top:844.45px;font-size:15px;line-height:19.5px;color:#175e17;font-family:'Liberation Sans', 'DejaVu Sans', sans-serif;font-weight:bold;-webkit-text-stroke:0px #175e17;letter-spacing:0.3px;">15</div>
<div class="r" style="left:859px;top:843px;width:57px;height:24px;background:#7a836e;"></div>
<div class="r" style="left:860px;top:864px;width:42px;height:2px;background:#6c7c64;"></div>
<div class="t" style="left:859.8px;top:844.45px;font-size:15px;line-height:19.5px;color:#175e17;font-family:'Liberation Sans', 'DejaVu Sans', sans-serif;font-weight:bold;-webkit-text-stroke:0px #175e17;letter-spacing:0.3px;">16</div>
<div class="r" style="left:924px;top:843px;width:57px;height:24px;background:rgba(255,255,250,0.035);"></div>
<div class="r" style="left:925px;top:864px;width:26px;height:2px;background:rgba(70,68,58,0.3);"></div>
<div class="t" style="left:924.8px;top:844.45px;font-size:15px;line-height:19.5px;color:#1a1a18;font-family:'Liberation Sans', 'DejaVu Sans', sans-serif;font-weight:bold;-webkit-text-stroke:0px #1a1a18;letter-spacing:0.3px;">10</div>
<div class="r" style="left:990px;top:843px;width:57px;height:24px;background:#728467;"></div>
<div class="r" style="left:991px;top:864px;width:47px;height:2px;background:#62795a;"></div>
<div class="t" style="left:990.8px;top:844.45px;font-size:15px;line-height:19.5px;color:#065206;font-family:'Liberation Sans', 'DejaVu Sans', sans-serif;font-weight:bold;-webkit-text-stroke:0px #065206;letter-spacing:0.3px;">18</div>
<div class="r" style="left:1056px;top:843px;width:57px;height:24px;background:#728467;"></div>
<div class="r" style="left:1057px;top:864px;width:44px;height:2px;background:#62795a;"></div>
<div class="t" style="left:1056.8px;top:844.45px;font-size:15px;line-height:19.5px;color:#065206;font-family:'Liberation Sans', 'DejaVu Sans', sans-serif;font-weight:bold;-webkit-text-stroke:0px #065206;letter-spacing:0.3px;">17</div>
<div class="r" style="left:1121px;top:843px;width:57px;height:24px;background:#7a836e;"></div>
<div class="r" style="left:1122px;top:864px;width:34px;height:2px;background:#6c7c64;"></div>
<div class="t" style="left:1121.8px;top:844.45px;font-size:15px;line-height:19.5px;color:#175e17;font-family:'Liberation Sans', 'DejaVu Sans', sans-serif;font-weight:bold;-webkit-text-stroke:0px #175e17;letter-spacing:0.3px;">13</div>
<div class="r" style="left:1205px;top:843px;width:1px;height:24px;background:rgba(90,88,78,0.35);"></div>
<div class="r" style="left:1207px;top:843px;width:71px;height:24px;background:#7f7c72;"></div>
<div class="t" style="left:1210px;top:844.66px;font-size:17px;line-height:22.1px;color:#141414;font-family:'Liberation Sans', 'DejaVu Sans', sans-serif;font-weight:bold;-webkit-text-stroke:0px #141414;letter-spacing:0.5px;">89</div>
<div class="t" style="left:1287px;top:844.16px;font-size:16.3px;line-height:21.19px;color:#a47a18;font-family:'Liberation Sans', 'DejaVu Sans', sans-serif;font-weight:normal;-webkit-text-stroke:0.25px #a47a18;letter-spacing:1px;">80</div>
<div class="t" style="left:1362px;top:845.15px;font-size:15.2px;line-height:19.76px;color:#626208;font-family:'Liberation Sans', 'DejaVu Sans', sans-serif;font-weight:bold;-webkit-text-stroke:0px #626208;letter-spacing:1.4px;">38%</div>
<div class="r" style="left:1361px;top:864px;width:23px;height:2px;background:rgba(100,96,70,0.32);"></div>
<div class="r" style="left:1434px;top:852px;width:6px;height:6px;border-radius:50%;background:#2e6a2e"></div>
<div class="t" style="left:1444.0px;top:849.84px;font-size:10.2px;line-height:13.26px;color:#262624;font-family:'Liberation Sans', 'DejaVu Sans', sans-serif;font-weight:bold;letter-spacing:0px;-webkit-text-stroke:0;">Available</div>
<div class="r" style="left:2px;top:868px;width:1724px;height:26px;background:#838276;"></div>
<div class="r" style="left:8px;top:892px;width:28px;height:1px;background:rgba(60,58,50,0.35);"></div>
<div class="r" style="left:35px;top:870px;width:1px;height:23px;background:rgba(60,58,50,0.25);"></div>
<svg class="r" style="left:8.5px;top:869.8px;filter:brightness(0.66)" width="25.0" height="21.0" viewBox="0 0 26 22"><g opacity="1.0">
<path d="M1,12 C0.5,5 6,0.8 13,0.8 C19.5,0.8 24,4.5 24.6,10 L25,16 C25,19.5 22.5,21.2 19,21.2 L8,20.8 C4,20.3 1.5,17 1,12 Z" fill="#c0d020" stroke="#0a0a0a" stroke-width="1.1"/>
<path d="M5,4.2 C9,2.4 15,2.2 20,3.6 L20.8,4.8 C15,3.6 9.5,3.8 5.6,5.6 Z" fill="#6020a0"/>
<path d="M1.6,10.5 C5,6.5 12,5.4 22.5,6.4 L23.6,8 C15,7.2 8,8 2.2,12.6 Z" fill="#6020a0"/>
<path d="M1.8,14.4 C7,14.8 13,16 24.6,16.2 L24.5,18 C14,18 7,17.4 2.8,17 Z" fill="#6020a0"/>
<path d="M2.6,17.2 C7,18.6 13,19.6 23.5,19.6 C22.5,20.8 21,21.2 19,21.2 L8,20.8 C5,20.4 3.4,19 2.6,17.2 Z" fill="#141414"/>
<path d="M9.6,9.4 C11.5,8.4 16,8.2 24.6,8.6 L24.8,13.8 L12.6,14.2 C10.4,14 9.2,12.6 9.2,11.2 C9.2,10.4 9.3,9.8 9.6,9.4 Z" fill="#050508"/>
<circle cx="11.3" cy="11.2" r="1.3" fill="#c0d020" opacity="0.55"/>
<path d="M19.6,8.8 L21.2,8.8 L21.6,13.8 L20,13.9 Z" fill="#fff" opacity="0.22"/>
<path d="M13.5,15.6 L18,16 L18,19.4 L13.5,19.2 Z" fill="#2a2a1a"/>
</g></svg>
<div class="t" style="left:42.6px;top:870.55px;font-size:15.5px;line-height:20.15px;color:#0c0c0c;font-family:'Liberation Sans', 'DejaVu Sans', sans-serif;font-weight:bold;letter-spacing:0.35px;-webkit-text-stroke:0;">Makoto Kamata</div>
<div class="t" style="left:319.3px;top:875.14px;font-size:10.9px;line-height:14.17px;color:#464643;font-family:'Liberation Sans', 'DejaVu Sans', sans-serif;font-weight:normal;letter-spacing:0.6px;-webkit-text-stroke:0.3px #464643;">KA6</div>
<div class="t" style="left:387.9px;top:875.24px;font-size:10.8px;line-height:14.04px;color:#464643;font-family:'Liberation Sans', 'DejaVu Sans', sans-serif;font-weight:normal;letter-spacing:1px;-webkit-text-stroke:0.3px #464643;">19</div>
<svg class="r" style="left:498px;top:875px" width="14" height="11" viewBox="0 0 14 11"><g><rect width="14" height="11" fill="#f4f4f4"/><circle cx="7" cy="5.5" r="3" fill="#c00020"/></g><rect width="14" height="11" fill="rgba(0,0,0,0.42)"/></svg>
<div class="t" style="left:516.3px;top:876.04px;font-size:10px;line-height:13.0px;color:#464643;font-family:'Liberation Sans', 'DejaVu Sans', sans-serif;font-weight:normal;letter-spacing:0.55px;-webkit-text-stroke:0.3px #464643;">Japan</div>
<div class="r" style="left:672px;top:872px;width:27px;height:18px;background:#8c7a77;"></div>
<div class="t" style="left:675.3px;top:875.74px;font-size:10.3px;line-height:13.39px;color:#7a1020;font-family:'Liberation Sans', 'DejaVu Sans', sans-serif;font-weight:bold;letter-spacing:0px;-webkit-text-stroke:0;">FJP</div>
<div class="r" style="left:789px;top:869px;width:1px;height:24px;background:rgba(90,88,78,0.35);"></div>
<div class="r" style="left:793px;top:869px;width:57px;height:24px;background:#7a836e;"></div>
<div class="r" style="left:794px;top:890px;width:39px;height:2px;background:#6c7c64;"></div>
<div class="t" style="left:793.8px;top:870.45px;font-size:15px;line-height:19.5px;color:#175e17;font-family:'Liberation Sans', 'DejaVu Sans', sans-serif;font-weight:bold;-webkit-text-stroke:0px #175e17;letter-spacing:0.3px;">15</div>
<div class="r" style="left:859px;top:869px;width:57px;height:24px;background:#728467;"></div>
<div class="r" style="left:860px;top:890px;width:49px;height:2px;background:#62795a;"></div>
<div class="t" style="left:859.8px;top:870.45px;font-size:15px;line-height:19.5px;color:#065206;font-family:'Liberation Sans', 'DejaVu Sans', sans-serif;font-weight:bold;-webkit-text-stroke:0px #065206;letter-spacing:0.3px;">19</div>
<div class="r" style="left:924px;top:869px;width:57px;height:24px;background:#8a7b72;"></div>
<div class="r" style="left:925px;top:890px;width:13px;height:2px;background:#8a6e60;"></div>
<div class="t" style="left:924.8px;top:870.45px;font-size:15px;line-height:19.5px;color:#a03000;font-family:'Liberation Sans', 'DejaVu Sans', sans-serif;font-weight:bold;-webkit-text-stroke:0px #a03000;letter-spacing:0.3px;">5</div>
<div class="r" style="left:990px;top:869px;width:57px;height:24px;background:#7a836e;"></div>
<div class="r" style="left:991px;top:890px;width:39px;height:2px;background:#6c7c64;"></div>
<div class="t" style="left:990.8px;top:870.45px;font-size:15px;line-height:19.5px;color:#175e17;font-family:'Liberation Sans', 'DejaVu Sans', sans-serif;font-weight:bold;-webkit-text-stroke:0px #175e17;letter-spacing:0.3px;">15</div>
<div class="r" style="left:1056px;top:869px;width:57px;height:24px;background:#728467;"></div>
<div class="r" style="left:1057px;top:890px;width:47px;height:2px;background:#62795a;"></div>
<div class="t" style="left:1056.8px;top:870.45px;font-size:15px;line-height:19.5px;color:#065206;font-family:'Liberation Sans', 'DejaVu Sans', sans-serif;font-weight:bold;-webkit-text-stroke:0px #065206;letter-spacing:0.3px;">18</div>
<div class="r" style="left:1121px;top:869px;width:57px;height:24px;background:#728467;"></div>
<div class="r" style="left:1122px;top:890px;width:44px;height:2px;background:#62795a;"></div>
<div class="t" style="left:1121.8px;top:870.45px;font-size:15px;line-height:19.5px;color:#065206;font-family:'Liberation Sans', 'DejaVu Sans', sans-serif;font-weight:bold;-webkit-text-stroke:0px #065206;letter-spacing:0.3px;">17</div>
<div class="r" style="left:1205px;top:869px;width:1px;height:24px;background:rgba(90,88,78,0.35);"></div>
<div class="r" style="left:1207px;top:869px;width:71px;height:24px;background:#7f7c72;"></div>
<div class="t" style="left:1210px;top:870.66px;font-size:17px;line-height:22.1px;color:#141414;font-family:'Liberation Sans', 'DejaVu Sans', sans-serif;font-weight:bold;-webkit-text-stroke:0px #141414;letter-spacing:0.5px;">89</div>
<div class="t" style="left:1287px;top:870.16px;font-size:16.3px;line-height:21.19px;color:#5a5a58;font-family:'Liberation Sans', 'DejaVu Sans', sans-serif;font-weight:normal;-webkit-text-stroke:0.25px #5a5a58;letter-spacing:1px;">79</div>
<div class="t" style="left:1362px;top:871.15px;font-size:15.2px;line-height:19.76px;color:#626208;font-family:'Liberation Sans', 'DejaVu Sans', sans-serif;font-weight:bold;-webkit-text-stroke:0px #626208;letter-spacing:1.4px;">38%</div>
<div class="r" style="left:1361px;top:890px;width:23px;height:2px;background:rgba(100,96,70,0.32);"></div>
<div class="r" style="left:1434px;top:878px;width:6px;height:6px;border-radius:50%;background:#2e6a2e"></div>
<div class="t" style="left:1444.0px;top:875.84px;font-size:10.2px;line-height:13.26px;color:#262624;font-family:'Liberation Sans', 'DejaVu Sans', sans-serif;font-weight:bold;letter-spacing:0px;-webkit-text-stroke:0;">Available</div>
<div class="r" style="left:2px;top:894px;width:1724px;height:26px;background:#8b8981;"></div>
<div class="r" style="left:8px;top:918px;width:28px;height:1px;background:rgba(60,58,50,0.35);"></div>
<div class="r" style="left:35px;top:896px;width:1px;height:23px;background:rgba(60,58,50,0.25);"></div>
<svg class="r" style="left:8.5px;top:895.8px;filter:brightness(0.66)" width="25.0" height="21.0" viewBox="0 0 26 22"><g opacity="1.0">
<path d="M1,12 C0.5,5 6,0.8 13,0.8 C19.5,0.8 24,4.5 24.6,10 L25,16 C25,19.5 22.5,21.2 19,21.2 L8,20.8 C4,20.3 1.5,17 1,12 Z" fill="#d020a0" stroke="#0a0a0a" stroke-width="1.1"/>
<path d="M5,4.2 C9,2.4 15,2.2 20,3.6 L20.8,4.8 C15,3.6 9.5,3.8 5.6,5.6 Z" fill="#e050c0"/>
<path d="M1.6,10.5 C5,6.5 12,5.4 22.5,6.4 L23.6,8 C15,7.2 8,8 2.2,12.6 Z" fill="#e050c0"/>
<path d="M1.8,14.4 C7,14.8 13,16 24.6,16.2 L24.5,18 C14,18 7,17.4 2.8,17 Z" fill="#e050c0"/>
<path d="M2.6,17.2 C7,18.6 13,19.6 23.5,19.6 C22.5,20.8 21,21.2 19,21.2 L8,20.8 C5,20.4 3.4,19 2.6,17.2 Z" fill="#141414"/>
<path d="M9.6,9.4 C11.5,8.4 16,8.2 24.6,8.6 L24.8,13.8 L12.6,14.2 C10.4,14 9.2,12.6 9.2,11.2 C9.2,10.4 9.3,9.8 9.6,9.4 Z" fill="#050508"/>
<circle cx="11.3" cy="11.2" r="1.3" fill="#d020a0" opacity="0.55"/>
<path d="M19.6,8.8 L21.2,8.8 L21.6,13.8 L20,13.9 Z" fill="#fff" opacity="0.22"/>
<path d="M13.5,15.6 L18,16 L18,19.4 L13.5,19.2 Z" fill="#4a0a3a"/>
</g></svg>
<div class="t" style="left:42.6px;top:896.55px;font-size:15.5px;line-height:20.15px;color:#0c0c0c;font-family:'Liberation Sans', 'DejaVu Sans', sans-serif;font-weight:bold;letter-spacing:0.35px;-webkit-text-stroke:0;">Eero Toivonen</div>
<div class="t" style="left:320.3px;top:901.14px;font-size:10.9px;line-height:14.17px;color:#464643;font-family:'Liberation Sans', 'DejaVu Sans', sans-serif;font-weight:normal;letter-spacing:0.6px;-webkit-text-stroke:0.3px #464643;">TOI</div>
<div class="t" style="left:387.9px;top:901.24px;font-size:10.8px;line-height:14.04px;color:#464643;font-family:'Liberation Sans', 'DejaVu Sans', sans-serif;font-weight:normal;letter-spacing:1px;-webkit-text-stroke:0.3px #464643;">24</div>
<svg class="r" style="left:498px;top:901px" width="14" height="11" viewBox="0 0 14 11"><g><rect width="14" height="11" fill="#d01010"/><rect y="2.75" width="14" height="5.5" fill="#f0c000"/></g><rect width="14" height="11" fill="rgba(0,0,0,0.42)"/></svg>
<div class="t" style="left:515.3px;top:902.04px;font-size:10px;line-height:13.0px;color:#464643;font-family:'Liberation Sans', 'DejaVu Sans', sans-serif;font-weight:normal;letter-spacing:0.55px;-webkit-text-stroke:0.3px #464643;">Spain</div>
<div class="t" style="left:676.3px;top:902.43px;font-size:9.6px;line-height:12.48px;color:#464643;font-family:'Liberation Sans', 'DejaVu Sans', sans-serif;font-weight:bold;letter-spacing:0.2px;-webkit-text-stroke:0;">-</div>
<div class="r" style="left:789px;top:895px;width:1px;height:24px;background:rgba(90,88,78,0.35);"></div>
<div class="r" style="left:793px;top:895px;width:57px;height:24px;background:#728467;"></div>
<div class="r" style="left:794px;top:916px;width:44px;height:2px;background:#62795a;"></div>
<div class="t" style="left:793.8px;top:896.45px;font-size:15px;line-height:19.5px;color:#065206;font-family:'Liberation Sans', 'DejaVu Sans', sans-serif;font-weight:bold;-webkit-text-stroke:0px #065206;letter-spacing:0.3px;">17</div>
<div class="r" style="left:859px;top:895px;width:57px;height:24px;background:#7a836e;"></div>
<div class="r" style="left:860px;top:916px;width:36px;height:2px;background:#6c7c64;"></div>
<div class="t" style="left:859.8px;top:896.45px;font-size:15px;line-height:19.5px;color:#175e17;font-family:'Liberation Sans', 'DejaVu Sans', sans-serif;font-weight:bold;-webkit-text-stroke:0px #175e17;letter-spacing:0.3px;">14</div>
<div class="r" style="left:924px;top:895px;width:57px;height:24px;background:#7a836e;"></div>
<div class="r" style="left:925px;top:916px;width:39px;height:2px;background:#6c7c64;"></div>
<div class="t" style="left:924.8px;top:896.45px;font-size:15px;line-height:19.5px;color:#175e17;font-family:'Liberation Sans', 'DejaVu Sans', sans-serif;font-weight:bold;-webkit-text-stroke:0px #175e17;letter-spacing:0.3px;">15</div>
<div class="r" style="left:990px;top:895px;width:57px;height:24px;background:rgba(255,255,250,0.035);"></div>
<div class="r" style="left:991px;top:916px;width:31px;height:2px;background:rgba(70,68,58,0.3);"></div>
<div class="t" style="left:990.8px;top:896.45px;font-size:15px;line-height:19.5px;color:#1a1a18;font-family:'Liberation Sans', 'DejaVu Sans', sans-serif;font-weight:bold;-webkit-text-stroke:0px #1a1a18;letter-spacing:0.3px;">12</div>
<div class="r" style="left:1056px;top:895px;width:57px;height:24px;background:#7a836e;"></div>
<div class="r" style="left:1057px;top:916px;width:42px;height:2px;background:#6c7c64;"></div>
<div class="t" style="left:1056.8px;top:896.45px;font-size:15px;line-height:19.5px;color:#175e17;font-family:'Liberation Sans', 'DejaVu Sans', sans-serif;font-weight:bold;-webkit-text-stroke:0px #175e17;letter-spacing:0.3px;">16</div>
<div class="r" style="left:1121px;top:895px;width:57px;height:24px;background:#7a836e;"></div>
<div class="r" style="left:1122px;top:916px;width:39px;height:2px;background:#6c7c64;"></div>
<div class="t" style="left:1121.8px;top:896.45px;font-size:15px;line-height:19.5px;color:#175e17;font-family:'Liberation Sans', 'DejaVu Sans', sans-serif;font-weight:bold;-webkit-text-stroke:0px #175e17;letter-spacing:0.3px;">15</div>
<div class="r" style="left:1205px;top:895px;width:1px;height:24px;background:rgba(90,88,78,0.35);"></div>
<div class="r" style="left:1207px;top:895px;width:71px;height:24px;background:#7f7c72;"></div>
<div class="t" style="left:1210px;top:896.66px;font-size:17px;line-height:22.1px;color:#141414;font-family:'Liberation Sans', 'DejaVu Sans', sans-serif;font-weight:bold;-webkit-text-stroke:0px #141414;letter-spacing:0.5px;">89</div>
<div class="t" style="left:1287px;top:896.16px;font-size:16.3px;line-height:21.19px;color:#5a5a58;font-family:'Liberation Sans', 'DejaVu Sans', sans-serif;font-weight:normal;-webkit-text-stroke:0.25px #5a5a58;letter-spacing:1px;">74</div>
<div class="t" style="left:1362px;top:897.15px;font-size:15.2px;line-height:19.76px;color:#626208;font-family:'Liberation Sans', 'DejaVu Sans', sans-serif;font-weight:bold;-webkit-text-stroke:0px #626208;letter-spacing:1.4px;">38%</div>
<div class="r" style="left:1361px;top:916px;width:23px;height:2px;background:rgba(100,96,70,0.32);"></div>
<div class="r" style="left:1434px;top:904px;width:6px;height:6px;border-radius:50%;background:#2e6a2e"></div>
<div class="t" style="left:1444.0px;top:901.84px;font-size:10.2px;line-height:13.26px;color:#262624;font-family:'Liberation Sans', 'DejaVu Sans', sans-serif;font-weight:bold;letter-spacing:0px;-webkit-text-stroke:0;">Available</div>
<div class="r" style="left:2px;top:920px;width:1724px;height:26px;background:#838276;"></div>
<div class="r" style="left:8px;top:944px;width:28px;height:1px;background:rgba(60,58,50,0.35);"></div>
<div class="r" style="left:35px;top:922px;width:1px;height:23px;background:rgba(60,58,50,0.25);"></div>
<svg class="r" style="left:8.5px;top:921.8px;filter:brightness(0.66)" width="25.0" height="21.0" viewBox="0 0 26 22"><g opacity="1.0">
<path d="M1,12 C0.5,5 6,0.8 13,0.8 C19.5,0.8 24,4.5 24.6,10 L25,16 C25,19.5 22.5,21.2 19,21.2 L8,20.8 C4,20.3 1.5,17 1,12 Z" fill="#e03060" stroke="#0a0a0a" stroke-width="1.1"/>
<path d="M5,4.2 C9,2.4 15,2.2 20,3.6 L20.8,4.8 C15,3.6 9.5,3.8 5.6,5.6 Z" fill="#40a0e0"/>
<path d="M1.6,10.5 C5,6.5 12,5.4 22.5,6.4 L23.6,8 C15,7.2 8,8 2.2,12.6 Z" fill="#40a0e0"/>
<path d="M1.8,14.4 C7,14.8 13,16 24.6,16.2 L24.5,18 C14,18 7,17.4 2.8,17 Z" fill="#40a0e0"/>
<path d="M2.6,17.2 C7,18.6 13,19.6 23.5,19.6 C22.5,20.8 21,21.2 19,21.2 L8,20.8 C5,20.4 3.4,19 2.6,17.2 Z" fill="#141414"/>
<path d="M9.6,9.4 C11.5,8.4 16,8.2 24.6,8.6 L24.8,13.8 L12.6,14.2 C10.4,14 9.2,12.6 9.2,11.2 C9.2,10.4 9.3,9.8 9.6,9.4 Z" fill="#050508"/>
<circle cx="11.3" cy="11.2" r="1.3" fill="#e03060" opacity="0.55"/>
<path d="M19.6,8.8 L21.2,8.8 L21.6,13.8 L20,13.9 Z" fill="#fff" opacity="0.22"/>
<path d="M13.5,15.6 L18,16 L18,19.4 L13.5,19.2 Z" fill="#4a0a1a"/>
</g></svg>
<div class="t" style="left:42.6px;top:922.55px;font-size:15.5px;line-height:20.15px;color:#0c0c0c;font-family:'Liberation Sans', 'DejaVu Sans', sans-serif;font-weight:bold;letter-spacing:0.35px;-webkit-text-stroke:0;">Deon Lategan</div>
<div class="t" style="left:319.3px;top:927.14px;font-size:10.9px;line-height:14.17px;color:#464643;font-family:'Liberation Sans', 'DejaVu Sans', sans-serif;font-weight:normal;letter-spacing:0.6px;-webkit-text-stroke:0.3px #464643;">LAT</div>
<div class="t" style="left:387.9px;top:927.24px;font-size:10.8px;line-height:14.04px;color:#464643;font-family:'Liberation Sans', 'DejaVu Sans', sans-serif;font-weight:normal;letter-spacing:1px;-webkit-text-stroke:0.3px #464643;">26</div>
<svg class="r" style="left:498px;top:927px" width="14" height="11" viewBox="0 0 14 11"><g><rect width="14" height="5.5" fill="#e03020"/><rect y="5.5" width="14" height="5.5" fill="#1a3a9a"/><polygon points="0,0 7,5.5 0,11" fill="#1a1a1a"/><polygon points="0,1.5 5,5.5 0,9.5" fill="#f0c000" opacity=".0"/><rect y="4.2" width="14" height="2.6" fill="#1a8a3a"/><polygon points="0,0 2,0 8,4.2 8,6.8 2,11 0,11 6,5.5" fill="#f4f4f4" opacity=".6"/><polygon points="0,1.2 5.5,5.5 0,9.8" fill="#1a1a1a"/></g><rect width="14" height="11" fill="rgba(0,0,0,0.42)"/></svg>
<div class="t" style="left:515.3px;top:928.04px;font-size:10px;line-height:13.0px;color:#464643;font-family:'Liberation Sans', 'DejaVu Sans', sans-serif;font-weight:normal;letter-spacing:0.55px;-webkit-text-stroke:0.3px #464643;">South Africa</div>
<div class="t" style="left:676.3px;top:928.43px;font-size:9.6px;line-height:12.48px;color:#464643;font-family:'Liberation Sans', 'DejaVu Sans', sans-serif;font-weight:bold;letter-spacing:0.2px;-webkit-text-stroke:0;">-</div>
<div class="r" style="left:789px;top:921px;width:1px;height:24px;background:rgba(90,88,78,0.35);"></div>
<div class="r" style="left:793px;top:921px;width:57px;height:24px;background:#728467;"></div>
<div class="r" style="left:794px;top:942px;width:44px;height:2px;background:#62795a;"></div>
<div class="t" style="left:793.8px;top:922.45px;font-size:15px;line-height:19.5px;color:#065206;font-family:'Liberation Sans', 'DejaVu Sans', sans-serif;font-weight:bold;-webkit-text-stroke:0px #065206;letter-spacing:0.3px;">17</div>
<div class="r" style="left:859px;top:921px;width:57px;height:24px;background:rgba(255,255,250,0.035);"></div>
<div class="r" style="left:860px;top:942px;width:31px;height:2px;background:rgba(70,68,58,0.3);"></div>
<div class="t" style="left:859.8px;top:922.45px;font-size:15px;line-height:19.5px;color:#1a1a18;font-family:'Liberation Sans', 'DejaVu Sans', sans-serif;font-weight:bold;-webkit-text-stroke:0px #1a1a18;letter-spacing:0.3px;">12</div>
<div class="r" style="left:924px;top:921px;width:57px;height:24px;background:rgba(255,255,250,0.035);"></div>
<div class="r" style="left:925px;top:942px;width:23px;height:2px;background:rgba(70,68,58,0.3);"></div>
<div class="t" style="left:924.8px;top:922.45px;font-size:15px;line-height:19.5px;color:#1a1a18;font-family:'Liberation Sans', 'DejaVu Sans', sans-serif;font-weight:bold;-webkit-text-stroke:0px #1a1a18;letter-spacing:0.3px;">9</div>
<div class="r" style="left:990px;top:921px;width:57px;height:24px;background:#728467;"></div>
<div class="r" style="left:991px;top:942px;width:47px;height:2px;background:#62795a;"></div>
<div class="t" style="left:990.8px;top:922.45px;font-size:15px;line-height:19.5px;color:#065206;font-family:'Liberation Sans', 'DejaVu Sans', sans-serif;font-weight:bold;-webkit-text-stroke:0px #065206;letter-spacing:0.3px;">18</div>
<div class="r" style="left:1056px;top:921px;width:57px;height:24px;background:#7a836e;"></div>
<div class="r" style="left:1057px;top:942px;width:39px;height:2px;background:#6c7c64;"></div>
<div class="t" style="left:1056.8px;top:922.45px;font-size:15px;line-height:19.5px;color:#175e17;font-family:'Liberation Sans', 'DejaVu Sans', sans-serif;font-weight:bold;-webkit-text-stroke:0px #175e17;letter-spacing:0.3px;">15</div>
<div class="r" style="left:1121px;top:921px;width:57px;height:24px;background:#728467;"></div>
<div class="r" style="left:1122px;top:942px;width:47px;height:2px;background:#62795a;"></div>
<div class="t" style="left:1121.8px;top:922.45px;font-size:15px;line-height:19.5px;color:#065206;font-family:'Liberation Sans', 'DejaVu Sans', sans-serif;font-weight:bold;-webkit-text-stroke:0px #065206;letter-spacing:0.3px;">18</div>
<div class="r" style="left:1205px;top:921px;width:1px;height:24px;background:rgba(90,88,78,0.35);"></div>
<div class="r" style="left:1207px;top:921px;width:71px;height:24px;background:#7f7c72;"></div>
<div class="t" style="left:1210px;top:922.66px;font-size:17px;line-height:22.1px;color:#141414;font-family:'Liberation Sans', 'DejaVu Sans', sans-serif;font-weight:bold;-webkit-text-stroke:0px #141414;letter-spacing:0.5px;">89</div>
<div class="t" style="left:1287px;top:922.16px;font-size:16.3px;line-height:21.19px;color:#5a5a58;font-family:'Liberation Sans', 'DejaVu Sans', sans-serif;font-weight:normal;-webkit-text-stroke:0.25px #5a5a58;letter-spacing:1px;">74</div>
<div class="t" style="left:1362px;top:923.15px;font-size:15.2px;line-height:19.76px;color:#626208;font-family:'Liberation Sans', 'DejaVu Sans', sans-serif;font-weight:bold;-webkit-text-stroke:0px #626208;letter-spacing:1.4px;">38%</div>
<div class="r" style="left:1361px;top:942px;width:23px;height:2px;background:rgba(100,96,70,0.32);"></div>
<div class="r" style="left:1434px;top:930px;width:6px;height:6px;border-radius:50%;background:#2e6a2e"></div>
<div class="t" style="left:1444.0px;top:927.84px;font-size:10.2px;line-height:13.26px;color:#262624;font-family:'Liberation Sans', 'DejaVu Sans', sans-serif;font-weight:bold;letter-spacing:0px;-webkit-text-stroke:0;">Available</div>
<div class="r" style="left:2px;top:946px;width:1724px;height:26px;background:#8b8981;"></div>
<div class="r" style="left:8px;top:970px;width:28px;height:1px;background:rgba(60,58,50,0.35);"></div>
<div class="r" style="left:35px;top:948px;width:1px;height:23px;background:rgba(60,58,50,0.25);"></div>
<svg class="r" style="left:8.5px;top:947.8px;filter:brightness(0.66)" width="25.0" height="21.0" viewBox="0 0 26 22"><g opacity="1.0">
<path d="M1,12 C0.5,5 6,0.8 13,0.8 C19.5,0.8 24,4.5 24.6,10 L25,16 C25,19.5 22.5,21.2 19,21.2 L8,20.8 C4,20.3 1.5,17 1,12 Z" fill="#d8d020" stroke="#0a0a0a" stroke-width="1.1"/>
<path d="M5,4.2 C9,2.4 15,2.2 20,3.6 L20.8,4.8 C15,3.6 9.5,3.8 5.6,5.6 Z" fill="#1a1a1a"/>
<path d="M1.6,10.5 C5,6.5 12,5.4 22.5,6.4 L23.6,8 C15,7.2 8,8 2.2,12.6 Z" fill="#1a1a1a"/>
<path d="M1.8,14.4 C7,14.8 13,16 24.6,16.2 L24.5,18 C14,18 7,17.4 2.8,17 Z" fill="#1a1a1a"/>
<path d="M2.6,17.2 C7,18.6 13,19.6 23.5,19.6 C22.5,20.8 21,21.2 19,21.2 L8,20.8 C5,20.4 3.4,19 2.6,17.2 Z" fill="#141414"/>
<path d="M9.6,9.4 C11.5,8.4 16,8.2 24.6,8.6 L24.8,13.8 L12.6,14.2 C10.4,14 9.2,12.6 9.2,11.2 C9.2,10.4 9.3,9.8 9.6,9.4 Z" fill="#050508"/>
<circle cx="11.3" cy="11.2" r="1.3" fill="#d8d020" opacity="0.55"/>
<path d="M19.6,8.8 L21.2,8.8 L21.6,13.8 L20,13.9 Z" fill="#fff" opacity="0.22"/>
<path d="M13.5,15.6 L18,16 L18,19.4 L13.5,19.2 Z" fill="#3a3a1a"/>
</g></svg>
<div class="t" style="left:42.6px;top:948.55px;font-size:15.5px;line-height:20.15px;color:#0c0c0c;font-family:'Liberation Sans', 'DejaVu Sans', sans-serif;font-weight:bold;letter-spacing:0.35px;-webkit-text-stroke:0;">Karl Plattner</div>
<div class="t" style="left:319.3px;top:953.14px;font-size:10.9px;line-height:14.17px;color:#464643;font-family:'Liberation Sans', 'DejaVu Sans', sans-serif;font-weight:normal;letter-spacing:0.6px;-webkit-text-stroke:0.3px #464643;">PLA</div>
<div class="t" style="left:387.9px;top:953.24px;font-size:10.8px;line-height:14.04px;color:#464643;font-family:'Liberation Sans', 'DejaVu Sans', sans-serif;font-weight:normal;letter-spacing:1px;-webkit-text-stroke:0.3px #464643;">25</div>
<svg class="r" style="left:498px;top:953px" width="14" height="11" viewBox="0 0 14 11"><g><rect width="14" height="3.7" fill="#1a1a1a"/><rect y="3.7" width="14" height="3.7" fill="#c01818"/><rect y="7.4" width="14" height="3.6" fill="#e0b000"/></g><rect width="14" height="11" fill="rgba(0,0,0,0.42)"/></svg>
<div class="t" style="left:515.3px;top:954.04px;font-size:10px;line-height:13.0px;color:#464643;font-family:'Liberation Sans', 'DejaVu Sans', sans-serif;font-weight:normal;letter-spacing:0.55px;-webkit-text-stroke:0.3px #464643;">Germany</div>
<div class="r" style="left:672px;top:950px;width:34px;height:18px;background:#7b7e8c;"></div>
<div class="t" style="left:675.3px;top:953.74px;font-size:10.3px;line-height:13.39px;color:#1a2e6a;font-family:'Liberation Sans', 'DejaVu Sans', sans-serif;font-weight:bold;letter-spacing:0px;-webkit-text-stroke:0;">ETGS</div>
<div class="r" style="left:789px;top:947px;width:1px;height:24px;background:rgba(90,88,78,0.35);"></div>
<div class="r" style="left:793px;top:947px;width:57px;height:24px;background:#7a836e;"></div>
<div class="r" style="left:794px;top:968px;width:34px;height:2px;background:#6c7c64;"></div>
<div class="t" style="left:793.8px;top:948.45px;font-size:15px;line-height:19.5px;color:#175e17;font-family:'Liberation Sans', 'DejaVu Sans', sans-serif;font-weight:bold;-webkit-text-stroke:0px #175e17;letter-spacing:0.3px;">13</div>
<div class="r" style="left:859px;top:947px;width:57px;height:24px;background:#7a836e;"></div>
<div class="r" style="left:860px;top:968px;width:42px;height:2px;background:#6c7c64;"></div>
<div class="t" style="left:859.8px;top:948.45px;font-size:15px;line-height:19.5px;color:#175e17;font-family:'Liberation Sans', 'DejaVu Sans', sans-serif;font-weight:bold;-webkit-text-stroke:0px #175e17;letter-spacing:0.3px;">16</div>
<div class="r" style="left:924px;top:947px;width:57px;height:24px;background:rgba(255,255,250,0.035);"></div>
<div class="r" style="left:925px;top:968px;width:21px;height:2px;background:rgba(70,68,58,0.3);"></div>
<div class="t" style="left:924.8px;top:948.45px;font-size:15px;line-height:19.5px;color:#1a1a18;font-family:'Liberation Sans', 'DejaVu Sans', sans-serif;font-weight:bold;-webkit-text-stroke:0px #1a1a18;letter-spacing:0.3px;">8</div>
<div class="r" style="left:990px;top:947px;width:57px;height:24px;background:#728467;"></div>
<div class="r" style="left:991px;top:968px;width:47px;height:2px;background:#62795a;"></div>
<div class="t" style="left:990.8px;top:948.45px;font-size:15px;line-height:19.5px;color:#065206;font-family:'Liberation Sans', 'DejaVu Sans', sans-serif;font-weight:bold;-webkit-text-stroke:0px #065206;letter-spacing:0.3px;">18</div>
<div class="r" style="left:1056px;top:947px;width:57px;height:24px;background:#7a836e;"></div>
<div class="r" style="left:1057px;top:968px;width:42px;height:2px;background:#6c7c64;"></div>
<div class="t" style="left:1056.8px;top:948.45px;font-size:15px;line-height:19.5px;color:#175e17;font-family:'Liberation Sans', 'DejaVu Sans', sans-serif;font-weight:bold;-webkit-text-stroke:0px #175e17;letter-spacing:0.3px;">16</div>
<div class="r" style="left:1121px;top:947px;width:57px;height:24px;background:#728467;"></div>
<div class="r" style="left:1122px;top:968px;width:47px;height:2px;background:#62795a;"></div>
<div class="t" style="left:1121.8px;top:948.45px;font-size:15px;line-height:19.5px;color:#065206;font-family:'Liberation Sans', 'DejaVu Sans', sans-serif;font-weight:bold;-webkit-text-stroke:0px #065206;letter-spacing:0.3px;">18</div>
<div class="r" style="left:1205px;top:947px;width:1px;height:24px;background:rgba(90,88,78,0.35);"></div>
<div class="r" style="left:1207px;top:947px;width:71px;height:24px;background:#7f7c72;"></div>
<div class="t" style="left:1210px;top:948.66px;font-size:17px;line-height:22.1px;color:#141414;font-family:'Liberation Sans', 'DejaVu Sans', sans-serif;font-weight:bold;-webkit-text-stroke:0px #141414;letter-spacing:0.5px;">89</div>
<div class="t" style="left:1287px;top:948.16px;font-size:16.3px;line-height:21.19px;color:#a47a18;font-family:'Liberation Sans', 'DejaVu Sans', sans-serif;font-weight:normal;-webkit-text-stroke:0.25px #a47a18;letter-spacing:1px;">80</div>
<div class="t" style="left:1362px;top:949.15px;font-size:15.2px;line-height:19.76px;color:#626208;font-family:'Liberation Sans', 'DejaVu Sans', sans-serif;font-weight:bold;-webkit-text-stroke:0px #626208;letter-spacing:1.4px;">38%</div>
<div class="r" style="left:1361px;top:968px;width:23px;height:2px;background:rgba(100,96,70,0.32);"></div>
<div class="r" style="left:1434px;top:956px;width:6px;height:6px;border-radius:50%;background:#2e6a2e"></div>
<div class="t" style="left:1444.0px;top:953.84px;font-size:10.2px;line-height:13.26px;color:#262624;font-family:'Liberation Sans', 'DejaVu Sans', sans-serif;font-weight:bold;letter-spacing:0px;-webkit-text-stroke:0;">Available</div>
<div class="r" style="left:2px;top:972px;width:1724px;height:26px;background:#838276;"></div>
<div class="r" style="left:8px;top:996px;width:28px;height:1px;background:rgba(60,58,50,0.35);"></div>
<div class="r" style="left:35px;top:974px;width:1px;height:23px;background:rgba(60,58,50,0.25);"></div>
<svg class="r" style="left:8.5px;top:973.8px;filter:brightness(0.66)" width="25.0" height="21.0" viewBox="0 0 26 22"><g opacity="1.0">
<path d="M1,12 C0.5,5 6,0.8 13,0.8 C19.5,0.8 24,4.5 24.6,10 L25,16 C25,19.5 22.5,21.2 19,21.2 L8,20.8 C4,20.3 1.5,17 1,12 Z" fill="#d06070" stroke="#0a0a0a" stroke-width="1.1"/>
<path d="M5,4.2 C9,2.4 15,2.2 20,3.6 L20.8,4.8 C15,3.6 9.5,3.8 5.6,5.6 Z" fill="#f0d040"/>
<path d="M1.6,10.5 C5,6.5 12,5.4 22.5,6.4 L23.6,8 C15,7.2 8,8 2.2,12.6 Z" fill="#f0d040"/>
<path d="M1.8,14.4 C7,14.8 13,16 24.6,16.2 L24.5,18 C14,18 7,17.4 2.8,17 Z" fill="#f0d040"/>
<path d="M2.6,17.2 C7,18.6 13,19.6 23.5,19.6 C22.5,20.8 21,21.2 19,21.2 L8,20.8 C5,20.4 3.4,19 2.6,17.2 Z" fill="#141414"/>
<path d="M9.6,9.4 C11.5,8.4 16,8.2 24.6,8.6 L24.8,13.8 L12.6,14.2 C10.4,14 9.2,12.6 9.2,11.2 C9.2,10.4 9.3,9.8 9.6,9.4 Z" fill="#050508"/>
<circle cx="11.3" cy="11.2" r="1.3" fill="#d06070" opacity="0.55"/>
<path d="M19.6,8.8 L21.2,8.8 L21.6,13.8 L20,13.9 Z" fill="#fff" opacity="0.22"/>
<path d="M13.5,15.6 L18,16 L18,19.4 L13.5,19.2 Z" fill="#4a1a2a"/>
</g></svg>
<div class="t" style="left:42.6px;top:974.55px;font-size:15.5px;line-height:20.15px;color:#0c0c0c;font-family:'Liberation Sans', 'DejaVu Sans', sans-serif;font-weight:bold;letter-spacing:0.35px;-webkit-text-stroke:0;">Gaston Lacombe</div>
<div class="t" style="left:319.3px;top:979.14px;font-size:10.9px;line-height:14.17px;color:#464643;font-family:'Liberation Sans', 'DejaVu Sans', sans-serif;font-weight:normal;letter-spacing:0.6px;-webkit-text-stroke:0.3px #464643;">LAC</div>
<div class="t" style="left:387.9px;top:979.24px;font-size:10.8px;line-height:14.04px;color:#464643;font-family:'Liberation Sans', 'DejaVu Sans', sans-serif;font-weight:normal;letter-spacing:1px;-webkit-text-stroke:0.3px #464643;">22</div>
<svg class="r" style="left:498px;top:979px" width="14" height="11" viewBox="0 0 14 11"><g><rect width="4.7" height="11" fill="#1a2a8a"/><rect x="4.7" width="4.6" height="11" fill="#f0f0f0"/><rect x="9.3" width="4.7" height="11" fill="#d01a2a"/></g><rect width="14" height="11" fill="rgba(0,0,0,0.42)"/></svg>
<div class="t" style="left:515.3px;top:980.04px;font-size:10px;line-height:13.0px;color:#464643;font-family:'Liberation Sans', 'DejaVu Sans', sans-serif;font-weight:normal;letter-spacing:0.55px;-webkit-text-stroke:0.3px #464643;">France</div>
<div class="r" style="left:672px;top:976px;width:40px;height:18px;background:#7d796e;"></div>
<div class="t" style="left:675.3px;top:979.74px;font-size:10.3px;line-height:13.39px;color:#161616;font-family:'Liberation Sans', 'DejaVu Sans', sans-serif;font-weight:bold;letter-spacing:0px;-webkit-text-stroke:0;">DeGTL</div>
<div class="r" style="left:789px;top:973px;width:1px;height:24px;background:rgba(90,88,78,0.35);"></div>
<div class="r" style="left:793px;top:973px;width:57px;height:24px;background:#728467;"></div>
<div class="r" style="left:794px;top:994px;width:44px;height:2px;background:#62795a;"></div>
<div class="t" style="left:793.8px;top:974.45px;font-size:15px;line-height:19.5px;color:#065206;font-family:'Liberation Sans', 'DejaVu Sans', sans-serif;font-weight:bold;-webkit-text-stroke:0px #065206;letter-spacing:0.3px;">17</div>
<div class="r" style="left:859px;top:973px;width:57px;height:24px;background:#728467;"></div>
<div class="r" style="left:860px;top:994px;width:47px;height:2px;background:#62795a;"></div>
<div class="t" style="left:859.8px;top:974.45px;font-size:15px;line-height:19.5px;color:#065206;font-family:'Liberation Sans', 'DejaVu Sans', sans-serif;font-weight:bold;-webkit-text-stroke:0px #065206;letter-spacing:0.3px;">18</div>
<div class="r" style="left:924px;top:973px;width:57px;height:24px;background:#7a836e;"></div>
<div class="r" style="left:925px;top:994px;width:42px;height:2px;background:#6c7c64;"></div>
<div class="t" style="left:924.8px;top:974.45px;font-size:15px;line-height:19.5px;color:#175e17;font-family:'Liberation Sans', 'DejaVu Sans', sans-serif;font-weight:bold;-webkit-text-stroke:0px #175e17;letter-spacing:0.3px;">16</div>
<div class="r" style="left:990px;top:973px;width:57px;height:24px;background:#728467;"></div>
<div class="r" style="left:991px;top:994px;width:47px;height:2px;background:#62795a;"></div>
<div class="t" style="left:990.8px;top:974.45px;font-size:15px;line-height:19.5px;color:#065206;font-family:'Liberation Sans', 'DejaVu Sans', sans-serif;font-weight:bold;-webkit-text-stroke:0px #065206;letter-spacing:0.3px;">18</div>
<div class="r" style="left:1056px;top:973px;width:57px;height:24px;background:rgba(255,255,250,0.035);"></div>
<div class="r" style="left:1057px;top:994px;width:23px;height:2px;background:rgba(70,68,58,0.3);"></div>
<div class="t" style="left:1056.8px;top:974.45px;font-size:15px;line-height:19.5px;color:#1a1a18;font-family:'Liberation Sans', 'DejaVu Sans', sans-serif;font-weight:bold;-webkit-text-stroke:0px #1a1a18;letter-spacing:0.3px;">9</div>
<div class="r" style="left:1121px;top:973px;width:57px;height:24px;background:rgba(255,255,250,0.035);"></div>
<div class="r" style="left:1122px;top:994px;width:29px;height:2px;background:rgba(70,68,58,0.3);"></div>
<div class="t" style="left:1121.8px;top:974.45px;font-size:15px;line-height:19.5px;color:#1a1a18;font-family:'Liberation Sans', 'DejaVu Sans', sans-serif;font-weight:bold;-webkit-text-stroke:0px #1a1a18;letter-spacing:0.3px;">11</div>
<div class="r" style="left:1205px;top:973px;width:1px;height:24px;background:rgba(90,88,78,0.35);"></div>
<div class="r" style="left:1207px;top:973px;width:71px;height:24px;background:#7f7c72;"></div>
<div class="t" style="left:1210px;top:974.66px;font-size:17px;line-height:22.1px;color:#141414;font-family:'Liberation Sans', 'DejaVu Sans', sans-serif;font-weight:bold;-webkit-text-stroke:0px #141414;letter-spacing:0.5px;">89</div>
<div class="t" style="left:1287px;top:974.16px;font-size:16.3px;line-height:21.19px;color:#5a5a58;font-family:'Liberation Sans', 'DejaVu Sans', sans-serif;font-weight:normal;-webkit-text-stroke:0.25px #5a5a58;letter-spacing:1px;">79</div>
<div class="t" style="left:1362px;top:975.15px;font-size:15.2px;line-height:19.76px;color:#626208;font-family:'Liberation Sans', 'DejaVu Sans', sans-serif;font-weight:bold;-webkit-text-stroke:0px #626208;letter-spacing:1.4px;">38%</div>
<div class="r" style="left:1361px;top:994px;width:23px;height:2px;background:rgba(100,96,70,0.32);"></div>
<div class="r" style="left:1434px;top:982px;width:6px;height:6px;border-radius:50%;background:#2e6a2e"></div>
<div class="t" style="left:1444.0px;top:979.84px;font-size:10.2px;line-height:13.26px;color:#262624;font-family:'Liberation Sans', 'DejaVu Sans', sans-serif;font-weight:bold;letter-spacing:0px;-webkit-text-stroke:0;">Available</div>
<div class="r" style="left:0px;top:998px;width:1734px;height:54px;background:#817e75;"></div>
<div class="r" style="left:0px;top:1013px;width:120px;height:28px;background:#6f6e6b;box-sizing:border-box;border-top:1px solid #9a9a96;border-right:2px solid #151515;border-bottom:2px solid #151515;"></div>
<div class="t" style="left:20.3px;top:1017.64px;font-size:14.61px;line-height:18.99px;color:#141414;font-family:'Liberation Sans', 'DejaVu Sans', sans-serif;font-weight:bold;letter-spacing:-0.25px;-webkit-text-stroke:0;">View Profile</div>
<div class="t" style="left:139.2px;top:1009.83px;font-size:15.12px;line-height:19.66px;color:#3a3a38;font-family:'Liberation Sans', 'DejaVu Sans', sans-serif;font-weight:bold;letter-spacing:-0.03px;-webkit-text-stroke:0;">Signed:</div>
<div class="t" style="left:199.2px;top:1009.83px;font-size:15.12px;line-height:19.66px;color:#1a1a1a;font-family:'Liberation Sans', 'DejaVu Sans', sans-serif;font-weight:bold;letter-spacing:0.11px;-webkit-text-stroke:0;">NOE (Primary) 300K</div>
<div class="t" style="left:360.8px;top:1009.83px;font-size:15.12px;line-height:19.66px;color:#1a1a1a;font-family:'Liberation Sans', 'DejaVu Sans', sans-serif;font-weight:bold;letter-spacing:-0.06px;-webkit-text-stroke:0;">FA7 (Secondary) 165K</div>
<div class="t" style="left:535.1px;top:1010.23px;font-size:15.12px;line-height:19.66px;color:#0e640e;font-family:'Liberation Sans', 'DejaVu Sans', sans-serif;font-weight:bold;letter-spacing:-0.02px;-webkit-text-stroke:0;">GR6 (Reserve) +35K</div>
<div class="r" style="left:488px;top:747.5px;width:177px;height:2px;background:#6a6a62;"></div>
<div class="r" style="left:1731px;top:1035.8px;width:3px;height:13px;background:#111;box-sizing:border-box;border:1px solid #f4f4f4;border-right:none;"></div>
<div class="r" style="left:664px;top:327px;width:580px;height:454px;background:#6e6e6e;"></div>
<div class="r" style="left:664px;top:327px;width:579.5px;height:27px;background:#2b2b2b;"></div>
<div class="r" style="left:665px;top:354px;width:578px;height:1.5px;background:#727272;"></div>
<div class="r" style="left:665.5px;top:355.5px;width:577px;height:424px;background:#ece8dc;"></div>
<div class="t" style="left:671.6px;top:330.95px;font-size:14.1px;line-height:18.33px;color:#f2f2f2;font-family:'Liberation Sans', 'DejaVu Sans', sans-serif;font-weight:bold;letter-spacing:-0.07px;-webkit-text-stroke:0;">Driver Profile — Taichi Ueno</div>
<div class="r" style="left:1194px;top:334px;width:41.5px;height:15px;background:#d0d0d0;box-sizing:border-box;border-top:1px solid #ececec;border-left:1px solid #ececec;box-shadow:1px 1px 0 #0c0c0c;"></div>
<div class="t" style="left:1211.5px;top:334.83px;font-size:11.21px;line-height:14.57px;color:#1a1a1a;font-family:'Liberation Sans', 'DejaVu Sans', sans-serif;font-weight:bold;letter-spacing:-0.5px;-webkit-text-stroke:0;">X</div>
<div class="r" style="left:673px;top:366px;width:148px;height:280px;background:#d6d3c6;box-sizing:border-box;border-top:1px solid #7c7c7c;border-left:1px solid #7c7c7c;border-right:1px solid #f6f4ec;border-bottom:1px solid #f6f4ec;overflow:hidden"><svg width="148" height="280" viewBox="0 0 148 280" style="position:absolute;left:-1px;top:-1px">
<g stroke-linejoin="round">
<!-- base shadow -->
<path d="M62,258.5 L108,258 L108,265 L62,265.5 Z" fill="#cdd5e3" stroke="#2a2a30" stroke-width="0.9"/>
<!-- legs -->
<path d="M52,128 L111,128 L112.3,189 L113.7,237.5 L93.2,237.5 L89,189 L86.3,152 L85,152 L76.7,175 L68.5,195.6 L67.1,237.5 L46.6,237.5 L46.6,216 L50.7,189 Z" fill="#eef0f4" stroke="#2a2a34" stroke-width="1.3"/>
<path d="M52,129 L66,129 L58,152 L52,175 L50.8,160 Z" fill="#b0207c"/>
<path d="M107,129 L111,129 L111.6,161 L109,145 Z" fill="#8a1a62"/>
<path d="M62,150 L72,150 L78,170 L70,196 L67,236 L60,236 L63,200 Z" fill="#c6ccda" opacity="0.8"/>
<path d="M86,156 L92,160 L100,200 L104,236 L94,236 L89,190 Z" fill="#c2c9d8" opacity="0.8"/>
<path d="M48,196 L68,200 L67,212 L47,210 Z" fill="#bcc4d4" opacity="0.7"/>
<path d="M92,204 L113,200 L113.5,214 L94,216 Z" fill="#bcc4d4" opacity="0.7"/>
<path d="M104,140 L111,140 L112,185 L107,170 Z" fill="#c8cedb" opacity="0.8"/>
<path d="M60,165 C64,185 66,205 66,236 M55,200 L66,205" stroke="#aab2c8" stroke-width="1.1" fill="none"/>
<path d="M90,160 C95,180 98,200 100,236 M95,215 L112,222 M100,180 L110,190" stroke="#aab2c8" stroke-width="1.1" fill="none"/>
<path d="M48,225 L66,228 M94,228 L112,226" stroke="#b6bccc" stroke-width="1.2" fill="none"/>
<!-- boots -->
<path d="M46.6,237.5 L66,237.5 L66.5,263 L47,265.5 Z" fill="#6a1646" stroke="#241020" stroke-width="1.2"/>
<path d="M47.5,252 L65.8,250 L66.3,262.5 L48,264.5 Z" fill="#e0449c"/>
<rect x="50" y="239.5" width="13" height="3" fill="#d8a8c4"/>
<rect x="51" y="244" width="11" height="2" fill="#c890b0"/>
<path d="M96,237.5 L113.5,237.5 L115,246 L128,255.5 L129,262.5 L96.5,264 Z" fill="#7a1652" stroke="#241020" stroke-width="1.2"/>
<path d="M104,248 L114.5,246 L128,255.5 L129,262 L106,263 Z" fill="#e24a9e"/>
<path d="M103.5,248 L113,246 L117,252 L107,256.5 Z" fill="#a6aac8"/>
<rect x="102" y="240" width="9" height="3" fill="#d8a8c4"/>
<!-- torso -->
<path d="M47,54 C54,50 62,48 70,50 L96,52 C104,52 110,53 116,57 L110,80 L108,95 L108,112 L111,128 L53,128 L57.5,112 L55,95 L50,80 Z" fill="#eef0f4" stroke="#2a2a34" stroke-width="1.3"/>
<path d="M50,60 L58,56 L60,72 L64,95 L69,126 L60,128 L57,112 L50,80 Z" fill="#a81e78"/>
<path d="M55,90 L64,96 L70,126 L62,127 Z" fill="#7a1458"/>
<path d="M103,60 L109,59 L108.5,90 L108,118 L106,127 L102.4,100 L102.8,75 Z" fill="#9a1c70"/>
<path d="M60,96 C75,104 95,104 106,96 L107,116 L61,116 Z" fill="#d4d9e4" opacity="0.7"/>
<path d="M87,58 L88,128" stroke="#b0b6c8" stroke-width="1" fill="none"/>
<path d="M90,74 L104,73" stroke="#c0c6d4" stroke-width="0.8" fill="none"/>
<!-- belt -->
<path d="M70,116.5 L104,116.5 L104,126.5 L70,126.5 Z" fill="#f2f3f6" stroke="#a0a6b6" stroke-width="0.8"/>
<!-- left arm -->
<path d="M44.6,51 L41,57.7 C33,65 28,71 24,76.5 C19.5,82.5 16.4,86 16.4,89.5 C16.5,92 17,94 17.3,95.3 C19,99 21,102 24,105.6 C28,109 32,112 35,115 L41,121 L51.5,112.4 C48,110 46,109 44.6,107.3 C43,104 42,101 41.2,99.6 C39.5,96 37.5,92 36.1,89.3 C39,86 42,84 44.6,82.5 C49,79 52,76 55,73 L58.5,50 Z" fill="#eef0f4" stroke="#2a2a34" stroke-width="1.5"/>
<path d="M17,93 C19.5,99 22,102.5 25,106 C29,110 33,113 36,116 L40,120.5 L43,116 C38,112 33,108.5 29,104.5 C25,101 21,97.5 17,93 Z" fill="#a01e72"/>
<path d="M36.1,89.3 C39,86 42,84 44.6,82.5 C49,79 52,76 55,73 L56,79 C51,82 47,85 44,88 L38,92 Z" fill="#8c1a66"/>
<path d="M19,86 L34,84.5" stroke="#b4bace" stroke-width="1.3" fill="none"/>
<path d="M24,77 L36,84" stroke="#c8cede" stroke-width="1" fill="none"/>
<path d="M43,52 L55,49.5 L58,64 L49,68 Z" fill="#8c1a66"/>
<path d="M46,54 L52,52.5 L53.5,61 L48,63 Z" fill="#d44aa0"/>
<!-- left glove -->
<path d="M41,110 L48,110.5 L49,117.5 L42,118 Z" fill="#f0f0f4" stroke="#3a1028" stroke-width="0.8"/>
<path d="M47,114 L56,112.5 L70,116 L72,124 L60,126 L48,124 Z" fill="#da4a9e" stroke="#3a1028" stroke-width="1"/>
<path d="M58,117 L70,119" stroke="#f4a8d0" stroke-width="1.2" fill="none"/>
<!-- right arm -->
<path d="M99.8,51.7 L115.3,56.8 L117.8,64.5 C123,72 128,79 133.2,86.8 C134,90 134,94 133.7,97.1 C133,100 132,103 130.7,105.6 C128,110 125.5,113.5 123,116.8 L113,129.6 L104,121 L108,111 C110.5,108 113,105 114.4,102 C115.5,97 116,92 116,87 C114.5,86 113,85.5 111.8,85 L106.5,70 Z" fill="#eef0f4" stroke="#2a2a34" stroke-width="1.5"/>
<path d="M109.3,78.2 L113,76 C116,80 119,85 121.2,90.2 L117,93 C115,88 112,83 109.3,78.2 Z" fill="#5e1048"/>
<path d="M105,54 L115,57 L117,64 L110,68 Z" fill="#8c1a66"/>
<path d="M110,56 L114,57.5 L114.5,63 L111,64 Z" fill="#e070b8"/>
<!-- right glove -->
<path d="M102,112 L114,109.5 L124.5,115 L121,125 L113,129.6 L103,126 Z" fill="#a8246e" stroke="#3a1028" stroke-width="1"/>
<path d="M108,116 L120,114.5" stroke="#e4a0c8" stroke-width="1.5" fill="none"/>
<!-- collar -->
<path d="M67,43.5 C72,47 80,50 97,50 L98,56 C88,58.5 76,57 66,52 Z" fill="#b0207c" stroke="#3a1030" stroke-width="1"/>
<path d="M80,50 L92,51" stroke="#d860a8" stroke-width="1.5" fill="none"/>
<!-- head -->
<path d="M68,22 C68,12 75,8 83,8 C92,8 96,13 95.5,24 L95,36 C94,43 90,48.5 85,49.4 C79,49.8 73,46 70.3,40.9 Z" fill="#d98a48"/>
<path d="M63.5,22 C63,11 70,6.7 79,6.7 C90,6.7 96,11 95.5,19 C93,16.5 86,15.5 78,16 L74,22 L72.5,34 L70,39 C66,34 63.8,28 63.5,22 Z" fill="#2a2226"/>
<ellipse cx="66.8" cy="32.5" rx="3" ry="4.6" fill="#b06a38" stroke="#3a2014" stroke-width="0.6"/>
<path d="M69.5,33 C70.5,43 77,49.8 85,49.6 C90,49.2 93.5,45 95,39 C92,43.5 88,45 84,44.8 C80,44.6 76,42 74,38 L72.5,33 Z" fill="#3a2418" opacity="0.9"/>
<path d="M76.5,27.5 L83,26.5 M88,26.5 L94,27" stroke="#2e1a12" stroke-width="1.4"/>
<path d="M78,29.5 L82,29.2 M89,29.2 L93,29.4" stroke="#3a2418" stroke-width="1"/>
<path d="M87,30 L86,36 L89,36.5" stroke="#b06a34" stroke-width="0.9" fill="none"/>
<path d="M80.8,40.4 C84,41.5 88,41.5 91.3,40.2" stroke="#6a3a22" stroke-width="1.1" fill="none"/>
</g>
</svg></div>
<div class="r" style="left:674px;top:652px;width:156px;height:45px;background:#f8f6ef;box-sizing:border-box;border-top:1px solid #8c8c8c;border-right:1px solid #8c8c8c;"></div>
<div class="t" style="left:681.4px;top:656.09px;font-size:12.65px;line-height:16.45px;color:#8a8a88;font-family:'Liberation Sans', 'DejaVu Sans', sans-serif;font-weight:bold;letter-spacing:0.36px;-webkit-text-stroke:0;">Fame: 75</div>
<div class="t" style="left:682.4px;top:676.70px;font-size:10.03px;line-height:13.04px;color:#6a6a68;font-family:'Liberation Sans', 'DejaVu Sans', sans-serif;font-weight:bold;letter-spacing:0.04px;-webkit-text-stroke:0;">Objective: Finish Top 3</div>
<div class="r" style="left:830px;top:366px;width:404px;height:21px;background:#e0d9c7;"></div>
<div class="r" style="left:830px;top:387px;width:404px;height:1.2px;background:#8e8e8e;"></div>
<div class="r" style="left:830px;top:388.2px;width:404px;height:67.8px;background:#f8f6ef;box-sizing:border-box;border-right:1px solid #8e8e8e;"></div>
<div class="t" style="left:837.2px;top:367.71px;font-size:11.63px;line-height:15.12px;color:#222222;font-family:'Liberation Sans', 'DejaVu Sans', sans-serif;font-weight:bold;letter-spacing:0.16px;-webkit-text-stroke:0;">Identity</div>
<svg width="45.5" height="38" viewBox="0 0 26 22" style="position:absolute;left:839px;top:398.8px">
<path d="M0.8,12.5 C0.2,5.5 5.5,0.4 13,0.4 C19.5,0.4 24,4 25,9.5 L25.8,15.5 C25.8,19 23.5,20.8 19.5,20.8 L9,20.6 C4.5,20 1.4,17.5 0.8,12.5 Z" fill="#8c7672" stroke="#141010" stroke-width="0.7"/>
<path d="M5,4 C8,2 12,1.5 16,2 C13,3 9,4.5 6,6.5 Z" fill="#b8a29c"/>
<path d="M1,11 C3,6.5 9,4.6 16,4.8 C20,5 23,6 24.5,8.5 L24.6,9.6 C20,8 15,7.8 10,8.2 C6,8.6 3,10 1.4,12.6 Z" fill="#5ef0a8"/>
<path d="M12.5,2.5 C15,2 18,2.4 20,3.6 C19,4.6 16,4.6 13.5,3.8 Z" fill="#5ef0a8"/>
<path d="M7.4,9.4 C9,8.2 13,7.9 24.8,8.6 L25.2,14.4 L13,14.8 C10,14.8 8.2,14 7.6,12.5 C7.2,11.5 7.1,10.2 7.4,9.4 Z" fill="#05040a"/>
<path d="M19.5,8.8 L21.5,8.9 L22,14.3 L20,14.4 Z" fill="#d8a088" opacity="0.7"/>
<path d="M22.6,9 L23.6,9 L24,14.2 L23,14.3 Z" fill="#b07050" opacity="0.6"/>
<circle cx="9.3" cy="10.8" r="1.1" fill="#c86a3a"/>
<path d="M1.5,13 C4,14.5 8,15.5 13,15 L13,17 C8,17.2 4,16.2 1.8,15 Z" fill="#5ef0a8"/>
<path d="M1.8,15 C4,16.5 8,17.8 13,18 L15,20.5 L9,20.5 C5,20 2.8,17.5 1.8,15 Z" fill="#1a1210"/>
<path d="M13.1,14.8 L18.4,14.8 L18.4,20.2 L13.1,19.8 Z" fill="#a010f0"/>
<path d="M18.4,14.8 L25.4,14.6 L25.4,16 L18.4,16.2 Z" fill="#b070e0" opacity="0.7"/>
<path d="M18.5,16.3 L25,16 L24.8,18.8 C23,20 21,20.3 18.5,20.3 Z" fill="#9c8480"/>
<path d="M3.5,19.6 C8,21.2 14,21.6 20,21" stroke="#5ec898" stroke-width="1" fill="none"/>
</svg>
<div class="t" style="left:898.1px;top:391.85px;font-size:15.41px;line-height:20.03px;color:#141414;font-family:'Liberation Sans', 'DejaVu Sans', sans-serif;font-weight:bold;letter-spacing:0.06px;-webkit-text-stroke:0;">Taichi Ueno</div>
<div class="t" style="left:897.0px;top:414.89px;font-size:11.05px;line-height:14.37px;color:#6a6a68;font-family:'Liberation Sans', 'DejaVu Sans', sans-serif;font-weight:bold;letter-spacing:-0.03px;-webkit-text-stroke:0;">Code: UEN | Age: 22</div>
<svg class="r" style="left:899px;top:435px" width="20" height="15"><rect width="20" height="15" fill="#ffffff"/><circle cx="10" cy="7.3" r="4.8" fill="#c8102e"/></svg>
<div class="t" style="left:925.0px;top:434.70px;font-size:11.34px;line-height:14.74px;color:#6a6a68;font-family:'Liberation Sans', 'DejaVu Sans', sans-serif;font-weight:bold;letter-spacing:-0.12px;-webkit-text-stroke:0;">Country: Japan | Series: Free Agent</div>
<div class="r" style="left:830px;top:462px;width:404px;height:21.5px;background:#e0d9c7;"></div>
<div class="r" style="left:830px;top:483.3px;width:404px;height:1px;background:#939393;"></div>
<div class="r" style="left:830px;top:484.3px;width:404px;height:178.7px;background:#f8f6ef;box-sizing:border-box;border-right:1px solid #8e8e8e;border-bottom:1px solid #8e8e8e;"></div>
<div class="t" style="left:838.1px;top:463.91px;font-size:11.63px;line-height:15.12px;color:#222222;font-family:'Liberation Sans', 'DejaVu Sans', sans-serif;font-weight:bold;letter-spacing:-0.02px;-webkit-text-stroke:0;">Attributes</div>
<div class="t" style="left:841.5px;top:489.34px;font-size:11px;line-height:14.3px;color:#0a7a0a;font-family:'Liberation Sans', 'DejaVu Sans', sans-serif;font-weight:bold;letter-spacing:0.2px;-webkit-text-stroke:0;">INT</div>
<div class="r" style="left:877px;top:491.1px;width:131px;height:10.5px;background:#ffffff;box-sizing:border-box;border-top:1px solid #6a6a6a;border-left:1.5px solid #6a6a6a;"></div>
<div class="r" style="left:880px;top:493.1px;width:8px;height:6px;background:#007000;"></div>
<div class="r" style="left:890px;top:493.1px;width:8px;height:6px;background:#007000;"></div>
<div class="r" style="left:900px;top:493.1px;width:8px;height:6px;background:#007000;"></div>
<div class="r" style="left:910px;top:493.1px;width:8px;height:6px;background:#007000;"></div>
<div class="r" style="left:920px;top:493.1px;width:8px;height:6px;background:#007000;"></div>
<div class="r" style="left:930px;top:493.1px;width:8px;height:6px;background:#007000;"></div>
<div class="r" style="left:940px;top:493.1px;width:8px;height:6px;background:#007000;"></div>
<div class="r" style="left:950px;top:493.1px;width:8px;height:6px;background:#007000;"></div>
<div class="r" style="left:960px;top:493.1px;width:8px;height:6px;background:#007000;"></div>
<div class="r" style="left:970px;top:493.1px;width:8px;height:6px;background:#007000;"></div>
<div class="r" style="left:980px;top:493.1px;width:8px;height:6px;background:#007000;"></div>
<div class="t" style="left:1201.0px;top:489.44px;font-size:12px;line-height:15.6px;color:#007000;font-family:'Liberation Sans', 'DejaVu Sans', sans-serif;font-weight:bold;letter-spacing:0.6px;-webkit-text-stroke:0;">18</div>
<div class="t" style="left:841.5px;top:514.94px;font-size:11px;line-height:14.3px;color:#3a8c3a;font-family:'Liberation Sans', 'DejaVu Sans', sans-serif;font-weight:bold;letter-spacing:0.2px;-webkit-text-stroke:0;">PAC</div>
<div class="r" style="left:877px;top:516.7px;width:131px;height:10.5px;background:#ffffff;box-sizing:border-box;border-top:1px solid #6a6a6a;border-left:1.5px solid #6a6a6a;"></div>
<div class="r" style="left:880px;top:518.7px;width:8px;height:6px;background:#3a8c3a;"></div>
<div class="r" style="left:890px;top:518.7px;width:8px;height:6px;background:#3a8c3a;"></div>
<div class="r" style="left:900px;top:518.7px;width:8px;height:6px;background:#3a8c3a;"></div>
<div class="r" style="left:910px;top:518.7px;width:8px;height:6px;background:#3a8c3a;"></div>
<div class="r" style="left:920px;top:518.7px;width:8px;height:6px;background:#3a8c3a;"></div>
<div class="r" style="left:930px;top:518.7px;width:8px;height:6px;background:#3a8c3a;"></div>
<div class="r" style="left:940px;top:518.7px;width:8px;height:6px;background:#3a8c3a;"></div>
<div class="r" style="left:950px;top:518.7px;width:8px;height:6px;background:#3a8c3a;"></div>
<div class="r" style="left:960px;top:518.7px;width:8px;height:6px;background:#3a8c3a;"></div>
<div class="t" style="left:1201.0px;top:515.04px;font-size:12px;line-height:15.6px;color:#3a8c3a;font-family:'Liberation Sans', 'DejaVu Sans', sans-serif;font-weight:bold;letter-spacing:0.6px;-webkit-text-stroke:0;">15</div>
<div class="t" style="left:841.5px;top:540.54px;font-size:11px;line-height:14.3px;color:#3a3a3a;font-family:'Liberation Sans', 'DejaVu Sans', sans-serif;font-weight:bold;letter-spacing:0.2px;-webkit-text-stroke:0;">CON</div>
<div class="r" style="left:877px;top:542.3px;width:131px;height:10.5px;background:#ffffff;box-sizing:border-box;border-top:1px solid #6a6a6a;border-left:1.5px solid #6a6a6a;"></div>
<div class="r" style="left:880px;top:544.3px;width:8px;height:6px;background:#444444;"></div>
<div class="r" style="left:890px;top:544.3px;width:8px;height:6px;background:#444444;"></div>
<div class="r" style="left:900px;top:544.3px;width:8px;height:6px;background:#444444;"></div>
<div class="r" style="left:910px;top:544.3px;width:8px;height:6px;background:#444444;"></div>
<div class="r" style="left:920px;top:544.3px;width:8px;height:6px;background:#444444;"></div>
<div class="r" style="left:930px;top:544.3px;width:8px;height:6px;background:#444444;"></div>
<div class="t" style="left:1201.0px;top:540.64px;font-size:12px;line-height:15.6px;color:#444444;font-family:'Liberation Sans', 'DejaVu Sans', sans-serif;font-weight:bold;letter-spacing:0.6px;-webkit-text-stroke:0;">10</div>
<div class="t" style="left:842.5px;top:566.14px;font-size:11px;line-height:14.3px;color:#3a8c3a;font-family:'Liberation Sans', 'DejaVu Sans', sans-serif;font-weight:bold;letter-spacing:0.2px;-webkit-text-stroke:0;">ADA</div>
<div class="r" style="left:877px;top:567.9px;width:131px;height:10.5px;background:#ffffff;box-sizing:border-box;border-top:1px solid #6a6a6a;border-left:1.5px solid #6a6a6a;"></div>
<div class="r" style="left:880px;top:569.9px;width:8px;height:6px;background:#3a8c3a;"></div>
<div class="r" style="left:890px;top:569.9px;width:8px;height:6px;background:#3a8c3a;"></div>
<div class="r" style="left:900px;top:569.9px;width:8px;height:6px;background:#3a8c3a;"></div>
<div class="r" style="left:910px;top:569.9px;width:8px;height:6px;background:#3a8c3a;"></div>
<div class="r" style="left:920px;top:569.9px;width:8px;height:6px;background:#3a8c3a;"></div>
<div class="r" style="left:930px;top:569.9px;width:8px;height:6px;background:#3a8c3a;"></div>
<div class="r" style="left:940px;top:569.9px;width:8px;height:6px;background:#3a8c3a;"></div>
<div class="r" style="left:950px;top:569.9px;width:8px;height:6px;background:#3a8c3a;"></div>
<div class="r" style="left:960px;top:569.9px;width:8px;height:6px;background:#3a8c3a;"></div>
<div class="t" style="left:1201.0px;top:566.24px;font-size:12px;line-height:15.6px;color:#3a8c3a;font-family:'Liberation Sans', 'DejaVu Sans', sans-serif;font-weight:bold;letter-spacing:0.6px;-webkit-text-stroke:0;">15</div>
<div class="t" style="left:841.5px;top:591.74px;font-size:11px;line-height:14.3px;color:#0a7a0a;font-family:'Liberation Sans', 'DejaVu Sans', sans-serif;font-weight:bold;letter-spacing:0.2px;-webkit-text-stroke:0;">STA</div>
<div class="r" style="left:877px;top:593.5px;width:131px;height:10.5px;background:#ffffff;box-sizing:border-box;border-top:1px solid #6a6a6a;border-left:1.5px solid #6a6a6a;"></div>
<div class="r" style="left:880px;top:595.5px;width:8px;height:6px;background:#007000;"></div>
<div class="r" style="left:890px;top:595.5px;width:8px;height:6px;background:#007000;"></div>
<div class="r" style="left:900px;top:595.5px;width:8px;height:6px;background:#007000;"></div>
<div class="r" style="left:910px;top:595.5px;width:8px;height:6px;background:#007000;"></div>
<div class="r" style="left:920px;top:595.5px;width:8px;height:6px;background:#007000;"></div>
<div class="r" style="left:930px;top:595.5px;width:8px;height:6px;background:#007000;"></div>
<div class="r" style="left:940px;top:595.5px;width:8px;height:6px;background:#007000;"></div>
<div class="r" style="left:950px;top:595.5px;width:8px;height:6px;background:#007000;"></div>
<div class="r" style="left:960px;top:595.5px;width:8px;height:6px;background:#007000;"></div>
<div class="r" style="left:970px;top:595.5px;width:8px;height:6px;background:#007000;"></div>
<div class="r" style="left:980px;top:595.5px;width:8px;height:6px;background:#007000;"></div>
<div class="t" style="left:1201.0px;top:591.84px;font-size:12px;line-height:15.6px;color:#007000;font-family:'Liberation Sans', 'DejaVu Sans', sans-serif;font-weight:bold;letter-spacing:0.6px;-webkit-text-stroke:0;">18</div>
<div class="t" style="left:842.5px;top:617.34px;font-size:11px;line-height:14.3px;color:#3a8c3a;font-family:'Liberation Sans', 'DejaVu Sans', sans-serif;font-weight:bold;letter-spacing:0.2px;-webkit-text-stroke:0;">AGG</div>
<div class="r" style="left:877px;top:619.1px;width:131px;height:10.5px;background:#ffffff;box-sizing:border-box;border-top:1px solid #6a6a6a;border-left:1.5px solid #6a6a6a;"></div>
<div class="r" style="left:880px;top:621.1px;width:8px;height:6px;background:#3a8c3a;"></div>
<div class="r" style="left:890px;top:621.1px;width:8px;height:6px;background:#3a8c3a;"></div>
<div class="r" style="left:900px;top:621.1px;width:8px;height:6px;background:#3a8c3a;"></div>
<div class="r" style="left:910px;top:621.1px;width:8px;height:6px;background:#3a8c3a;"></div>
<div class="r" style="left:920px;top:621.1px;width:8px;height:6px;background:#3a8c3a;"></div>
<div class="r" style="left:930px;top:621.1px;width:8px;height:6px;background:#3a8c3a;"></div>
<div class="r" style="left:940px;top:621.1px;width:8px;height:6px;background:#3a8c3a;"></div>
<div class="r" style="left:950px;top:621.1px;width:8px;height:6px;background:#3a8c3a;"></div>
<div class="r" style="left:960px;top:621.1px;width:8px;height:6px;background:#3a8c3a;"></div>
<div class="t" style="left:1201.0px;top:617.44px;font-size:12px;line-height:15.6px;color:#3a8c3a;font-family:'Liberation Sans', 'DejaVu Sans', sans-serif;font-weight:bold;letter-spacing:0.6px;-webkit-text-stroke:0;">14</div>
<div class="t" style="left:837.9px;top:641.95px;font-size:11.19px;line-height:14.55px;color:#1a1a1a;font-family:'Liberation Sans', 'DejaVu Sans', sans-serif;font-weight:bold;letter-spacing:0.29px;-webkit-text-stroke:0;">Total: 90</div>
<div class="r" style="left:830px;top:669px;width:404px;height:21px;background:#e0d9c7;"></div>
<div class="r" style="left:830px;top:690px;width:404px;height:1px;background:#8e8e8e;"></div>
<div class="r" style="left:830px;top:691px;width:404px;height:41.5px;background:#f8f6ef;box-sizing:border-box;border-right:1px solid #8e8e8e;border-bottom:1px solid #8e8e8e;"></div>
<div class="t" style="left:836.9px;top:670.71px;font-size:11.63px;line-height:15.12px;color:#222222;font-family:'Liberation Sans', 'DejaVu Sans', sans-serif;font-weight:bold;letter-spacing:-0.16px;-webkit-text-stroke:0;">Contract</div>
<div class="t" style="left:837.9px;top:695.35px;font-size:11.19px;line-height:14.55px;color:#b06808;font-family:'Liberation Sans', 'DejaVu Sans', sans-serif;font-weight:bold;letter-spacing:0.16px;-webkit-text-stroke:0;">Asking salary: $198K/GP (~$4.0M/season)</div>
<div class="t" style="left:836.9px;top:711.67px;font-size:10.17px;line-height:13.22px;color:#6a6a68;font-family:'Liberation Sans', 'DejaVu Sans', sans-serif;font-weight:bold;letter-spacing:0.19px;-webkit-text-stroke:0;">Free Agent</div>
<div class="r" style="left:1134px;top:749px;width:100px;height:24px;background:#e8e4d6;box-sizing:border-box;border-right:1px solid #8e8e8e;border-bottom:1px solid #8e8e8e;"></div>
<div class="t" style="left:1166.8px;top:753.38px;font-size:12.06px;line-height:15.68px;color:#1a1a1a;font-family:'Liberation Sans', 'DejaVu Sans', sans-serif;font-weight:bold;letter-spacing:0.17px;-webkit-text-stroke:0;">Close</div>
</body></html>
